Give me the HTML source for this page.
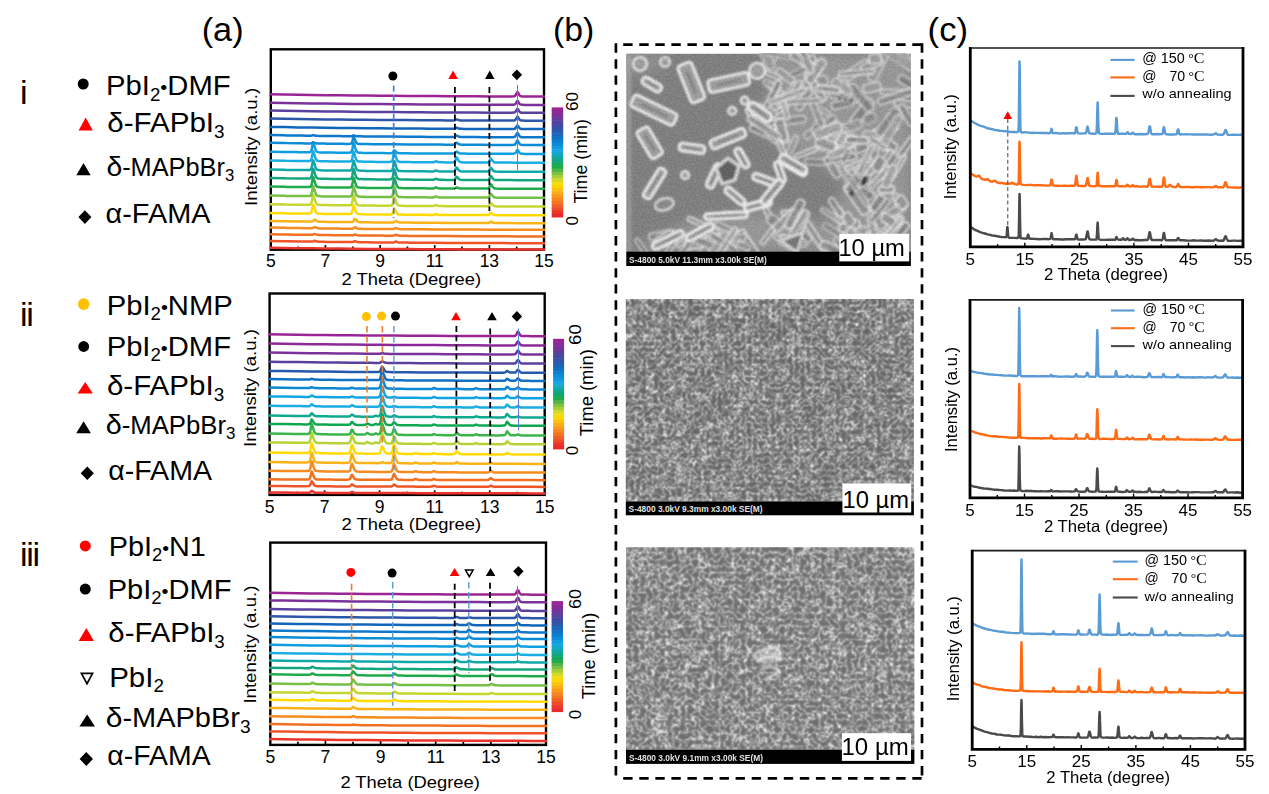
<!DOCTYPE html>
<html lang="en"><head><meta charset="utf-8"><title>XRD and SEM figure</title>
<style>
html,body{margin:0;padding:0;background:#fff;}
body{width:1269px;height:794px;overflow:hidden;font-family:'Liberation Sans', sans-serif;}
svg{display:block;}
svg text{font-family:'Liberation Sans', sans-serif;}
</style></head><body>
<svg width="1269" height="794" viewBox="0 0 1269 794">
<rect width="1269" height="794" fill="#fff"/>
<defs>
<filter id="fGrain" x="0" y="0" width="100%" height="100%" color-interpolation-filters="sRGB">
  <feTurbulence type="fractalNoise" baseFrequency="0.55" numOctaves="2" seed="7"/>
  <feColorMatrix type="matrix" values="2.2 0 0 0 -0.58  2.2 0 0 0 -0.58  2.2 0 0 0 -0.58  0 0 0 0 1"/>
</filter>
<filter id="fSem2" x="0" y="0" width="100%" height="100%" color-interpolation-filters="sRGB">
<feTurbulence type="fractalNoise" baseFrequency="0.17" numOctaves="2" seed="11"/>
<feColorMatrix type="matrix" values="1 0 0 0 0 1 0 0 0 0 1 0 0 0 0 0 0 0 0 1"/>
<feComponentTransfer><feFuncR type="table" tableValues="0.39 0.39 0.39 0.39 0.391 0.392 0.395 0.399 0.405 0.413 0.426 0.442 0.464 0.492 0.527 0.57 1.0 0.57 0.527 0.492 0.464 0.442 0.426 0.413 0.405 0.399 0.395 0.392 0.391 0.39 0.39 0.39 0.39"/><feFuncG type="table" tableValues="0.39 0.39 0.39 0.39 0.391 0.392 0.395 0.399 0.405 0.413 0.426 0.442 0.464 0.492 0.527 0.57 1.0 0.57 0.527 0.492 0.464 0.442 0.426 0.413 0.405 0.399 0.395 0.392 0.391 0.39 0.39 0.39 0.39"/><feFuncB type="table" tableValues="0.39 0.39 0.39 0.39 0.391 0.392 0.395 0.399 0.405 0.413 0.426 0.442 0.464 0.492 0.527 0.57 1.0 0.57 0.527 0.492 0.464 0.442 0.426 0.413 0.405 0.399 0.395 0.392 0.391 0.39 0.39 0.39 0.39"/></feComponentTransfer>
<feConvolveMatrix order="3" kernelMatrix="1 2 1 2 4 2 1 2 1" divisor="16" edgeMode="duplicate" preserveAlpha="true"/>
</filter>
<filter id="fSem3" x="0" y="0" width="100%" height="100%" color-interpolation-filters="sRGB">
<feTurbulence type="fractalNoise" baseFrequency="0.15" numOctaves="2" seed="23"/>
<feColorMatrix type="matrix" values="1 0 0 0 0 1 0 0 0 0 1 0 0 0 0 0 0 0 0 1"/>
<feComponentTransfer><feFuncR type="table" tableValues="0.42 0.42 0.42 0.42 0.421 0.422 0.425 0.429 0.435 0.443 0.456 0.472 0.494 0.522 0.557 0.6 1.0 0.6 0.557 0.522 0.494 0.472 0.456 0.443 0.435 0.429 0.425 0.422 0.421 0.42 0.42 0.42 0.42"/><feFuncG type="table" tableValues="0.42 0.42 0.42 0.42 0.421 0.422 0.425 0.429 0.435 0.443 0.456 0.472 0.494 0.522 0.557 0.6 1.0 0.6 0.557 0.522 0.494 0.472 0.456 0.443 0.435 0.429 0.425 0.422 0.421 0.42 0.42 0.42 0.42"/><feFuncB type="table" tableValues="0.42 0.42 0.42 0.42 0.421 0.422 0.425 0.429 0.435 0.443 0.456 0.472 0.494 0.522 0.557 0.6 1.0 0.6 0.557 0.522 0.494 0.472 0.456 0.443 0.435 0.429 0.425 0.422 0.421 0.42 0.42 0.42 0.42"/></feComponentTransfer>
<feConvolveMatrix order="3" kernelMatrix="1 2 1 2 4 2 1 2 1" divisor="16" edgeMode="duplicate" preserveAlpha="true"/>
</filter>
<filter id="fBlur06" filterUnits="userSpaceOnUse" x="600" y="30" width="340" height="250"><feGaussianBlur stdDeviation="0.9"/></filter>
<filter id="fBlur12" filterUnits="userSpaceOnUse" x="600" y="530" width="340" height="250"><feGaussianBlur stdDeviation="1.1"/></filter>
<filter id="fBlur5" filterUnits="userSpaceOnUse" x="560" y="0" width="420" height="330"><feGaussianBlur stdDeviation="7"/></filter>
<clipPath id="cS1"><rect x="626.4" y="53.8" width="284.4" height="198.2"/></clipPath>
<clipPath id="cS1d1"><path d="M762,53 L911,53 L911,252 L626,252 L640,244 L690,221 L735,213 L790,212 L826,224 L832,214 L846,182 L800,152 L770,140 L747,120 L772,90 Z"/></clipPath>
</defs>
<text x="201.70" y="40.60" font-size="33" textLength="41.90" lengthAdjust="spacingAndGlyphs" >(a)</text>
<text x="553.00" y="40.60" font-size="33" textLength="41.30" lengthAdjust="spacingAndGlyphs" >(b)</text>
<text x="927.60" y="40.60" font-size="33" textLength="40.40" lengthAdjust="spacingAndGlyphs" >(c)</text>
<rect x="270.8" y="49.3" width="273.2" height="200.39999999999998" fill="none" stroke="#000" stroke-width="2.4"/>
<line x1="298.1" y1="249.7" x2="298.1" y2="246.5" stroke="#000" stroke-width="1.7"/>
<line x1="325.4" y1="249.7" x2="325.4" y2="245.1" stroke="#000" stroke-width="1.7"/>
<line x1="352.8" y1="249.7" x2="352.8" y2="246.5" stroke="#000" stroke-width="1.7"/>
<line x1="380.1" y1="249.7" x2="380.1" y2="245.1" stroke="#000" stroke-width="1.7"/>
<line x1="407.4" y1="249.7" x2="407.4" y2="246.5" stroke="#000" stroke-width="1.7"/>
<line x1="434.7" y1="249.7" x2="434.7" y2="245.1" stroke="#000" stroke-width="1.7"/>
<line x1="462.0" y1="249.7" x2="462.0" y2="246.5" stroke="#000" stroke-width="1.7"/>
<line x1="489.4" y1="249.7" x2="489.4" y2="245.1" stroke="#000" stroke-width="1.7"/>
<line x1="516.7" y1="249.7" x2="516.7" y2="246.5" stroke="#000" stroke-width="1.7"/>
<polyline points="269.6,247.8 284.5,248.0 298.1,248.2 311.8,248.3 325.4,248.5 339.1,248.6 352.8,248.7 366.4,248.9 380.1,249.0 393.7,249.0 407.4,249.1 421.1,249.2 434.7,249.3 448.4,249.3 462.0,249.4 475.7,249.4 489.4,249.5 503.0,249.5 516.7,249.6 530.3,249.6 544.9,249.6" fill="none" stroke="#e9342b" stroke-width="2.5" stroke-linejoin="round"/>
<polyline points="269.6,241.0 284.5,241.2 287.2,241.3 298.1,241.5 303.6,241.6 306.9,241.6 309.0,241.6 310.7,241.6 311.8,241.6 312.6,241.6 313.3,241.3 314.0,240.9 314.5,240.7 315.3,240.9 316.2,241.2 317.2,241.6 318.6,241.7 320.0,241.8 322.2,241.8 324.9,241.8 325.4,241.9 327.6,241.9 328.2,241.9 333.6,242.0 338.6,242.0 339.1,242.0 341.8,242.1 344.0,242.1 347.3,242.1 349.5,242.1 351.1,242.1 352.2,242.1 352.8,242.1 353.0,242.0 353.7,241.8 354.4,241.4 354.9,241.2 355.8,241.4 356.6,241.7 357.7,242.0 359.0,242.2 360.4,242.2 362.6,242.3 365.3,242.3 366.4,242.3 368.3,242.3 368.6,242.3 374.1,242.4 379.3,242.4 380.1,242.4 382.3,242.4 384.7,242.5 388.0,242.5 390.2,242.5 391.8,242.5 392.9,242.5 393.2,242.5 393.7,242.4 394.4,242.2 395.1,241.7 395.7,241.6 396.5,241.7 397.3,242.1 398.4,242.4 399.8,242.5 401.1,242.6 403.3,242.6 406.0,242.6 407.4,242.6 409.3,242.7 414.8,242.7 421.1,242.7 423.0,242.7 433.9,242.8 434.7,242.8 448.4,242.9 462.0,243.0 475.7,243.0 489.4,243.1 503.0,243.1 516.7,243.2 530.3,243.2 544.9,243.2" fill="none" stroke="#ee5426" stroke-width="2.5" stroke-linejoin="round"/>
<polyline points="269.6,234.2 284.5,234.4 287.2,234.5 298.1,234.7 303.6,234.8 306.9,234.8 309.0,234.8 310.7,234.8 311.8,234.8 312.6,234.8 313.3,234.5 314.0,234.1 314.5,233.9 315.3,234.1 316.2,234.4 317.2,234.8 318.6,234.9 320.0,235.0 322.2,235.0 324.9,235.0 325.4,235.1 327.6,235.1 328.2,235.1 333.6,235.2 338.6,235.2 339.1,235.2 341.8,235.3 344.0,235.3 347.3,235.3 349.5,235.3 351.1,235.3 352.2,235.3 352.8,235.3 353.0,235.2 353.7,235.0 354.4,234.6 354.9,234.4 355.8,234.6 356.6,234.9 357.7,235.2 359.0,235.4 360.4,235.4 362.6,235.5 365.3,235.5 366.4,235.5 368.3,235.5 368.6,235.5 374.1,235.6 379.3,235.6 380.1,235.6 382.3,235.6 384.7,235.7 388.0,235.7 390.2,235.7 391.8,235.7 392.9,235.7 393.2,235.7 393.7,235.6 394.4,235.4 395.1,234.9 395.7,234.8 396.5,234.9 397.3,235.3 398.4,235.6 399.8,235.7 401.1,235.8 403.3,235.8 406.0,235.8 407.4,235.8 409.3,235.9 414.8,235.9 421.1,235.9 423.0,235.9 433.9,236.0 434.7,236.0 448.4,236.1 462.0,236.2 475.7,236.2 489.4,236.3 503.0,236.3 516.7,236.4 530.3,236.4 544.9,236.4" fill="none" stroke="#f37021" stroke-width="2.5" stroke-linejoin="round"/>
<polyline points="269.6,227.6 284.5,227.8 287.2,227.9 298.1,228.1 303.6,228.2 306.9,228.2 309.0,228.2 310.7,228.2 311.8,228.2 312.6,228.1 313.3,227.8 314.0,227.3 314.5,227.1 315.3,227.3 316.2,227.7 317.2,228.1 318.6,228.3 320.0,228.4 322.2,228.4 324.9,228.4 325.4,228.4 327.6,228.5 328.2,228.5 333.6,228.6 338.6,228.6 339.1,228.6 341.8,228.7 344.0,228.7 347.3,228.7 349.5,228.7 351.1,228.7 352.2,228.7 352.8,228.6 353.0,228.6 353.7,228.2 354.4,227.6 354.9,227.3 355.8,227.6 356.6,228.0 357.7,228.5 359.0,228.8 360.4,228.8 362.6,228.9 365.3,228.9 366.4,228.9 368.3,228.9 368.6,228.9 374.1,229.0 379.3,229.0 380.1,229.0 382.3,229.0 384.7,229.1 388.0,229.1 390.2,229.1 391.8,229.1 392.9,229.1 393.2,229.1 393.7,229.0 394.4,228.7 395.1,228.2 395.7,228.0 396.5,228.2 397.3,228.6 398.4,228.9 399.8,229.1 401.1,229.2 403.3,229.2 406.0,229.2 407.4,229.2 409.3,229.3 414.8,229.3 421.1,229.3 423.0,229.3 433.9,229.4 434.7,229.4 448.4,229.5 462.0,229.6 475.7,229.6 489.4,229.7 503.0,229.7 516.7,229.8 530.3,229.8 544.9,229.8" fill="none" stroke="#f68b1f" stroke-width="2.5" stroke-linejoin="round"/>
<polyline points="269.6,221.0 284.5,221.2 287.2,221.3 298.1,221.5 303.6,221.5 306.9,221.6 309.0,221.6 310.7,221.6 311.8,221.6 312.6,221.4 313.3,220.8 314.0,219.9 314.5,219.5 315.3,219.9 316.2,220.6 317.2,221.3 318.6,221.7 320.0,221.7 322.2,221.8 324.9,221.8 325.4,221.8 327.6,221.9 328.2,221.9 333.6,222.0 338.6,222.0 339.1,222.0 341.8,222.0 344.0,222.1 347.3,222.1 349.5,222.1 351.1,222.1 352.2,222.0 352.8,221.9 353.0,221.7 353.7,220.8 354.4,219.4 354.9,218.7 355.8,219.3 356.6,220.4 357.7,221.5 359.0,222.1 360.4,222.2 362.6,222.2 365.3,222.3 366.4,222.3 368.3,222.3 368.6,222.3 374.1,222.4 379.3,222.4 380.1,222.4 382.3,222.4 384.7,222.5 388.0,222.5 390.2,222.5 391.8,222.5 392.9,222.5 393.2,222.4 393.7,222.3 394.4,221.9 395.1,221.3 395.7,221.0 396.5,221.2 397.3,221.7 398.4,222.3 399.8,222.5 401.1,222.6 403.3,222.6 406.0,222.6 407.4,222.6 409.3,222.6 414.8,222.7 421.1,222.7 423.0,222.7 433.9,222.8 434.7,222.8 448.4,222.9 462.0,223.0 463.4,223.0 474.3,223.0 475.7,223.0 479.8,223.0 483.1,223.0 485.3,223.0 486.9,223.0 488.0,223.0 488.8,222.9 489.4,222.6 489.5,222.5 490.2,221.9 490.7,221.6 491.5,221.8 492.4,222.3 493.5,222.8 494.8,223.0 496.2,223.1 498.4,223.1 501.1,223.1 503.0,223.1 504.4,223.1 509.9,223.1 516.7,223.2 518.0,223.2 529.0,223.2 530.3,223.2 544.9,223.2" fill="none" stroke="#fbb216" stroke-width="2.5" stroke-linejoin="round"/>
<polyline points="269.6,213.1 284.5,213.3 285.8,213.4 296.8,213.5 298.1,213.6 302.2,213.6 305.5,213.6 307.7,213.6 309.3,213.6 310.4,213.4 311.2,212.5 311.8,210.9 311.9,210.3 312.6,206.5 313.1,204.8 314.0,206.3 314.8,209.2 315.9,212.1 317.2,213.4 318.6,213.7 320.8,213.8 323.5,213.9 325.4,213.9 326.3,213.9 326.8,213.9 332.3,214.0 337.2,214.1 339.1,214.1 340.5,214.1 342.7,214.1 345.9,214.1 348.1,214.1 349.8,214.1 350.8,213.9 351.4,213.5 351.7,213.0 352.4,210.7 352.8,208.5 353.0,207.0 353.6,205.3 354.4,206.8 355.2,209.7 356.3,212.6 357.7,213.9 359.0,214.1 361.2,214.2 364.0,214.3 366.4,214.4 367.0,214.4 367.2,214.4 372.7,214.4 377.9,214.5 380.1,214.5 380.9,214.5 383.4,214.5 386.6,214.5 388.8,214.5 390.5,214.5 391.6,214.4 391.8,214.3 392.4,213.8 393.1,212.3 393.7,209.8 394.3,208.6 395.1,209.6 395.9,211.6 397.0,213.5 398.4,214.4 399.8,214.5 401.9,214.6 404.7,214.7 407.4,214.7 407.9,214.7 408.5,214.7 413.4,214.8 419.4,214.8 421.1,214.8 421.6,214.8 424.9,214.8 428.2,214.9 430.3,214.9 432.0,214.9 432.5,214.9 433.1,214.9 433.9,214.8 434.6,214.5 434.7,214.4 435.3,214.1 435.8,213.9 436.6,214.1 437.5,214.4 438.5,214.7 439.9,214.9 441.3,214.9 443.5,214.9 446.2,215.0 448.4,215.0 449.5,215.0 454.9,215.0 462.0,215.1 463.1,215.1 463.4,215.1 474.1,215.1 474.3,215.1 475.7,215.1 479.8,215.1 483.1,215.1 485.3,215.1 486.9,215.1 488.0,215.1 488.8,214.8 489.4,214.4 489.5,214.2 490.2,213.1 490.7,212.7 491.5,213.1 492.4,213.9 493.5,214.7 494.8,215.1 496.2,215.1 498.4,215.2 501.1,215.2 503.0,215.2 504.4,215.2 509.9,215.2 516.7,215.3 518.0,215.3 529.0,215.3 530.3,215.3 544.9,215.3" fill="none" stroke="#ffd900" stroke-width="2.5" stroke-linejoin="round"/>
<polyline points="269.6,204.3 284.5,204.5 285.8,204.6 296.8,204.7 298.1,204.8 302.2,204.8 305.5,204.8 307.7,204.8 309.3,204.8 310.4,204.5 311.2,203.6 311.8,201.7 311.9,201.1 312.6,196.9 313.1,195.0 314.0,196.7 314.8,199.9 315.9,203.1 317.2,204.5 318.6,204.8 320.8,205.0 323.5,205.1 325.4,205.1 326.3,205.1 326.8,205.1 332.3,205.2 337.2,205.3 339.1,205.3 340.5,205.3 342.7,205.3 345.9,205.3 348.1,205.3 349.8,205.2 350.8,205.0 351.4,204.6 351.7,204.1 352.4,201.6 352.8,199.1 353.0,197.4 353.6,195.5 354.4,197.2 355.2,200.4 356.3,203.6 357.7,205.0 359.0,205.3 361.2,205.4 364.0,205.5 366.4,205.6 367.0,205.6 367.2,205.6 372.7,205.6 377.9,205.7 380.1,205.7 380.9,205.7 383.4,205.7 386.6,205.7 388.8,205.7 390.5,205.6 391.6,205.4 391.8,205.3 392.4,204.6 393.1,202.3 393.7,198.5 394.3,196.8 395.1,198.3 395.9,201.2 397.0,204.1 398.4,205.4 399.8,205.7 401.9,205.8 404.7,205.9 407.4,205.9 407.9,205.9 408.5,205.9 413.4,206.0 419.4,206.0 421.1,206.0 421.6,206.0 424.9,206.0 428.2,206.1 430.3,206.1 432.0,206.1 432.5,206.1 433.1,206.1 433.9,206.0 434.6,205.7 434.7,205.6 435.3,205.3 435.8,205.1 436.6,205.3 437.5,205.6 438.5,205.9 439.9,206.1 441.3,206.1 443.5,206.1 446.2,206.2 448.4,206.2 449.5,206.2 454.9,206.2 462.0,206.3 463.1,206.3 463.4,206.3 474.1,206.3 474.3,206.3 475.7,206.3 479.8,206.3 483.1,206.3 485.3,206.3 486.9,206.3 488.0,206.2 488.8,205.9 489.4,205.2 489.5,205.0 490.2,203.5 490.7,202.9 491.5,203.5 492.4,204.6 493.5,205.7 494.8,206.2 496.2,206.3 498.4,206.4 501.1,206.4 503.0,206.4 504.4,206.4 509.9,206.4 516.7,206.5 518.0,206.5 529.0,206.5 530.3,206.5 544.9,206.5" fill="none" stroke="#c5d62f" stroke-width="2.5" stroke-linejoin="round"/>
<polyline points="269.6,195.6 284.5,195.8 285.8,195.9 296.8,196.0 298.1,196.1 302.2,196.1 305.5,196.1 307.7,196.1 309.3,196.1 310.4,195.8 311.2,194.9 311.8,193.0 311.9,192.4 312.6,188.2 313.1,186.3 314.0,188.0 314.8,191.2 315.9,194.4 317.2,195.8 318.6,196.1 320.8,196.3 323.5,196.4 325.4,196.4 326.3,196.4 326.8,196.4 332.3,196.5 337.2,196.6 339.1,196.6 340.5,196.6 342.7,196.6 345.9,196.6 348.1,196.6 349.8,196.5 350.8,196.3 351.4,195.9 351.7,195.4 352.4,192.9 352.8,190.4 353.0,188.7 353.6,186.8 354.4,188.5 355.2,191.7 356.3,194.9 357.7,196.3 359.0,196.6 361.2,196.7 364.0,196.8 366.4,196.9 367.0,196.9 367.2,196.9 372.7,196.9 377.9,197.0 380.1,197.0 380.9,197.0 383.4,197.0 386.6,197.0 388.8,197.0 390.5,196.9 391.6,196.7 391.8,196.5 392.4,195.8 393.1,193.2 393.7,189.0 394.3,187.1 395.1,188.8 395.9,192.0 397.0,195.2 398.4,196.7 399.8,196.9 401.9,197.1 404.7,197.2 407.4,197.2 407.9,197.2 408.5,197.2 413.4,197.3 419.4,197.3 421.1,197.3 421.6,197.3 424.9,197.3 428.2,197.4 430.3,197.4 432.0,197.4 432.5,197.4 433.1,197.4 433.9,197.3 434.6,197.0 434.7,196.9 435.3,196.6 435.8,196.4 436.6,196.6 437.5,196.9 438.5,197.2 439.9,197.4 441.3,197.4 443.5,197.4 446.2,197.5 448.4,197.5 449.5,197.5 454.9,197.5 462.0,197.6 463.1,197.6 463.4,197.6 474.1,197.6 474.3,197.6 475.7,197.6 479.8,197.6 483.1,197.6 485.3,197.6 486.9,197.6 488.0,197.5 488.8,197.1 489.4,196.4 489.5,196.1 490.2,194.4 490.7,193.7 491.5,194.3 492.4,195.6 493.5,196.9 494.8,197.5 496.2,197.6 498.4,197.7 501.1,197.7 503.0,197.7 504.4,197.7 509.9,197.7 516.7,197.8 518.0,197.8 529.0,197.8 530.3,197.8 544.9,197.8" fill="none" stroke="#74bf44" stroke-width="2.5" stroke-linejoin="round"/>
<polyline points="269.6,186.6 284.5,186.8 285.8,186.9 296.8,187.0 298.1,187.1 302.2,187.1 305.5,187.1 307.7,187.1 309.3,187.1 310.4,186.8 311.2,185.9 311.8,184.0 311.9,183.4 312.6,179.2 313.1,177.3 314.0,179.0 314.8,182.2 315.9,185.4 317.2,186.8 318.6,187.1 320.8,187.3 323.5,187.4 325.4,187.4 326.3,187.4 326.8,187.4 332.3,187.5 337.2,187.6 339.1,187.6 340.5,187.6 342.7,187.6 345.9,187.6 348.1,187.6 349.8,187.5 350.8,187.3 351.4,186.9 351.7,186.4 352.4,183.9 352.8,181.4 353.0,179.7 353.6,177.8 354.4,179.5 355.2,182.7 356.3,185.9 357.7,187.3 359.0,187.6 361.2,187.7 364.0,187.8 366.4,187.9 367.0,187.9 367.2,187.9 372.7,187.9 377.9,188.0 380.1,188.0 380.9,188.0 383.4,188.0 386.6,188.0 388.8,188.0 390.5,187.9 391.6,187.7 391.8,187.5 392.4,186.8 393.1,184.2 393.7,180.0 394.3,178.1 395.1,179.8 395.9,183.0 397.0,186.2 398.4,187.7 399.8,187.9 401.9,188.1 404.7,188.2 407.4,188.2 407.9,188.2 408.5,188.2 413.4,188.3 419.4,188.3 421.1,188.3 421.6,188.3 424.9,188.3 428.2,188.4 429.3,188.4 430.3,188.4 432.0,188.4 432.5,188.4 433.1,188.4 433.9,188.3 434.6,188.0 434.7,187.9 435.3,187.6 435.8,187.4 436.6,187.6 437.5,187.9 438.5,188.2 439.9,188.4 440.2,188.4 441.3,188.4 443.5,188.4 445.6,188.5 446.2,188.5 448.4,188.5 448.9,188.5 449.5,188.5 451.1,188.5 452.8,188.5 453.8,188.5 454.7,188.4 454.9,188.3 455.3,188.1 456.0,187.7 456.6,187.5 457.4,187.7 458.2,188.0 459.3,188.3 460.7,188.5 462.0,188.5 463.1,188.5 463.4,188.5 464.2,188.6 467.0,188.6 470.2,188.6 474.1,188.6 474.3,188.6 475.7,188.6 479.8,188.6 483.1,188.6 483.9,188.6 485.3,188.6 486.9,188.6 488.0,188.5 488.8,188.1 489.4,187.2 489.5,186.9 490.2,185.0 490.7,184.2 491.5,184.9 492.4,186.4 493.5,187.8 494.8,188.5 496.2,188.6 498.4,188.7 501.1,188.7 503.0,188.7 504.4,188.7 509.9,188.7 516.7,188.8 518.0,188.8 529.0,188.8 530.3,188.8 544.9,188.8" fill="none" stroke="#1faa4b" stroke-width="2.5" stroke-linejoin="round"/>
<polyline points="269.6,178.0 284.5,178.2 285.8,178.3 296.8,178.4 298.1,178.5 302.2,178.5 305.5,178.5 307.7,178.5 309.3,178.5 310.4,178.2 311.2,177.3 311.8,175.4 311.9,174.8 312.6,170.6 313.1,168.7 314.0,170.4 314.8,173.6 315.9,176.8 317.2,178.2 318.6,178.5 320.8,178.7 323.5,178.8 325.4,178.8 326.3,178.8 326.8,178.8 332.3,178.9 337.2,179.0 339.1,179.0 340.5,179.0 342.7,179.0 345.9,179.0 348.1,179.0 349.8,178.9 350.8,178.7 351.4,178.3 351.7,177.8 352.4,175.3 352.8,172.8 353.0,171.1 353.6,169.2 354.4,170.9 355.2,174.1 356.3,177.3 357.7,178.7 359.0,179.0 361.2,179.1 364.0,179.2 366.4,179.3 367.0,179.3 367.2,179.3 372.7,179.3 377.9,179.4 380.1,179.4 380.9,179.4 383.4,179.4 386.6,179.4 388.8,179.4 390.5,179.3 391.6,179.1 391.8,178.9 392.4,178.2 393.1,175.6 393.7,171.4 394.3,169.5 395.1,171.2 395.9,174.4 397.0,177.6 398.4,179.1 399.8,179.3 401.9,179.5 404.7,179.6 407.4,179.6 407.9,179.6 408.5,179.6 413.4,179.7 419.4,179.7 421.1,179.7 421.6,179.7 424.9,179.7 428.2,179.8 429.3,179.8 430.3,179.8 432.0,179.8 432.5,179.8 433.1,179.8 433.9,179.7 434.6,179.4 434.7,179.3 435.3,179.0 435.8,178.8 436.6,179.0 437.5,179.3 438.5,179.6 439.9,179.8 440.2,179.8 441.3,179.8 443.5,179.8 445.6,179.9 446.2,179.9 448.4,179.9 448.9,179.9 449.5,179.9 451.1,179.9 452.8,179.9 453.8,179.8 454.7,179.5 454.9,179.3 455.3,178.7 456.0,177.5 456.6,176.9 457.4,177.4 458.2,178.4 459.3,179.4 460.7,179.8 462.0,179.9 463.1,179.9 463.4,179.9 464.2,179.9 467.0,180.0 470.2,180.0 474.1,180.0 474.3,180.0 475.7,180.0 479.8,180.0 483.1,180.0 483.9,180.0 485.3,180.0 486.9,180.0 488.0,179.9 488.8,179.5 489.4,178.8 489.5,178.5 490.2,176.8 490.7,176.1 491.5,176.7 492.4,178.0 493.5,179.3 494.8,179.9 496.2,180.0 498.4,180.1 501.1,180.1 503.0,180.1 504.4,180.1 509.9,180.1 516.7,180.2 518.0,180.2 529.0,180.2 530.3,180.2 544.9,180.2" fill="none" stroke="#12a67c" stroke-width="2.5" stroke-linejoin="round"/>
<polyline points="269.6,169.6 284.5,169.8 285.8,169.9 296.8,170.0 298.1,170.1 302.2,170.1 305.5,170.1 307.7,170.1 309.3,170.1 310.4,169.8 311.2,168.9 311.8,167.0 311.9,166.4 312.6,162.2 313.1,160.3 314.0,162.0 314.8,165.2 315.9,168.4 317.2,169.8 318.6,170.1 320.8,170.3 323.5,170.4 325.4,170.4 326.3,170.4 326.8,170.4 332.3,170.5 337.2,170.6 339.1,170.6 340.5,170.6 342.7,170.6 345.9,170.6 348.1,170.6 349.8,170.5 350.8,170.3 351.4,169.9 351.7,169.4 352.4,166.9 352.8,164.4 353.0,162.7 353.6,160.8 354.4,162.5 355.2,165.7 356.3,168.9 357.7,170.3 359.0,170.6 361.2,170.7 364.0,170.8 366.4,170.9 367.0,170.9 367.2,170.9 372.7,170.9 377.9,171.0 380.1,171.0 380.9,171.0 383.4,171.0 386.6,171.0 388.8,171.0 390.5,170.9 391.6,170.7 391.8,170.5 392.4,169.8 393.1,167.2 393.7,163.0 394.3,161.1 395.1,162.8 395.9,166.0 397.0,169.2 398.4,170.7 399.8,170.9 401.9,171.1 404.7,171.2 407.4,171.2 407.9,171.2 408.5,171.2 413.4,171.3 419.4,171.3 421.1,171.3 421.6,171.3 424.9,171.3 428.2,171.4 429.3,171.4 430.3,171.4 432.0,171.4 432.5,171.4 433.1,171.4 433.9,171.3 434.6,171.0 434.7,170.9 435.3,170.6 435.8,170.4 436.6,170.6 437.5,170.9 438.5,171.2 439.9,171.4 440.2,171.4 441.3,171.4 443.5,171.4 445.6,171.5 446.2,171.5 448.4,171.5 448.9,171.5 449.5,171.5 451.1,171.5 452.8,171.4 453.8,171.3 454.7,171.0 454.9,170.7 455.3,170.0 456.0,168.3 456.6,167.5 457.4,168.2 458.2,169.5 459.3,170.8 460.7,171.3 462.0,171.5 463.1,171.5 463.4,171.5 464.2,171.5 467.0,171.5 470.2,171.6 474.1,171.6 474.3,171.6 475.7,171.6 479.8,171.6 483.1,171.6 483.9,171.6 485.3,171.6 486.9,171.6 488.0,171.5 488.8,171.1 489.4,170.4 489.5,170.1 490.2,168.4 490.7,167.7 491.5,168.3 492.4,169.6 493.5,170.9 494.8,171.5 496.2,171.6 498.4,171.7 501.1,171.7 503.0,171.7 504.4,171.7 509.9,171.7 516.7,171.8 518.0,171.8 529.0,171.8 530.3,171.8 544.9,171.8" fill="none" stroke="#10a9a8" stroke-width="2.5" stroke-linejoin="round"/>
<polyline points="269.6,160.5 284.5,160.7 285.8,160.8 296.8,160.9 298.1,161.0 302.2,161.0 305.5,161.0 307.7,161.0 309.3,161.0 310.4,160.7 311.2,159.8 311.8,157.9 311.9,157.3 312.6,153.1 313.1,151.2 314.0,152.9 314.8,156.1 315.9,159.3 317.2,160.7 318.6,161.0 320.8,161.2 323.5,161.3 325.4,161.3 326.3,161.3 326.8,161.3 332.3,161.4 337.2,161.5 339.1,161.5 340.5,161.5 342.7,161.5 345.9,161.5 348.1,161.5 349.8,161.4 350.8,161.2 351.4,160.8 351.7,160.3 352.4,157.8 352.8,155.3 353.0,153.6 353.6,151.7 354.4,153.4 355.2,156.6 356.3,159.8 357.7,161.2 359.0,161.5 361.2,161.6 364.0,161.7 366.4,161.8 367.0,161.8 367.2,161.8 372.7,161.8 377.9,161.9 380.1,161.9 380.9,161.9 383.4,161.9 386.6,161.9 388.8,161.9 390.5,161.8 391.6,161.6 391.8,161.4 392.4,160.7 393.1,158.1 393.7,153.9 394.3,152.0 395.1,153.7 395.9,156.9 397.0,160.1 398.4,161.6 399.8,161.8 401.9,162.0 404.7,162.1 407.4,162.1 407.9,162.1 408.5,162.1 413.4,162.2 419.4,162.2 421.1,162.2 421.6,162.2 424.9,162.2 428.2,162.3 429.3,162.3 430.3,162.3 432.0,162.3 432.5,162.3 433.1,162.3 433.9,162.2 434.6,161.9 434.7,161.8 435.3,161.5 435.8,161.3 436.6,161.5 437.5,161.8 438.5,162.1 439.9,162.3 440.2,162.3 441.3,162.3 443.5,162.3 445.6,162.4 446.2,162.4 448.4,162.4 448.9,162.4 449.5,162.4 451.1,162.4 452.8,162.3 453.8,162.2 454.7,161.7 454.9,161.4 455.3,160.5 456.0,158.4 456.6,157.4 457.4,158.3 458.2,159.9 459.3,161.5 460.7,162.2 462.0,162.3 463.1,162.4 463.4,162.4 464.2,162.4 467.0,162.4 470.2,162.5 474.1,162.5 474.3,162.5 475.7,162.5 479.8,162.5 483.1,162.5 483.9,162.5 485.3,162.5 486.9,162.5 488.0,162.4 488.8,162.0 489.4,161.3 489.5,161.0 490.2,159.3 490.7,158.6 491.5,159.2 492.4,160.5 493.5,161.8 494.8,162.4 496.2,162.5 498.4,162.6 501.1,162.6 503.0,162.6 504.4,162.6 509.9,162.6 516.7,162.7 518.0,162.7 529.0,162.7 530.3,162.7 544.9,162.7" fill="none" stroke="#19ade4" stroke-width="2.5" stroke-linejoin="round"/>
<polyline points="269.6,151.7 284.5,151.9 285.8,152.0 296.8,152.1 298.1,152.2 302.2,152.2 305.5,152.2 307.7,152.2 309.3,152.2 310.4,151.9 311.2,151.0 311.8,149.1 311.9,148.5 312.6,144.3 313.1,142.4 314.0,144.1 314.8,147.3 315.9,150.5 317.2,151.9 318.6,152.2 320.8,152.4 323.5,152.5 325.4,152.5 326.3,152.5 326.8,152.5 332.3,152.6 337.2,152.7 339.1,152.7 340.5,152.7 342.7,152.7 345.9,152.7 348.1,152.7 349.8,152.6 350.8,152.4 351.4,152.0 351.7,151.5 352.4,149.0 352.8,146.5 353.0,144.8 353.6,142.9 354.4,144.6 355.2,147.8 356.3,151.0 357.7,152.4 359.0,152.7 361.2,152.8 364.0,152.9 366.4,153.0 367.0,153.0 367.2,153.0 372.7,153.0 377.9,153.1 380.1,153.1 380.9,153.1 383.4,153.1 386.6,153.2 388.8,153.2 390.5,153.2 391.6,153.1 391.8,153.0 392.4,152.8 393.1,152.1 393.7,150.8 394.3,150.2 395.1,150.7 395.9,151.7 397.0,152.7 398.4,153.1 399.8,153.2 401.9,153.3 404.7,153.3 407.4,153.3 407.9,153.3 413.4,153.4 421.1,153.4 421.6,153.4 429.3,153.5 432.5,153.5 434.7,153.5 440.2,153.5 445.6,153.6 448.4,153.6 448.9,153.6 451.1,153.6 452.8,153.6 453.8,153.5 454.7,153.4 455.3,152.8 456.0,152.0 456.6,151.6 457.4,152.0 458.2,152.6 459.3,153.3 460.7,153.5 462.0,153.6 464.2,153.6 467.0,153.7 470.2,153.7 475.7,153.7 483.9,153.7 489.4,153.8 490.2,153.8 494.8,153.8 501.1,153.8 503.0,153.8 506.6,153.8 509.9,153.8 512.0,153.8 513.7,153.7 514.8,153.4 515.6,152.7 516.3,151.6 516.7,150.8 517.0,150.3 517.5,149.9 518.3,150.8 519.1,152.3 520.2,153.4 521.6,153.8 523.0,153.8 525.1,153.9 527.9,153.9 530.3,153.9 531.2,153.9 536.6,153.9 544.9,153.9" fill="none" stroke="#0e9ee0" stroke-width="2.5" stroke-linejoin="round"/>
<polyline points="269.6,142.8 284.5,143.0 285.8,143.1 296.8,143.2 298.1,143.3 302.2,143.3 305.5,143.4 307.7,143.4 309.3,143.4 310.4,143.4 311.2,143.3 311.8,143.1 311.9,143.0 312.6,142.5 313.1,142.3 314.0,142.5 314.8,142.9 315.9,143.3 317.2,143.5 318.6,143.5 320.8,143.6 323.5,143.6 325.4,143.6 326.3,143.7 326.8,143.7 332.3,143.7 337.2,143.8 339.1,143.8 340.5,143.8 342.7,143.8 345.9,143.9 348.1,143.9 349.8,143.8 350.8,143.7 351.4,143.4 351.7,143.0 352.4,141.2 352.8,139.5 353.0,138.3 353.6,137.0 354.4,138.2 355.2,140.4 356.3,142.7 357.7,143.7 359.0,143.9 361.2,144.0 364.0,144.0 366.4,144.1 367.2,144.1 372.7,144.2 380.1,144.2 380.9,144.2 391.8,144.3 393.7,144.3 407.4,144.4 421.1,144.5 429.3,144.6 434.7,144.6 440.2,144.6 445.6,144.7 448.4,144.7 448.9,144.7 451.1,144.7 452.8,144.7 453.8,144.6 454.7,144.5 455.3,143.9 456.0,143.1 456.6,142.7 457.4,143.1 458.2,143.7 459.3,144.4 460.7,144.6 462.0,144.7 464.2,144.7 467.0,144.8 470.2,144.8 475.7,144.8 483.9,144.8 489.4,144.9 490.2,144.9 494.8,144.9 501.1,144.9 503.0,144.9 506.6,144.9 509.9,144.9 512.0,144.9 513.7,144.8 514.8,144.5 515.6,143.7 516.3,142.4 516.7,141.5 517.0,141.0 517.5,140.5 518.3,141.5 519.1,143.2 520.2,144.5 521.6,144.9 523.0,144.9 525.1,145.0 527.9,145.0 530.3,145.0 531.2,145.0 536.6,145.0 544.9,145.0" fill="none" stroke="#0c8bd6" stroke-width="2.5" stroke-linejoin="round"/>
<polyline points="269.6,135.1 284.5,135.3 285.8,135.4 296.8,135.5 298.1,135.6 302.2,135.6 305.5,135.7 307.7,135.7 309.3,135.7 310.4,135.7 311.2,135.7 311.8,135.6 311.9,135.5 312.6,135.3 313.1,135.2 314.0,135.3 314.8,135.5 315.9,135.7 317.2,135.8 318.6,135.9 320.8,135.9 323.5,135.9 325.4,136.0 326.3,136.0 326.8,136.0 332.3,136.0 337.2,136.1 339.1,136.1 340.5,136.1 342.7,136.2 345.9,136.2 348.1,136.2 349.8,136.2 350.8,136.2 351.4,136.2 351.7,136.2 352.4,136.0 352.8,135.8 353.0,135.6 353.6,135.5 354.4,135.6 355.2,135.9 356.3,136.2 357.7,136.3 359.0,136.3 361.2,136.3 364.0,136.4 366.4,136.4 367.2,136.4 372.7,136.5 380.1,136.5 380.9,136.5 391.8,136.6 393.7,136.6 407.4,136.7 421.1,136.8 429.3,136.9 434.7,136.9 440.2,136.9 445.6,137.0 448.4,137.0 448.9,137.0 451.1,137.0 452.8,137.0 453.8,137.0 454.7,136.8 455.3,136.4 456.0,135.8 456.6,135.5 457.4,135.8 458.2,136.3 459.3,136.8 460.7,137.0 462.0,137.0 464.2,137.0 467.0,137.1 470.2,137.1 475.7,137.1 483.9,137.2 489.4,137.2 490.2,137.2 494.8,137.2 501.1,137.2 503.0,137.2 506.6,137.2 509.9,137.2 512.0,137.2 513.7,137.1 514.8,136.8 515.6,136.0 516.3,134.7 516.7,133.8 517.0,133.3 517.5,132.8 518.3,133.8 519.1,135.5 520.2,136.8 521.6,137.2 523.0,137.2 525.1,137.3 527.9,137.3 530.3,137.3 531.2,137.3 536.6,137.3 544.9,137.3" fill="none" stroke="#0f78ca" stroke-width="2.5" stroke-linejoin="round"/>
<polyline points="269.6,126.9 284.5,127.1 298.1,127.4 311.8,127.6 325.4,127.8 339.1,127.9 352.8,128.1 366.4,128.2 380.1,128.3 393.7,128.4 407.4,128.5 421.1,128.6 429.3,128.7 434.7,128.7 440.2,128.7 445.6,128.8 448.4,128.8 448.9,128.8 451.1,128.8 452.8,128.8 453.8,128.8 454.7,128.7 455.3,128.4 456.0,128.0 456.6,127.8 457.4,128.0 458.2,128.3 459.3,128.7 460.7,128.8 462.0,128.8 464.2,128.9 467.0,128.9 470.2,128.9 475.7,128.9 483.9,129.0 489.4,129.0 490.2,129.0 494.8,129.0 501.1,129.0 503.0,129.0 506.6,129.0 509.9,129.0 512.0,129.0 513.7,128.9 514.8,128.7 515.6,128.0 516.3,127.1 516.7,126.4 517.0,126.0 517.5,125.6 518.3,126.4 519.1,127.7 520.2,128.7 521.6,129.0 523.0,129.0 525.1,129.1 527.9,129.1 530.3,129.1 531.2,129.1 536.6,129.1 544.9,129.1" fill="none" stroke="#1166b9" stroke-width="2.5" stroke-linejoin="round"/>
<polyline points="269.6,118.5 284.5,118.7 298.1,119.0 311.8,119.2 325.4,119.4 339.1,119.5 352.8,119.7 366.4,119.8 380.1,119.9 393.7,120.0 407.4,120.1 421.1,120.2 429.3,120.3 434.7,120.3 440.2,120.3 445.6,120.4 448.4,120.4 448.9,120.4 451.1,120.4 452.8,120.4 453.8,120.4 454.7,120.3 455.3,120.0 456.0,119.6 456.6,119.4 457.4,119.6 458.2,119.9 459.3,120.3 460.7,120.4 462.0,120.4 464.2,120.5 467.0,120.5 470.2,120.5 475.7,120.5 483.9,120.6 489.4,120.6 490.2,120.6 494.8,120.6 501.1,120.6 503.0,120.6 506.6,120.6 509.9,120.6 512.0,120.6 513.7,120.5 514.8,120.2 515.6,119.5 516.3,118.4 516.7,117.6 517.0,117.1 517.5,116.7 518.3,117.6 519.1,119.1 520.2,120.2 521.6,120.6 523.0,120.6 525.1,120.7 527.9,120.7 530.3,120.7 531.2,120.7 536.6,120.7 544.9,120.7" fill="none" stroke="#2c56a8" stroke-width="2.5" stroke-linejoin="round"/>
<polyline points="269.6,110.6 284.5,110.8 298.1,111.1 311.8,111.3 325.4,111.5 339.1,111.6 352.8,111.8 366.4,111.9 380.1,112.0 393.7,112.1 407.4,112.2 421.1,112.3 434.7,112.4 448.4,112.5 462.0,112.6 475.7,112.6 489.4,112.7 490.2,112.7 501.1,112.7 503.0,112.7 506.6,112.7 509.9,112.7 512.0,112.7 513.7,112.6 514.8,112.3 515.6,111.6 516.3,110.5 516.7,109.7 517.0,109.2 517.5,108.8 518.3,109.7 519.1,111.2 520.2,112.3 521.6,112.7 523.0,112.7 525.1,112.8 527.9,112.8 530.3,112.8 531.2,112.8 536.6,112.8 544.9,112.8" fill="none" stroke="#5a409e" stroke-width="2.5" stroke-linejoin="round"/>
<polyline points="269.6,102.7 284.5,102.9 298.1,103.2 311.8,103.4 325.4,103.6 339.1,103.7 352.8,103.9 366.4,104.0 380.1,104.1 393.7,104.2 407.4,104.3 421.1,104.4 434.7,104.5 448.4,104.6 462.0,104.7 475.7,104.7 489.4,104.8 490.2,104.8 501.1,104.8 503.0,104.8 506.6,104.8 509.9,104.8 512.0,104.8 513.7,104.7 514.8,104.4 515.6,103.7 516.3,102.6 516.7,101.8 517.0,101.3 517.5,100.9 518.3,101.8 519.1,103.3 520.2,104.4 521.6,104.8 523.0,104.8 525.1,104.9 527.9,104.9 530.3,104.9 531.2,104.9 536.6,104.9 544.9,104.9" fill="none" stroke="#7a329a" stroke-width="2.5" stroke-linejoin="round"/>
<polyline points="269.6,94.3 284.5,94.5 298.1,94.8 311.8,95.0 325.4,95.2 339.1,95.3 352.8,95.5 366.4,95.6 380.1,95.7 393.7,95.8 407.4,95.9 421.1,96.0 434.7,96.1 448.4,96.2 462.0,96.3 475.7,96.3 489.4,96.4 490.2,96.4 501.1,96.4 503.0,96.4 506.6,96.4 509.9,96.4 512.0,96.4 513.7,96.3 514.8,96.0 515.6,95.2 516.3,93.9 516.7,93.0 517.0,92.5 517.5,92.0 518.3,93.0 519.1,94.7 520.2,96.0 521.6,96.4 523.0,96.4 525.1,96.5 527.9,96.5 530.3,96.5 531.2,96.5 536.6,96.5 544.9,96.5" fill="none" stroke="#9a2494" stroke-width="2.5" stroke-linejoin="round"/>
<text x="270.80" y="267.30" font-size="17.5" text-anchor="middle" >5</text>
<text x="325.44" y="267.30" font-size="17.5" text-anchor="middle" >7</text>
<text x="380.08" y="267.30" font-size="17.5" text-anchor="middle" >9</text>
<text x="434.72" y="267.30" font-size="17.5" text-anchor="middle" >11</text>
<text x="489.36" y="267.30" font-size="17.5" text-anchor="middle" >13</text>
<text x="544.00" y="267.30" font-size="17.5" text-anchor="middle" >15</text>
<line x1="393.7" y1="85.5" x2="393.7" y2="218" stroke="#4a7bd0" stroke-width="1.7" stroke-dasharray="6 3.4"/>
<line x1="454.9" y1="87" x2="454.9" y2="189" stroke="#000" stroke-width="1.8" stroke-dasharray="6 3.2"/>
<line x1="489.4" y1="87" x2="489.4" y2="211" stroke="#000" stroke-width="1.8" stroke-dasharray="6 3.2"/>
<line x1="517.5" y1="85" x2="517.5" y2="170" stroke="#5b82d2" stroke-width="1.0"/>
<circle cx="392.9" cy="76.0" r="4.5" fill="#000"/>
<polygon points="448.3,79.0 457.9,79.0 453.1,70.6" fill="#ff0000"/>
<polygon points="485.0,79.0 494.6,79.0 489.8,70.6" fill="#000"/>
<polygon points="511.7,74.8 516.9,69.4 522.1,74.8 516.9,80.2" fill="#000"/>
<rect x="551.7" y="107.40" width="11.5" height="3.72" fill="#9c2393"/>
<rect x="551.7" y="110.62" width="11.5" height="3.72" fill="#8b2a97"/>
<rect x="551.7" y="113.85" width="11.5" height="3.72" fill="#7a329a"/>
<rect x="551.7" y="117.07" width="11.5" height="3.72" fill="#69399c"/>
<rect x="551.7" y="120.29" width="11.5" height="3.72" fill="#57419f"/>
<rect x="551.7" y="123.52" width="11.5" height="3.72" fill="#4549a2"/>
<rect x="551.7" y="126.74" width="11.5" height="3.72" fill="#3652a6"/>
<rect x="551.7" y="129.96" width="11.5" height="3.72" fill="#2a5cad"/>
<rect x="551.7" y="133.19" width="11.5" height="3.72" fill="#1766b9"/>
<rect x="551.7" y="136.41" width="11.5" height="3.72" fill="#0f72c5"/>
<rect x="551.7" y="139.64" width="11.5" height="3.72" fill="#0d7fd0"/>
<rect x="551.7" y="142.86" width="11.5" height="3.72" fill="#0c8cd8"/>
<rect x="551.7" y="146.08" width="11.5" height="3.72" fill="#0f99de"/>
<rect x="551.7" y="149.31" width="11.5" height="3.72" fill="#17a6e3"/>
<rect x="551.7" y="152.53" width="11.5" height="3.72" fill="#14a9c6"/>
<rect x="551.7" y="155.75" width="11.5" height="3.72" fill="#10a8a2"/>
<rect x="551.7" y="158.98" width="11.5" height="3.72" fill="#11a67f"/>
<rect x="551.7" y="162.20" width="11.5" height="3.72" fill="#15a65f"/>
<rect x="551.7" y="165.42" width="11.5" height="3.72" fill="#1faa4b"/>
<rect x="551.7" y="168.65" width="11.5" height="3.72" fill="#4fb546"/>
<rect x="551.7" y="171.87" width="11.5" height="3.72" fill="#7cc142"/>
<rect x="551.7" y="175.09" width="11.5" height="3.72" fill="#a8cd38"/>
<rect x="551.7" y="178.32" width="11.5" height="3.72" fill="#cfd92c"/>
<rect x="551.7" y="181.54" width="11.5" height="3.72" fill="#f3dc13"/>
<rect x="551.7" y="184.76" width="11.5" height="3.72" fill="#ffd400"/>
<rect x="551.7" y="187.99" width="11.5" height="3.72" fill="#fdc10f"/>
<rect x="551.7" y="191.21" width="11.5" height="3.72" fill="#fbad18"/>
<rect x="551.7" y="194.44" width="11.5" height="3.72" fill="#f8991d"/>
<rect x="551.7" y="197.66" width="11.5" height="3.72" fill="#f58620"/>
<rect x="551.7" y="200.88" width="11.5" height="3.72" fill="#f37321"/>
<rect x="551.7" y="204.11" width="11.5" height="3.72" fill="#f05f24"/>
<rect x="551.7" y="207.33" width="11.5" height="3.72" fill="#ee4b27"/>
<rect x="551.7" y="210.55" width="11.5" height="3.72" fill="#eb3729"/>
<rect x="551.7" y="213.78" width="11.5" height="3.72" fill="#e9292a"/>
<text x="577.60" y="110.90" font-size="17" transform="rotate(-90 577.60 110.90)" textLength="19.00" lengthAdjust="spacingAndGlyphs" >60</text>
<text x="586.70" y="203.60" font-size="17.5" transform="rotate(-90 586.70 203.60)" textLength="84.50" lengthAdjust="spacingAndGlyphs" >Time (min)</text>
<text x="577.60" y="225.60" font-size="17" transform="rotate(-90 577.60 225.60)" >0</text>
<text x="257.10" y="205.90" font-size="17" transform="rotate(-90 257.10 205.90)" textLength="118.00" lengthAdjust="spacingAndGlyphs" >Intensity (a.u.)</text>
<text x="341.60" y="285.00" font-size="17" textLength="139.50" lengthAdjust="spacingAndGlyphs" >2 Theta (Degree)</text>
<rect x="269.6" y="293.5" width="275.1" height="201.39999999999998" fill="none" stroke="#000" stroke-width="2.4"/>
<line x1="297.1" y1="494.9" x2="297.1" y2="491.7" stroke="#000" stroke-width="1.7"/>
<line x1="324.6" y1="494.9" x2="324.6" y2="490.29999999999995" stroke="#000" stroke-width="1.7"/>
<line x1="352.1" y1="494.9" x2="352.1" y2="491.7" stroke="#000" stroke-width="1.7"/>
<line x1="379.6" y1="494.9" x2="379.6" y2="490.29999999999995" stroke="#000" stroke-width="1.7"/>
<line x1="407.2" y1="494.9" x2="407.2" y2="491.7" stroke="#000" stroke-width="1.7"/>
<line x1="434.7" y1="494.9" x2="434.7" y2="490.29999999999995" stroke="#000" stroke-width="1.7"/>
<line x1="462.2" y1="494.9" x2="462.2" y2="491.7" stroke="#000" stroke-width="1.7"/>
<line x1="489.7" y1="494.9" x2="489.7" y2="490.29999999999995" stroke="#000" stroke-width="1.7"/>
<line x1="517.2" y1="494.9" x2="517.2" y2="491.7" stroke="#000" stroke-width="1.7"/>
<polyline points="268.4,492.5 283.4,492.6 284.2,492.6 295.2,492.7 297.1,492.7 300.7,492.7 304.0,492.7 306.2,492.7 307.8,492.7 308.9,492.7 309.8,492.5 310.5,492.0 310.9,491.5 311.1,491.1 311.7,490.8 312.5,491.1 313.3,491.7 314.4,492.4 315.8,492.7 317.2,492.7 319.4,492.8 322.1,492.8 324.3,492.8 324.6,492.8 325.4,492.8 330.9,492.9 335.3,492.9 338.4,492.9 339.2,492.9 340.9,492.9 344.2,492.9 346.4,492.9 348.0,492.9 349.1,492.9 349.9,492.8 350.2,492.7 350.6,492.5 351.3,492.1 351.9,491.9 352.1,492.0 352.7,492.1 353.5,492.4 354.6,492.8 356.0,492.9 357.4,492.9 359.6,493.0 362.3,493.0 365.6,493.0 365.9,493.0 371.1,493.0 379.4,493.0 379.6,493.0 390.4,493.1 393.4,493.1 407.2,493.1 420.9,493.2 434.7,493.2 448.4,493.2 462.2,493.3 475.9,493.3 489.7,493.3 503.4,493.3 517.2,493.3 530.9,493.4 545.6,493.4" fill="none" stroke="#e9342b" stroke-width="2.5" stroke-linejoin="round"/>
<polyline points="268.4,486.0 283.4,486.1 284.2,486.1 295.2,486.2 297.1,486.2 300.7,486.2 304.0,486.2 306.2,486.2 307.8,486.1 308.9,486.0 309.8,485.6 310.5,484.3 310.9,483.1 311.1,482.2 311.7,481.3 312.5,482.1 313.3,483.7 314.4,485.3 315.8,486.0 317.2,486.2 319.4,486.2 322.1,486.3 324.3,486.3 324.6,486.3 325.4,486.3 330.9,486.3 335.3,486.4 338.4,486.4 339.2,486.4 340.9,486.4 344.2,486.4 346.4,486.4 348.0,486.4 349.1,486.4 349.9,486.2 350.2,486.0 350.6,485.7 351.3,484.8 351.9,484.4 352.1,484.5 352.7,484.8 353.5,485.4 354.6,486.1 356.0,486.4 357.4,486.4 359.6,486.5 362.3,486.5 365.6,486.5 365.9,486.5 366.4,486.5 371.1,486.5 377.4,486.5 379.4,486.5 379.6,486.5 382.9,486.6 386.2,486.6 388.4,486.6 390.1,486.5 390.4,486.5 391.2,486.5 392.0,486.3 392.7,485.8 393.4,485.0 393.9,484.6 394.8,484.9 395.6,485.6 396.7,486.2 398.1,486.5 399.4,486.6 401.6,486.6 404.4,486.6 406.3,486.6 407.2,486.6 407.7,486.6 413.2,486.6 417.3,486.7 420.9,486.7 421.5,486.7 422.8,486.7 426.1,486.7 428.3,486.7 430.0,486.7 431.1,486.6 431.9,486.6 432.5,486.4 432.6,486.3 433.3,485.9 433.8,485.7 434.7,485.9 435.5,486.2 436.6,486.5 438.0,486.7 439.3,486.7 441.5,486.7 444.3,486.7 447.6,486.7 448.4,486.7 453.1,486.7 461.3,486.7 462.2,486.8 463.0,486.8 472.3,486.8 474.0,486.8 475.9,486.8 479.5,486.8 482.8,486.8 485.0,486.8 486.7,486.8 487.8,486.8 488.6,486.7 489.3,486.4 489.7,486.2 490.0,486.0 490.5,485.8 491.3,486.0 492.2,486.3 493.3,486.6 494.6,486.8 496.0,486.8 498.2,486.8 501.0,486.8 503.4,486.8 504.3,486.8 509.8,486.8 517.2,486.8 518.0,486.8 529.0,486.8 530.9,486.8 545.6,486.9" fill="none" stroke="#ee5426" stroke-width="2.5" stroke-linejoin="round"/>
<polyline points="268.4,479.3 283.4,479.4 284.2,479.4 295.2,479.5 297.1,479.5 300.7,479.5 304.0,479.5 306.2,479.5 307.8,479.4 308.9,479.2 309.8,478.5 310.5,476.4 310.9,474.4 311.1,473.1 311.7,471.6 312.5,472.9 313.3,475.4 314.4,478.0 315.8,479.2 317.2,479.4 319.4,479.5 322.1,479.6 324.3,479.6 324.6,479.6 325.4,479.6 330.9,479.6 335.3,479.7 338.4,479.7 339.2,479.7 340.9,479.7 344.2,479.7 346.4,479.7 348.0,479.6 349.1,479.5 349.9,479.0 350.2,478.7 350.6,477.8 351.3,475.7 351.9,474.7 352.1,474.9 352.7,475.6 353.5,477.2 354.6,478.8 356.0,479.5 357.4,479.6 359.6,479.7 362.3,479.8 365.6,479.8 365.9,479.8 366.4,479.8 371.1,479.8 377.4,479.8 379.4,479.8 379.6,479.8 382.9,479.8 386.2,479.8 387.9,479.8 388.4,479.8 390.1,479.8 390.4,479.7 391.2,479.6 392.0,479.1 392.7,477.5 393.4,475.0 393.9,473.9 394.8,474.9 395.6,476.8 396.7,478.7 398.1,479.6 398.9,479.7 399.4,479.8 401.6,479.8 404.4,479.9 406.3,479.9 407.2,479.9 407.7,479.9 409.9,479.9 411.6,479.9 412.7,479.9 413.2,479.8 413.5,479.8 414.2,479.5 414.9,479.1 415.4,478.9 416.2,479.1 417.1,479.4 417.3,479.5 418.2,479.8 419.5,479.9 420.9,479.9 421.5,479.9 422.8,479.9 423.1,480.0 425.9,480.0 426.1,480.0 428.3,480.0 429.2,480.0 430.0,480.0 431.1,479.9 431.9,479.9 432.5,479.7 432.6,479.6 433.3,479.2 433.8,479.0 434.7,479.2 435.5,479.5 436.6,479.8 438.0,479.9 439.3,480.0 441.5,480.0 442.9,480.0 444.3,480.0 447.6,480.0 448.4,480.0 453.1,480.0 453.9,480.0 461.3,480.0 462.2,480.0 463.0,480.1 472.3,480.1 474.0,480.1 475.9,480.1 479.5,480.1 482.8,480.1 485.0,480.1 486.7,480.1 487.8,480.0 488.6,479.8 489.3,479.3 489.7,478.8 490.0,478.5 490.5,478.1 491.3,478.4 492.2,479.1 493.3,479.7 494.6,480.0 496.0,480.1 498.2,480.1 501.0,480.1 503.4,480.1 504.3,480.1 509.8,480.1 517.2,480.1 518.0,480.1 529.0,480.1 530.9,480.1 545.6,480.2" fill="none" stroke="#f37021" stroke-width="2.5" stroke-linejoin="round"/>
<polyline points="268.4,470.7 283.4,470.9 284.2,470.9 295.2,471.1 297.1,471.1 300.7,471.1 304.0,471.1 306.2,471.1 307.8,471.0 308.9,470.8 309.8,469.9 310.5,467.3 310.9,464.9 311.1,463.1 311.7,461.3 312.5,462.9 313.3,466.1 314.4,469.3 315.8,470.8 317.2,471.1 319.4,471.2 322.1,471.3 324.3,471.4 324.6,471.4 325.4,471.4 330.9,471.5 335.3,471.5 338.4,471.5 339.2,471.5 340.9,471.6 344.2,471.6 346.4,471.6 348.0,471.5 349.1,471.3 349.9,470.6 350.2,470.0 350.6,468.5 351.3,465.2 351.9,463.7 352.1,463.9 352.7,465.0 353.5,467.6 354.6,470.1 356.0,471.3 357.4,471.5 359.6,471.7 362.3,471.7 365.6,471.8 365.9,471.8 366.4,471.8 371.1,471.8 377.4,471.9 379.4,471.9 379.6,471.9 382.9,471.9 386.2,471.9 387.9,471.9 388.4,471.9 390.1,471.8 390.4,471.8 391.2,471.6 392.0,470.9 392.7,468.8 393.4,465.5 393.9,464.0 394.8,465.3 395.6,467.9 396.7,470.4 398.1,471.6 398.9,471.8 399.4,471.8 401.6,472.0 404.4,472.0 406.3,472.0 407.2,472.0 407.7,472.1 409.9,472.1 411.6,472.1 412.7,472.1 413.2,472.0 413.5,472.0 414.2,471.7 414.9,471.3 415.4,471.1 416.2,471.3 417.1,471.6 417.3,471.7 418.2,471.9 419.5,472.1 420.9,472.1 421.5,472.1 422.8,472.2 423.1,472.2 425.9,472.2 426.1,472.2 428.3,472.2 429.2,472.2 430.0,472.2 431.1,472.2 431.9,472.1 432.5,471.9 432.6,471.8 433.3,471.4 433.8,471.2 434.7,471.4 435.5,471.7 436.6,472.0 438.0,472.2 439.3,472.2 441.5,472.3 442.9,472.3 444.3,472.3 447.6,472.3 448.4,472.3 453.1,472.3 453.9,472.3 461.3,472.4 462.2,472.4 463.0,472.4 472.3,472.4 474.0,472.4 475.9,472.4 479.5,472.4 482.8,472.4 485.0,472.4 486.7,472.4 487.8,472.4 488.6,472.2 489.3,471.9 489.7,471.5 490.0,471.2 490.5,471.0 491.3,471.2 492.2,471.7 493.3,472.2 494.6,472.4 496.0,472.4 498.2,472.5 501.0,472.5 503.4,472.5 504.3,472.5 509.8,472.5 517.2,472.5 518.0,472.5 529.0,472.6 530.9,472.6 545.6,472.6" fill="none" stroke="#f68b1f" stroke-width="2.5" stroke-linejoin="round"/>
<polyline points="268.4,462.0 283.4,462.2 284.2,462.2 295.2,462.4 297.1,462.4 300.7,462.4 304.0,462.4 306.2,462.4 307.8,462.3 308.9,462.1 309.8,461.2 310.5,458.6 310.9,456.2 311.1,454.4 311.7,452.6 312.5,454.2 313.3,457.4 314.4,460.6 315.8,462.1 317.2,462.4 319.4,462.5 322.1,462.6 324.3,462.7 324.6,462.7 325.4,462.7 330.9,462.8 335.3,462.8 338.4,462.8 339.2,462.8 340.9,462.9 344.2,462.9 346.4,462.8 348.0,462.8 349.1,462.6 349.9,461.7 350.2,461.0 350.6,459.4 351.3,455.7 351.9,454.0 352.1,454.2 352.7,455.5 353.5,458.3 354.6,461.2 356.0,462.5 357.4,462.8 359.6,462.9 362.3,463.0 365.6,463.1 365.9,463.1 366.4,463.1 371.1,463.1 374.4,463.1 376.6,463.2 377.4,463.2 378.3,463.2 379.4,463.1 379.6,463.1 380.2,463.0 380.9,462.7 381.6,462.4 382.1,462.2 382.9,462.3 383.8,462.6 384.9,463.0 386.2,463.1 387.6,463.2 387.9,463.2 388.4,463.1 389.8,463.1 390.1,463.1 390.4,463.0 391.2,462.9 392.0,461.9 392.6,460.0 392.7,459.3 393.4,455.2 393.9,453.3 394.8,455.0 395.6,458.1 395.9,459.1 396.7,461.3 398.1,462.8 398.9,463.0 399.4,463.1 401.4,463.2 401.6,463.2 404.4,463.3 406.3,463.3 407.2,463.3 407.7,463.3 409.6,463.4 409.9,463.4 411.6,463.4 412.7,463.4 413.2,463.3 413.5,463.3 414.2,463.0 414.9,462.6 415.4,462.4 416.2,462.6 417.1,462.9 417.3,463.0 418.2,463.2 419.5,463.4 420.6,463.4 420.9,463.4 421.5,463.4 422.8,463.4 423.1,463.5 425.9,463.5 426.1,463.5 428.3,463.5 429.2,463.5 430.0,463.5 431.1,463.5 431.9,463.4 432.5,463.2 432.6,463.1 433.3,462.7 433.8,462.5 434.7,462.7 435.5,463.0 436.6,463.3 438.0,463.5 439.3,463.5 440.2,463.5 441.5,463.5 442.9,463.6 444.3,463.6 445.7,463.6 447.6,463.6 448.4,463.6 449.0,463.6 451.2,463.6 452.8,463.6 453.1,463.6 453.9,463.6 454.7,463.4 455.4,463.0 456.1,462.4 456.7,462.1 457.5,462.4 458.3,462.9 459.4,463.4 460.8,463.6 461.3,463.6 462.2,463.6 463.0,463.6 464.4,463.6 467.1,463.7 470.4,463.7 472.3,463.7 474.0,463.7 475.9,463.7 479.5,463.7 482.8,463.7 484.2,463.7 485.0,463.7 486.7,463.7 487.8,463.7 488.6,463.6 489.3,463.4 489.7,463.1 490.0,462.9 490.5,462.8 491.3,462.9 492.2,463.2 493.3,463.6 494.6,463.7 495.2,463.7 496.0,463.7 498.2,463.8 501.0,463.8 503.4,463.8 504.3,463.8 509.8,463.8 517.2,463.8 518.0,463.8 529.0,463.9 530.9,463.9 545.6,463.9" fill="none" stroke="#fbb216" stroke-width="2.5" stroke-linejoin="round"/>
<polyline points="268.4,452.6 283.4,452.8 284.2,452.8 295.2,453.0 297.1,453.0 300.7,453.0 304.0,453.0 306.2,453.0 307.8,452.9 308.9,452.7 309.8,451.8 310.5,449.2 310.9,446.8 311.1,445.0 311.7,443.2 312.5,444.8 313.3,448.0 314.4,451.2 315.8,452.7 317.2,453.0 319.4,453.1 322.1,453.2 324.3,453.3 324.6,453.3 325.4,453.3 330.9,453.4 335.3,453.4 338.4,453.4 339.2,453.4 340.9,453.5 344.2,453.5 346.4,453.4 348.0,453.4 349.1,453.2 349.9,452.3 350.2,451.6 350.6,450.0 351.3,446.3 351.9,444.6 352.1,444.8 352.7,446.1 353.5,448.9 354.6,451.8 356.0,453.1 357.4,453.4 359.6,453.5 362.3,453.6 365.6,453.7 365.9,453.7 366.4,453.7 371.1,453.7 374.4,453.7 376.6,453.7 377.4,453.7 378.3,453.6 379.4,453.4 379.6,453.2 380.2,452.4 380.9,450.3 381.6,447.5 382.1,446.3 382.9,447.3 383.8,449.5 384.9,451.9 386.2,453.2 387.6,453.6 387.9,453.6 388.4,453.6 389.8,453.6 390.1,453.6 390.4,453.6 391.2,453.4 392.0,452.4 392.6,450.6 392.7,449.9 393.4,445.7 393.9,443.9 394.8,445.5 395.6,448.7 395.9,449.7 396.7,451.9 398.1,453.4 398.9,453.6 399.4,453.7 401.4,453.8 401.6,453.8 404.4,453.9 406.3,453.9 407.2,453.9 407.7,453.9 409.6,454.0 409.9,454.0 411.6,454.0 412.7,453.9 413.2,453.9 413.5,453.9 414.2,453.6 414.9,453.2 415.4,453.0 416.2,453.2 417.1,453.5 417.3,453.6 418.2,453.8 419.5,454.0 420.6,454.0 420.9,454.0 421.5,454.0 422.8,454.0 423.1,454.0 425.9,454.1 426.1,454.1 428.3,454.1 429.2,454.1 430.0,454.1 431.1,454.1 431.9,454.0 432.5,453.8 432.6,453.7 433.3,453.3 433.8,453.1 434.7,453.3 435.5,453.6 436.6,453.9 438.0,454.1 439.3,454.1 440.2,454.1 441.5,454.1 442.9,454.2 444.3,454.2 445.7,454.2 447.6,454.2 448.4,454.2 449.0,454.2 451.2,454.2 452.8,454.2 453.1,454.1 453.9,454.1 454.7,453.8 455.4,453.0 456.1,451.8 456.7,451.2 457.5,451.7 458.3,452.7 459.4,453.7 460.8,454.1 461.3,454.1 462.2,454.2 464.4,454.2 467.1,454.3 470.4,454.3 472.3,454.3 475.9,454.3 479.5,454.3 484.2,454.3 489.7,454.3 490.5,454.4 495.2,454.4 496.0,454.4 499.3,454.4 501.5,454.4 503.2,454.4 503.4,454.4 504.3,454.3 505.1,454.2 505.8,453.8 506.5,453.2 507.0,452.9 507.8,453.2 508.7,453.6 509.8,454.1 511.1,454.3 512.5,454.4 514.7,454.4 517.2,454.4 517.5,454.4 520.8,454.4 526.3,454.5 530.9,454.5 534.5,454.5 545.6,454.5" fill="none" stroke="#ffd900" stroke-width="2.5" stroke-linejoin="round"/>
<polyline points="268.4,442.4 283.4,442.6 284.2,442.6 295.2,442.8 297.1,442.8 300.7,442.8 304.0,442.8 306.2,442.8 307.8,442.7 308.9,442.5 309.8,441.6 310.5,439.0 310.9,436.6 311.1,434.8 311.7,433.0 312.5,434.6 313.3,437.8 314.4,441.0 315.8,442.5 317.2,442.8 319.4,442.9 322.1,443.0 324.3,443.1 324.6,443.1 325.4,443.1 330.9,443.2 335.3,443.2 338.4,443.2 339.2,443.2 339.8,443.2 340.9,443.3 344.2,443.3 346.4,443.3 348.0,443.2 349.1,443.0 349.9,442.3 350.2,441.6 350.6,440.2 350.8,439.6 351.3,436.9 351.9,435.4 352.1,435.5 352.7,436.7 353.5,439.3 354.6,441.8 356.0,443.0 356.3,443.1 357.4,443.2 359.0,443.3 359.6,443.3 361.8,443.4 362.3,443.4 363.4,443.4 364.5,443.4 365.3,443.2 365.6,443.1 365.9,443.0 366.0,442.9 366.4,442.5 366.7,442.2 367.3,442.0 367.8,442.1 368.1,442.2 368.9,442.7 370.0,443.2 371.1,443.4 371.4,443.4 371.7,443.4 372.8,443.4 373.6,443.3 374.3,443.1 374.4,443.0 375.0,442.7 375.5,442.5 376.3,442.6 376.6,442.7 377.2,442.9 377.4,443.0 377.7,443.1 378.3,443.1 379.4,442.9 379.6,442.7 380.2,441.7 380.9,439.0 381.0,438.2 381.6,435.2 382.1,433.6 382.9,435.0 383.2,435.9 383.8,437.8 384.9,441.1 386.0,442.7 386.2,442.9 386.5,443.0 387.6,443.3 388.4,443.4 389.3,443.4 389.8,443.4 390.1,443.4 390.4,443.4 391.2,443.2 392.0,442.5 392.6,441.0 392.7,440.5 393.4,437.1 393.9,435.6 394.8,437.0 395.6,439.5 395.9,440.3 396.7,442.1 398.1,443.3 399.4,443.5 401.4,443.6 401.6,443.6 403.0,443.7 404.4,443.7 405.8,443.7 406.3,443.7 407.2,443.7 407.7,443.7 409.6,443.8 413.2,443.8 414.0,443.8 417.3,443.8 420.6,443.8 420.9,443.8 421.5,443.9 422.8,443.9 426.1,443.9 428.3,443.9 429.2,443.9 430.0,443.9 431.1,443.9 431.9,443.8 432.5,443.6 432.6,443.5 433.3,443.1 433.8,442.9 434.7,443.1 435.5,443.4 436.6,443.7 438.0,443.9 439.3,443.9 440.2,443.9 441.5,443.9 444.3,444.0 445.7,444.0 447.6,444.0 448.4,444.0 449.0,444.0 451.2,444.0 452.8,444.0 453.1,443.9 453.9,443.9 454.7,443.6 455.4,442.8 456.1,441.6 456.7,441.0 457.5,441.5 458.3,442.5 459.4,443.5 460.8,443.9 461.3,443.9 462.2,444.0 464.4,444.0 464.9,444.0 467.1,444.0 468.2,444.1 470.4,444.1 472.1,444.1 472.3,444.1 473.2,444.0 474.0,444.0 474.7,443.7 475.4,443.3 475.9,443.1 476.8,443.3 477.6,443.6 478.7,443.9 479.5,444.0 480.1,444.1 481.4,444.1 483.6,444.1 484.2,444.1 486.4,444.1 489.7,444.1 490.5,444.1 495.2,444.2 496.0,444.2 499.3,444.2 501.5,444.2 503.2,444.1 503.4,444.1 504.3,444.1 505.1,443.8 505.8,443.0 506.5,441.8 507.0,441.2 507.8,441.7 508.7,442.7 509.8,443.6 511.1,444.1 512.5,444.1 514.4,444.2 514.7,444.2 517.2,444.2 517.5,444.2 520.8,444.2 526.3,444.3 530.9,444.3 534.5,444.3 545.6,444.3" fill="none" stroke="#b5d334" stroke-width="2.5" stroke-linejoin="round"/>
<polyline points="268.4,433.6 283.4,433.8 284.2,433.8 295.2,434.0 297.1,434.0 300.7,434.0 304.0,434.0 306.2,434.0 307.8,433.9 308.9,433.7 309.8,432.8 310.5,430.2 310.9,427.8 311.1,426.0 311.7,424.2 312.5,425.8 313.3,429.0 314.4,432.2 315.8,433.7 317.2,434.0 319.4,434.1 322.1,434.2 324.3,434.3 324.6,434.3 325.4,434.3 330.9,434.4 335.3,434.4 338.4,434.4 339.2,434.5 339.8,434.5 340.9,434.5 344.2,434.5 346.4,434.5 348.0,434.4 349.1,434.3 349.9,433.9 350.2,433.5 350.6,432.6 350.8,432.2 351.3,430.5 351.9,429.6 352.1,429.7 352.7,430.4 353.5,432.0 354.6,433.6 356.0,434.3 356.3,434.4 357.4,434.5 359.0,434.6 359.6,434.6 361.8,434.6 362.3,434.6 363.4,434.6 364.5,434.6 365.3,434.4 365.6,434.3 365.9,434.1 366.0,434.0 366.4,433.5 366.7,433.2 367.3,432.9 367.8,433.0 368.1,433.2 368.9,433.8 370.0,434.3 371.1,434.6 371.4,434.6 371.7,434.6 372.8,434.6 373.6,434.5 374.3,434.2 374.4,434.1 375.0,433.7 375.5,433.5 376.3,433.6 376.6,433.8 377.2,434.0 377.4,434.1 377.7,434.2 378.3,434.3 379.4,434.1 379.6,433.8 380.2,432.7 380.9,429.7 381.0,428.9 381.6,425.5 382.1,423.8 382.9,425.3 383.2,426.3 383.8,428.4 384.9,432.0 386.0,433.8 386.2,434.0 386.5,434.2 387.6,434.5 388.4,434.6 389.3,434.6 389.8,434.6 390.1,434.6 390.4,434.6 391.2,434.5 392.0,434.0 392.6,432.8 392.7,432.4 393.4,429.9 393.9,428.8 394.8,429.8 395.6,431.8 395.9,432.3 396.7,433.7 398.1,434.6 399.4,434.8 401.4,434.8 401.6,434.8 403.0,434.9 404.4,434.9 405.8,434.9 406.3,434.9 407.2,434.9 407.7,434.9 409.6,435.0 413.2,435.0 414.0,435.0 417.3,435.0 420.6,435.0 420.9,435.0 421.5,435.1 422.8,435.1 426.1,435.1 428.3,435.1 429.2,435.1 430.0,435.1 431.1,435.1 431.9,435.0 432.5,434.8 432.6,434.7 433.3,434.3 433.8,434.1 434.7,434.3 435.5,434.6 436.6,434.9 438.0,435.1 439.3,435.1 440.2,435.1 441.5,435.1 444.3,435.2 445.7,435.2 447.6,435.2 448.4,435.2 449.0,435.2 451.2,435.2 452.8,435.2 453.1,435.2 453.9,435.1 454.7,434.9 455.4,434.2 456.1,433.2 456.7,432.7 457.5,433.1 458.3,434.0 459.4,434.8 460.8,435.1 461.3,435.2 462.2,435.2 464.4,435.2 464.9,435.2 467.1,435.3 468.2,435.3 470.4,435.3 472.1,435.3 472.3,435.3 473.2,435.2 474.0,435.2 474.7,434.9 475.4,434.5 475.9,434.3 476.8,434.5 477.6,434.8 478.7,435.1 479.5,435.2 480.1,435.3 481.4,435.3 483.6,435.3 484.2,435.3 486.4,435.3 489.7,435.3 490.5,435.3 495.2,435.4 496.0,435.4 499.3,435.4 501.5,435.3 503.2,435.3 503.4,435.3 504.3,435.2 505.1,434.9 505.8,433.8 506.5,432.2 507.0,431.4 507.8,432.1 508.7,433.3 509.8,434.6 510.3,435.0 511.1,435.2 512.5,435.3 514.2,435.3 514.4,435.3 514.7,435.3 515.3,435.3 516.1,435.1 516.8,434.8 517.2,434.6 517.5,434.5 518.0,434.4 518.8,434.6 519.7,435.0 520.8,435.3 522.1,435.4 523.5,435.4 525.7,435.4 526.3,435.4 528.5,435.5 530.9,435.5 531.8,435.5 534.5,435.5 537.3,435.5 545.6,435.5" fill="none" stroke="#3ab54a" stroke-width="2.5" stroke-linejoin="round"/>
<polyline points="268.4,423.9 283.4,424.1 284.2,424.1 295.2,424.3 297.1,424.3 300.7,424.3 304.0,424.4 306.2,424.4 307.8,424.3 308.9,424.2 309.8,423.8 310.5,422.5 310.9,421.3 311.1,420.4 311.7,419.5 312.5,420.3 313.3,421.9 314.4,423.5 315.8,424.3 317.2,424.4 319.4,424.5 322.1,424.6 324.3,424.6 324.6,424.6 325.4,424.6 330.9,424.7 335.3,424.7 338.4,424.8 339.2,424.8 339.8,424.8 340.9,424.8 344.2,424.8 346.4,424.8 348.0,424.8 349.1,424.7 349.9,424.5 350.2,424.2 350.6,423.7 350.8,423.5 351.3,422.4 351.9,421.9 352.1,421.9 352.7,422.4 353.5,423.3 354.6,424.3 356.0,424.8 356.3,424.8 357.4,424.9 359.0,424.9 359.6,424.9 361.8,424.9 362.3,424.9 363.4,424.9 364.5,424.9 365.3,424.8 365.6,424.7 365.9,424.5 366.0,424.4 366.4,424.0 366.7,423.8 367.3,423.5 367.8,423.6 368.1,423.7 368.9,424.2 370.0,424.7 371.1,424.9 371.4,424.9 371.7,424.9 372.8,424.9 373.6,424.8 374.3,424.6 374.4,424.5 375.0,424.2 375.5,424.0 376.3,424.1 376.6,424.2 377.2,424.4 377.4,424.5 377.7,424.6 378.3,424.6 379.4,424.4 379.6,424.1 380.2,423.0 380.9,420.0 381.0,419.2 381.6,415.8 382.1,414.1 382.9,415.6 383.2,416.6 383.8,418.8 384.9,422.3 386.0,424.1 386.2,424.3 386.5,424.5 387.6,424.8 388.4,424.9 389.3,424.9 389.8,425.0 390.1,425.0 390.4,425.0 391.2,424.9 392.0,424.7 392.6,424.1 392.7,423.9 393.4,422.7 393.9,422.1 394.8,422.6 395.6,423.6 395.9,423.9 396.7,424.6 398.1,425.0 399.4,425.1 401.4,425.2 401.6,425.2 403.0,425.2 404.4,425.2 405.8,425.2 406.3,425.2 407.2,425.3 407.7,425.3 409.6,425.3 413.2,425.3 414.0,425.3 417.3,425.3 420.6,425.4 420.9,425.4 421.5,425.4 422.8,425.4 426.1,425.4 428.3,425.4 430.0,425.4 431.1,425.4 431.9,425.3 432.5,425.1 432.6,425.0 433.3,424.6 433.8,424.4 434.7,424.6 435.5,424.9 436.6,425.2 438.0,425.4 439.3,425.4 441.5,425.5 444.3,425.5 447.6,425.5 448.4,425.5 453.1,425.5 459.4,425.5 461.3,425.5 462.2,425.6 464.9,425.6 468.2,425.6 470.4,425.6 472.1,425.6 472.3,425.6 473.2,425.6 474.0,425.5 474.7,425.2 475.4,424.8 475.9,424.6 476.8,424.8 477.6,425.1 478.7,425.4 479.5,425.5 480.1,425.6 481.4,425.6 483.6,425.6 486.4,425.6 489.7,425.6 490.5,425.6 495.2,425.7 496.0,425.7 499.3,425.7 501.5,425.7 503.2,425.6 503.4,425.6 504.3,425.5 505.1,425.2 505.8,424.1 506.5,422.5 507.0,421.7 507.8,422.4 508.7,423.7 509.8,424.9 511.1,425.5 512.5,425.6 514.4,425.7 514.7,425.7 517.2,425.7 517.5,425.7 520.8,425.7 526.3,425.8 530.9,425.8 534.5,425.8 545.6,425.8" fill="none" stroke="#0fa650" stroke-width="2.5" stroke-linejoin="round"/>
<polyline points="268.4,415.6 283.4,415.8 284.2,415.8 295.2,416.0 297.1,416.0 300.7,416.0 304.0,416.1 306.2,416.1 307.8,416.1 308.9,416.0 309.8,415.7 310.5,415.0 310.9,414.2 311.1,413.7 311.7,413.2 312.5,413.7 313.3,414.6 314.4,415.6 315.8,416.1 317.2,416.2 319.4,416.2 322.1,416.3 324.3,416.3 324.6,416.3 325.4,416.3 330.9,416.4 335.3,416.4 338.4,416.5 339.2,416.5 340.9,416.5 344.2,416.5 346.4,416.5 348.0,416.5 349.1,416.5 349.9,416.3 350.2,416.1 350.6,415.8 351.3,415.0 351.9,414.6 352.1,414.6 352.7,414.9 353.5,415.6 354.6,416.2 356.0,416.5 357.4,416.6 359.0,416.6 359.6,416.6 362.3,416.7 364.5,416.7 365.6,416.7 365.9,416.7 366.4,416.7 367.8,416.7 370.0,416.7 371.1,416.7 371.7,416.7 372.8,416.7 373.6,416.6 374.3,416.3 374.4,416.2 375.0,415.9 375.5,415.7 376.3,415.8 376.6,415.9 377.2,416.1 377.4,416.2 378.3,416.3 379.4,416.1 379.6,415.8 380.2,414.7 380.9,411.7 381.0,410.9 381.6,407.5 382.1,405.8 382.9,407.3 383.2,408.3 383.8,410.5 384.9,414.0 386.0,415.8 386.2,416.0 387.6,416.5 388.4,416.6 389.3,416.7 389.8,416.7 390.1,416.7 390.4,416.7 391.2,416.7 392.0,416.6 392.6,416.3 392.7,416.2 393.4,415.6 393.9,415.3 394.8,415.6 395.6,416.1 395.9,416.2 396.7,416.6 398.1,416.8 399.4,416.9 401.4,416.9 401.6,416.9 403.0,416.9 404.4,416.9 406.3,417.0 407.2,417.0 407.7,417.0 409.6,417.0 413.2,417.0 414.0,417.0 417.3,417.0 420.6,417.1 420.9,417.1 421.5,417.1 422.8,417.1 426.1,417.1 428.3,417.1 430.0,417.1 431.1,417.1 431.9,417.0 432.5,416.8 432.6,416.7 433.3,416.3 433.8,416.1 434.7,416.3 435.5,416.6 436.6,416.9 438.0,417.1 439.3,417.1 441.5,417.2 444.3,417.2 447.6,417.2 448.4,417.2 453.1,417.2 459.4,417.2 461.3,417.2 462.2,417.3 464.9,417.3 468.2,417.3 470.4,417.3 472.1,417.3 472.3,417.3 473.2,417.3 474.0,417.2 474.7,416.9 475.4,416.5 475.9,416.3 476.8,416.5 477.6,416.8 478.7,417.1 479.5,417.2 480.1,417.3 481.4,417.3 483.6,417.3 486.4,417.3 489.7,417.3 490.5,417.3 495.2,417.4 496.0,417.4 499.3,417.4 501.5,417.4 503.2,417.3 503.4,417.3 504.3,417.3 505.1,416.9 505.8,416.0 506.5,414.6 507.0,413.9 507.8,414.5 508.7,415.6 509.8,416.7 510.3,417.0 511.1,417.2 512.5,417.3 514.2,417.3 514.4,417.3 514.7,417.3 515.3,417.3 516.1,417.1 516.8,416.8 517.2,416.6 517.5,416.5 518.0,416.4 518.8,416.7 519.7,417.0 520.8,417.3 522.1,417.4 523.5,417.4 525.7,417.4 526.3,417.4 528.5,417.5 530.9,417.5 531.8,417.5 534.5,417.5 537.3,417.5 545.6,417.5" fill="none" stroke="#0fa98f" stroke-width="2.5" stroke-linejoin="round"/>
<polyline points="268.4,405.7 283.4,405.9 284.2,405.9 295.2,406.1 297.1,406.1 300.7,406.1 304.0,406.2 306.2,406.2 307.8,406.2 308.9,406.2 309.8,406.0 310.5,405.5 310.9,405.0 311.1,404.6 311.7,404.3 312.5,404.6 313.3,405.3 314.4,405.9 315.8,406.2 317.2,406.3 319.4,406.3 322.1,406.4 324.3,406.4 324.6,406.4 325.4,406.4 330.9,406.5 335.3,406.5 338.4,406.6 339.2,406.6 340.9,406.6 344.2,406.6 346.4,406.6 348.0,406.6 349.1,406.6 349.9,406.5 350.2,406.3 350.6,406.1 351.3,405.5 351.9,405.2 352.1,405.2 352.7,405.4 353.5,405.9 354.6,406.4 356.0,406.6 357.4,406.7 359.6,406.7 362.3,406.8 365.6,406.8 365.9,406.8 366.4,406.8 371.1,406.8 374.4,406.8 376.6,406.8 377.4,406.7 378.3,406.6 379.4,406.3 379.6,406.0 380.2,404.9 380.9,401.9 381.6,397.7 382.1,395.9 382.9,397.5 383.8,400.6 384.9,404.2 386.2,406.1 387.6,406.6 388.4,406.7 389.8,406.8 390.1,406.8 390.4,406.8 391.2,406.8 392.0,406.8 392.6,406.6 392.7,406.5 393.4,406.1 393.9,405.9 394.8,406.1 395.6,406.4 395.9,406.5 396.7,406.8 398.1,406.9 399.4,407.0 401.4,407.0 401.6,407.0 404.4,407.0 406.3,407.1 407.2,407.1 407.7,407.1 409.6,407.1 413.2,407.1 417.3,407.1 420.6,407.2 420.9,407.2 421.5,407.2 422.8,407.2 426.1,407.2 428.3,407.2 430.0,407.2 431.1,407.2 431.9,407.1 432.5,406.9 432.6,406.8 433.3,406.4 433.8,406.2 434.7,406.4 435.5,406.7 436.6,407.0 438.0,407.2 439.3,407.2 441.5,407.3 444.3,407.3 447.6,407.3 448.4,407.3 453.1,407.3 459.4,407.3 461.3,407.3 462.2,407.4 464.9,407.4 468.2,407.4 470.4,407.4 472.1,407.4 472.3,407.4 473.2,407.4 474.0,407.3 474.7,407.0 475.4,406.6 475.9,406.4 476.8,406.6 477.6,406.9 478.7,407.2 479.5,407.3 480.1,407.4 481.4,407.4 483.6,407.4 486.4,407.4 489.7,407.4 490.5,407.4 495.2,407.5 496.0,407.5 499.3,407.5 501.5,407.5 503.2,407.4 503.4,407.4 504.3,407.4 505.1,407.1 505.8,406.3 506.5,405.1 507.0,404.5 507.8,405.0 508.7,406.0 509.8,406.9 510.3,407.2 511.1,407.3 512.5,407.4 514.2,407.4 514.4,407.4 514.7,407.4 515.3,407.3 516.1,407.1 516.8,406.7 517.2,406.4 517.5,406.2 518.0,406.0 518.8,406.4 519.7,406.9 520.8,407.4 522.1,407.5 523.5,407.5 525.7,407.5 526.3,407.5 528.5,407.6 530.9,407.6 531.8,407.6 534.5,407.6 537.3,407.6 545.6,407.6" fill="none" stroke="#1aace3" stroke-width="2.5" stroke-linejoin="round"/>
<polyline points="268.4,396.4 283.4,396.6 284.2,396.6 295.2,396.8 297.1,396.8 300.7,396.8 304.0,396.9 306.2,396.9 307.8,396.9 308.9,396.9 309.8,396.7 310.5,396.4 310.9,396.0 311.1,395.8 311.7,395.5 312.5,395.7 313.3,396.2 314.4,396.7 315.8,396.9 317.2,397.0 319.4,397.0 322.1,397.1 324.3,397.1 324.6,397.1 325.4,397.1 330.9,397.2 335.3,397.2 338.4,397.3 339.2,397.3 340.9,397.3 344.2,397.3 346.4,397.3 348.0,397.3 349.1,397.3 349.9,397.2 350.2,397.2 350.6,397.0 351.3,396.6 351.9,396.4 352.1,396.4 352.7,396.6 353.5,396.9 354.6,397.2 356.0,397.4 357.4,397.4 359.6,397.4 362.3,397.5 365.6,397.5 365.9,397.5 366.4,397.5 371.1,397.5 374.4,397.5 376.6,397.5 377.4,397.4 378.3,397.3 379.4,397.0 379.6,396.7 380.2,395.6 380.9,392.6 381.6,388.4 382.1,386.6 382.9,388.2 383.8,391.3 384.9,394.9 386.2,396.8 387.6,397.3 388.4,397.4 389.8,397.5 390.1,397.5 390.4,397.5 391.2,397.5 392.0,397.5 392.6,397.3 392.7,397.3 393.4,397.0 393.9,396.8 394.8,397.0 395.6,397.2 395.9,397.3 396.7,397.5 398.1,397.7 399.4,397.7 401.4,397.7 401.6,397.7 404.4,397.7 406.3,397.8 407.2,397.8 407.7,397.8 409.6,397.8 413.2,397.8 417.3,397.8 420.6,397.9 420.9,397.9 421.5,397.9 422.8,397.9 426.1,397.9 428.3,397.9 430.0,397.9 431.1,397.9 431.9,397.8 432.5,397.6 432.6,397.5 433.3,397.1 433.8,396.9 434.7,397.1 435.5,397.4 436.6,397.7 438.0,397.9 439.3,397.9 441.5,398.0 444.3,398.0 447.6,398.0 448.4,398.0 453.1,398.0 459.4,398.0 461.3,398.0 462.2,398.1 464.9,398.1 468.2,398.1 470.4,398.1 472.1,398.1 472.3,398.1 473.2,398.1 474.0,398.0 474.7,397.7 475.4,397.3 475.9,397.1 476.8,397.3 477.6,397.6 478.7,397.9 479.5,398.0 480.1,398.1 481.4,398.1 483.6,398.1 486.4,398.1 489.7,398.1 490.5,398.1 495.2,398.2 496.0,398.2 499.3,398.2 501.5,398.2 503.2,398.1 503.4,398.1 504.3,398.1 505.1,397.9 505.8,397.2 506.5,396.2 507.0,395.7 507.8,396.1 508.7,396.9 509.8,397.7 510.3,397.9 511.1,398.1 512.5,398.1 514.2,398.1 514.4,398.1 514.7,398.1 515.3,398.0 516.1,397.6 516.8,397.1 517.2,396.7 517.5,396.4 518.0,396.2 518.8,396.7 519.7,397.4 520.8,398.0 522.1,398.2 523.5,398.2 525.7,398.2 526.3,398.2 528.5,398.3 530.9,398.3 531.8,398.3 534.5,398.3 537.3,398.3 545.6,398.3" fill="none" stroke="#12a3e2" stroke-width="2.5" stroke-linejoin="round"/>
<polyline points="268.4,387.5 283.4,387.7 284.2,387.7 295.2,387.9 297.1,387.9 300.7,387.9 304.0,388.0 306.2,388.0 307.8,388.0 308.9,388.0 309.8,387.9 310.5,387.7 310.9,387.4 311.1,387.3 311.7,387.1 312.5,387.3 313.3,387.6 314.4,387.9 315.8,388.1 317.2,388.1 319.4,388.2 322.1,388.2 324.3,388.2 324.6,388.2 325.4,388.2 330.9,388.3 335.3,388.3 338.4,388.4 339.2,388.4 340.9,388.4 344.2,388.4 346.4,388.4 348.0,388.4 349.1,388.4 349.9,388.4 350.2,388.3 350.6,388.2 351.3,387.8 351.9,387.7 352.1,387.7 352.7,387.8 353.5,388.1 354.6,388.4 356.0,388.5 357.4,388.5 359.6,388.5 362.3,388.6 365.6,388.6 365.9,388.6 371.1,388.6 374.4,388.6 376.6,388.6 378.3,388.4 379.4,388.1 379.6,387.8 380.2,386.7 380.9,383.7 381.6,379.5 382.1,377.7 382.9,379.3 383.8,382.4 384.9,386.0 386.2,387.9 387.6,388.4 389.8,388.6 390.4,388.6 392.6,388.7 393.4,388.7 395.9,388.8 401.4,388.8 406.3,388.9 407.2,388.9 409.6,388.9 417.3,388.9 420.6,389.0 420.9,389.0 422.8,389.0 426.1,389.0 428.3,389.0 429.2,389.0 430.0,389.0 431.1,389.0 431.9,388.9 432.6,388.6 433.3,388.2 433.8,388.0 434.7,388.2 435.5,388.5 436.6,388.8 438.0,389.0 439.3,389.0 440.2,389.0 441.5,389.1 444.3,389.1 445.7,389.1 447.6,389.1 448.4,389.1 449.0,389.1 451.2,389.1 452.8,389.1 453.1,389.1 453.9,389.1 454.7,389.0 455.4,388.8 456.1,388.5 456.7,388.3 457.5,388.5 458.3,388.7 459.4,389.0 460.8,389.1 461.3,389.1 462.2,389.1 464.4,389.2 464.9,389.2 467.1,389.2 468.2,389.2 470.4,389.2 472.1,389.2 472.3,389.2 473.2,389.2 474.0,389.1 474.7,388.8 475.4,388.4 475.9,388.2 476.8,388.4 477.6,388.7 478.7,389.0 479.5,389.1 480.1,389.2 481.4,389.2 483.6,389.2 484.2,389.2 486.4,389.2 489.7,389.2 490.5,389.2 495.2,389.3 496.0,389.3 499.3,389.3 501.5,389.3 503.2,389.2 503.4,389.2 504.3,389.2 505.1,389.0 505.8,388.3 506.5,387.3 507.0,386.8 507.8,387.2 508.7,388.0 509.8,388.8 510.3,389.0 511.1,389.2 512.5,389.2 514.2,389.2 514.4,389.2 514.7,389.2 515.3,389.1 516.1,388.7 516.8,388.2 517.2,387.8 517.5,387.5 518.0,387.3 518.8,387.8 519.7,388.5 520.8,389.1 522.1,389.3 523.5,389.3 525.7,389.3 526.3,389.3 528.5,389.4 530.9,389.4 531.8,389.4 534.5,389.4 537.3,389.4 545.6,389.4" fill="none" stroke="#0d86d3" stroke-width="2.5" stroke-linejoin="round"/>
<polyline points="268.4,379.0 283.4,379.2 284.2,379.2 295.2,379.4 297.1,379.4 300.7,379.4 304.0,379.5 306.2,379.5 307.8,379.5 308.9,379.5 309.8,379.4 310.5,379.2 310.9,379.1 311.1,378.9 311.7,378.8 312.5,378.9 313.3,379.2 314.4,379.5 315.8,379.6 317.2,379.6 319.4,379.7 322.1,379.7 324.6,379.7 325.4,379.7 330.9,379.8 338.4,379.9 339.2,379.9 350.2,380.0 352.1,380.0 354.6,380.0 365.6,380.1 365.9,380.1 371.1,380.1 374.4,380.1 376.6,380.1 378.3,380.0 379.4,379.6 379.6,379.4 380.2,378.4 380.9,375.6 381.6,371.8 382.1,370.2 382.9,371.6 383.8,374.5 384.9,377.7 386.2,379.5 387.6,380.0 389.8,380.1 392.6,380.2 393.4,380.2 395.9,380.3 401.4,380.3 407.2,380.4 409.6,380.4 420.6,380.5 420.9,380.5 434.7,380.5 448.4,380.6 462.2,380.7 475.9,380.7 479.5,380.7 489.7,380.8 490.5,380.8 496.0,380.8 499.3,380.8 501.5,380.8 503.2,380.8 503.4,380.7 504.3,380.7 505.1,380.5 505.8,380.0 506.5,379.2 507.0,378.8 507.8,379.1 508.7,379.8 509.8,380.4 510.3,380.6 511.1,380.7 512.5,380.7 514.2,380.7 514.7,380.7 515.3,380.5 516.1,380.1 516.8,379.4 517.2,378.9 517.5,378.6 518.0,378.3 518.8,378.9 519.7,379.9 520.8,380.6 522.1,380.8 523.5,380.8 525.7,380.8 526.3,380.8 528.5,380.8 530.9,380.9 531.8,380.9 534.5,380.9 537.3,380.9 545.6,380.9" fill="none" stroke="#1070c4" stroke-width="2.5" stroke-linejoin="round"/>
<polyline points="268.4,370.9 283.4,371.1 297.1,371.3 310.9,371.5 324.6,371.6 338.4,371.8 352.1,371.9 354.6,371.9 365.6,372.0 365.9,372.0 371.1,372.0 374.4,372.0 376.6,372.0 378.3,372.0 379.4,371.8 379.6,371.7 380.2,371.1 380.9,369.6 381.6,367.5 382.1,366.6 382.9,367.4 383.8,369.0 384.9,370.8 386.2,371.7 387.6,372.0 389.8,372.1 392.6,372.2 393.4,372.2 395.9,372.2 401.4,372.2 407.2,372.3 409.6,372.3 420.6,372.4 420.9,372.4 434.7,372.4 448.4,372.5 462.2,372.6 475.9,372.6 479.5,372.6 489.7,372.7 490.5,372.7 496.0,372.7 499.3,372.7 501.5,372.7 503.2,372.7 503.4,372.7 504.3,372.6 505.1,372.4 505.8,372.0 506.5,371.2 507.0,370.9 507.8,371.2 508.7,371.8 509.8,372.3 510.3,372.5 511.1,372.6 512.5,372.6 514.2,372.6 514.7,372.5 515.3,372.4 516.1,371.8 516.8,371.0 517.2,370.4 517.5,370.1 518.0,369.7 518.8,370.4 519.7,371.6 520.8,372.4 522.1,372.7 523.5,372.7 525.7,372.7 526.3,372.7 528.5,372.7 530.9,372.8 531.8,372.8 534.5,372.8 537.3,372.8 545.6,372.8" fill="none" stroke="#2458ab" stroke-width="2.5" stroke-linejoin="round"/>
<polyline points="268.4,361.7 283.4,361.9 297.1,362.1 310.9,362.3 324.6,362.4 338.4,362.6 352.1,362.7 354.6,362.7 365.6,362.8 365.9,362.8 371.1,362.8 374.4,362.9 376.6,362.9 378.3,362.9 379.4,362.8 379.6,362.8 380.2,362.6 380.9,362.2 381.6,361.7 382.1,361.4 382.9,361.6 383.8,362.1 384.9,362.6 386.2,362.8 387.6,362.9 389.8,363.0 392.6,363.0 393.4,363.0 395.9,363.0 401.4,363.1 407.2,363.1 409.6,363.1 420.6,363.2 420.9,363.2 434.7,363.2 448.4,363.3 462.2,363.4 475.9,363.4 489.7,363.5 490.5,363.5 501.5,363.5 503.4,363.5 507.0,363.5 510.3,363.5 512.5,363.5 514.2,363.4 515.3,363.2 516.1,362.5 516.8,361.5 517.2,360.8 517.5,360.4 518.0,360.0 518.8,360.8 519.7,362.2 520.8,363.2 522.1,363.4 523.5,363.5 525.7,363.5 528.5,363.5 530.9,363.6 531.8,363.6 537.3,363.6 545.6,363.6" fill="none" stroke="#5a409e" stroke-width="2.5" stroke-linejoin="round"/>
<polyline points="268.4,352.6 283.4,352.8 297.1,353.0 310.9,353.2 324.6,353.3 338.4,353.5 352.1,353.6 354.6,353.6 365.6,353.7 365.9,353.7 371.1,353.7 374.4,353.8 376.6,353.8 378.3,353.8 379.4,353.8 379.6,353.8 380.2,353.7 380.9,353.5 381.6,353.3 382.1,353.2 382.9,353.3 383.8,353.5 384.9,353.7 386.2,353.8 387.6,353.8 389.8,353.9 392.6,353.9 393.4,353.9 395.9,353.9 401.4,354.0 407.2,354.0 409.6,354.0 420.6,354.1 420.9,354.1 434.7,354.1 448.4,354.2 462.2,354.3 475.9,354.3 489.7,354.4 490.5,354.4 501.5,354.4 503.4,354.4 507.0,354.4 510.3,354.4 512.5,354.4 514.2,354.3 515.3,354.0 516.1,353.3 516.8,352.1 517.2,351.4 517.5,350.9 518.0,350.4 518.8,351.4 519.7,352.9 520.8,354.0 522.1,354.3 523.5,354.4 525.7,354.4 528.5,354.4 530.9,354.5 531.8,354.5 537.3,354.5 545.6,354.5" fill="none" stroke="#7a329a" stroke-width="2.5" stroke-linejoin="round"/>
<polyline points="268.4,343.6 283.4,343.8 297.1,344.0 310.9,344.2 324.6,344.3 338.4,344.5 352.1,344.6 365.9,344.7 379.6,344.8 393.4,344.9 407.2,345.0 420.9,345.1 434.7,345.1 448.4,345.2 462.2,345.3 475.9,345.3 489.7,345.4 490.5,345.4 501.5,345.4 503.4,345.4 507.0,345.4 510.3,345.4 512.5,345.4 514.2,345.3 515.3,345.0 516.1,344.3 516.8,343.1 517.2,342.4 517.5,341.9 518.0,341.4 518.8,342.4 519.7,343.9 520.8,345.0 522.1,345.3 523.5,345.4 525.7,345.4 528.5,345.4 530.9,345.5 531.8,345.5 537.3,345.5 545.6,345.5" fill="none" stroke="#8b2a97" stroke-width="2.5" stroke-linejoin="round"/>
<polyline points="268.4,334.3 283.4,334.5 297.1,334.7 310.9,334.9 324.6,335.0 338.4,335.2 352.1,335.3 365.9,335.4 379.6,335.5 393.4,335.6 407.2,335.7 420.9,335.8 434.7,335.8 448.4,335.9 462.2,336.0 475.9,336.0 489.7,336.1 490.5,336.1 501.5,336.1 503.4,336.1 507.0,336.1 510.3,336.1 512.5,336.1 514.2,336.0 515.3,335.6 516.1,334.8 516.8,333.6 517.2,332.7 517.5,332.1 518.0,331.6 518.8,332.7 519.7,334.4 520.8,335.7 522.1,336.0 523.5,336.1 525.7,336.1 528.5,336.1 530.9,336.2 531.8,336.2 537.3,336.2 545.6,336.2" fill="none" stroke="#9a2494" stroke-width="2.5" stroke-linejoin="round"/>
<text x="269.60" y="512.50" font-size="17.5" text-anchor="middle" >5</text>
<text x="324.62" y="512.50" font-size="17.5" text-anchor="middle" >7</text>
<text x="379.64" y="512.50" font-size="17.5" text-anchor="middle" >9</text>
<text x="434.66" y="512.50" font-size="17.5" text-anchor="middle" >11</text>
<text x="489.68" y="512.50" font-size="17.5" text-anchor="middle" >13</text>
<text x="544.70" y="512.50" font-size="17.5" text-anchor="middle" >15</text>
<line x1="367.0" y1="326" x2="367.0" y2="428" stroke="#ed7d31" stroke-width="1.6" stroke-dasharray="6.5 3.5"/>
<line x1="382.4" y1="326" x2="382.4" y2="444" stroke="#ed7d31" stroke-width="1.6" stroke-dasharray="6.5 3.5"/>
<line x1="393.9" y1="326" x2="393.9" y2="470" stroke="#5b9bd5" stroke-width="1.4" stroke-dasharray="6.5 3.5"/>
<line x1="456.4" y1="326" x2="456.4" y2="449.6" stroke="#000" stroke-width="1.8" stroke-dasharray="6 3.2"/>
<line x1="490.2" y1="328.4" x2="490.2" y2="471" stroke="#000" stroke-width="1.8" stroke-dasharray="6 3.2"/>
<line x1="518.5" y1="328.4" x2="518.5" y2="430" stroke="#5b82d2" stroke-width="1.0"/>
<circle cx="366.3" cy="316.6" r="4.5" fill="#ffc000"/>
<circle cx="381.6" cy="316.1" r="4.5" fill="#ffc000"/>
<circle cx="395.5" cy="316.1" r="4.5" fill="#000"/>
<polygon points="451.2,320.3 460.8,320.3 456.0,312.1" fill="#ff0000"/>
<polygon points="487.2,320.3 496.8,320.3 492.0,312.1" fill="#000"/>
<polygon points="511.7,316.4 516.9,311.0 522.1,316.4 516.9,321.8" fill="#000"/>
<rect x="553.1" y="338.80" width="11.0" height="3.74" fill="#9c2393"/>
<rect x="553.1" y="342.04" width="11.0" height="3.74" fill="#8b2a97"/>
<rect x="553.1" y="345.28" width="11.0" height="3.74" fill="#7a329a"/>
<rect x="553.1" y="348.51" width="11.0" height="3.74" fill="#69399c"/>
<rect x="553.1" y="351.75" width="11.0" height="3.74" fill="#57419f"/>
<rect x="553.1" y="354.99" width="11.0" height="3.74" fill="#4549a2"/>
<rect x="553.1" y="358.23" width="11.0" height="3.74" fill="#3652a6"/>
<rect x="553.1" y="361.47" width="11.0" height="3.74" fill="#2a5cad"/>
<rect x="553.1" y="364.71" width="11.0" height="3.74" fill="#1766b9"/>
<rect x="553.1" y="367.94" width="11.0" height="3.74" fill="#0f72c5"/>
<rect x="553.1" y="371.18" width="11.0" height="3.74" fill="#0d7fd0"/>
<rect x="553.1" y="374.42" width="11.0" height="3.74" fill="#0c8cd8"/>
<rect x="553.1" y="377.66" width="11.0" height="3.74" fill="#0f99de"/>
<rect x="553.1" y="380.90" width="11.0" height="3.74" fill="#17a6e3"/>
<rect x="553.1" y="384.14" width="11.0" height="3.74" fill="#14a9c6"/>
<rect x="553.1" y="387.37" width="11.0" height="3.74" fill="#10a8a2"/>
<rect x="553.1" y="390.61" width="11.0" height="3.74" fill="#11a67f"/>
<rect x="553.1" y="393.85" width="11.0" height="3.74" fill="#15a65f"/>
<rect x="553.1" y="397.09" width="11.0" height="3.74" fill="#1faa4b"/>
<rect x="553.1" y="400.33" width="11.0" height="3.74" fill="#4fb546"/>
<rect x="553.1" y="403.56" width="11.0" height="3.74" fill="#7cc142"/>
<rect x="553.1" y="406.80" width="11.0" height="3.74" fill="#a8cd38"/>
<rect x="553.1" y="410.04" width="11.0" height="3.74" fill="#cfd92c"/>
<rect x="553.1" y="413.28" width="11.0" height="3.74" fill="#f3dc13"/>
<rect x="553.1" y="416.52" width="11.0" height="3.74" fill="#ffd400"/>
<rect x="553.1" y="419.76" width="11.0" height="3.74" fill="#fdc10f"/>
<rect x="553.1" y="422.99" width="11.0" height="3.74" fill="#fbad18"/>
<rect x="553.1" y="426.23" width="11.0" height="3.74" fill="#f8991d"/>
<rect x="553.1" y="429.47" width="11.0" height="3.74" fill="#f58620"/>
<rect x="553.1" y="432.71" width="11.0" height="3.74" fill="#f37321"/>
<rect x="553.1" y="435.95" width="11.0" height="3.74" fill="#f05f24"/>
<rect x="553.1" y="439.19" width="11.0" height="3.74" fill="#ee4b27"/>
<rect x="553.1" y="442.42" width="11.0" height="3.74" fill="#eb3729"/>
<rect x="553.1" y="445.66" width="11.0" height="3.74" fill="#e9292a"/>
<text x="581.00" y="344.90" font-size="17" transform="rotate(-90 581.00 344.90)" textLength="20.60" lengthAdjust="spacingAndGlyphs" >60</text>
<text x="593.40" y="436.20" font-size="17.5" transform="rotate(-90 593.40 436.20)" textLength="87.00" lengthAdjust="spacingAndGlyphs" >Time (min)</text>
<text x="578.30" y="455.20" font-size="17" transform="rotate(-90 578.30 455.20)" >0</text>
<text x="256.00" y="447.00" font-size="17" transform="rotate(-90 256.00 447.00)" textLength="118.00" lengthAdjust="spacingAndGlyphs" >Intensity (a.u.)</text>
<text x="341.60" y="530.30" font-size="17" textLength="139.50" lengthAdjust="spacingAndGlyphs" >2 Theta (Degree)</text>
<rect x="270.3" y="542.6" width="275.7" height="202.29999999999995" fill="none" stroke="#000" stroke-width="2.4"/>
<line x1="297.9" y1="744.9" x2="297.9" y2="741.6999999999999" stroke="#000" stroke-width="1.7"/>
<line x1="325.4" y1="744.9" x2="325.4" y2="740.3" stroke="#000" stroke-width="1.7"/>
<line x1="353.0" y1="744.9" x2="353.0" y2="741.6999999999999" stroke="#000" stroke-width="1.7"/>
<line x1="380.6" y1="744.9" x2="380.6" y2="740.3" stroke="#000" stroke-width="1.7"/>
<line x1="408.1" y1="744.9" x2="408.1" y2="741.6999999999999" stroke="#000" stroke-width="1.7"/>
<line x1="435.7" y1="744.9" x2="435.7" y2="740.3" stroke="#000" stroke-width="1.7"/>
<line x1="463.3" y1="744.9" x2="463.3" y2="741.6999999999999" stroke="#000" stroke-width="1.7"/>
<line x1="490.9" y1="744.9" x2="490.9" y2="740.3" stroke="#000" stroke-width="1.7"/>
<line x1="518.4" y1="744.9" x2="518.4" y2="741.6999999999999" stroke="#000" stroke-width="1.7"/>
<polyline points="269.1,739.0 284.1,739.2 297.9,739.4 311.7,739.6 325.4,739.7 339.2,739.9 353.0,740.0 366.8,740.1 380.6,740.2 394.4,740.3 408.1,740.4 421.9,740.5 435.7,740.5 449.5,740.6 463.3,740.7 477.1,740.7 490.9,740.8 504.6,740.8 518.4,740.8 532.2,740.9 546.9,740.9" fill="none" stroke="#e9342b" stroke-width="2.5" stroke-linejoin="round"/>
<polyline points="269.1,731.4 284.1,731.6 297.9,731.8 311.7,732.0 325.4,732.1 339.2,732.3 353.0,732.4 366.8,732.5 380.6,732.6 394.4,732.7 408.1,732.8 421.9,732.9 435.7,732.9 449.5,733.0 463.3,733.1 477.1,733.1 490.9,733.2 504.6,733.2 518.4,733.2 532.2,733.3 546.9,733.3" fill="none" stroke="#ee5426" stroke-width="2.5" stroke-linejoin="round"/>
<polyline points="269.1,724.1 284.1,724.3 297.9,724.5 311.7,724.7 325.4,724.8 336.5,724.9 339.2,725.0 342.0,725.0 345.3,725.0 347.5,725.0 349.2,725.0 350.3,725.0 351.1,725.0 351.8,724.9 352.5,724.7 353.0,724.6 353.8,724.7 354.7,724.8 355.8,725.0 357.1,725.1 358.5,725.1 360.7,725.2 363.5,725.2 366.8,725.2 372.3,725.2 380.6,725.3 391.6,725.4 394.4,725.4 408.1,725.5 421.9,725.6 435.7,725.6 449.5,725.7 463.3,725.8 477.1,725.8 490.9,725.9 504.6,725.9 518.4,725.9 532.2,726.0 546.9,726.0" fill="none" stroke="#f37021" stroke-width="2.5" stroke-linejoin="round"/>
<polyline points="269.1,716.2 284.1,716.4 297.9,716.6 311.7,716.8 325.4,716.9 336.5,717.0 339.2,717.1 342.0,717.1 345.3,717.1 347.5,717.1 349.2,717.1 350.3,717.1 351.1,717.0 351.8,716.7 352.5,716.3 353.0,716.2 353.8,716.3 354.7,716.6 355.8,717.0 357.1,717.2 358.5,717.2 360.7,717.2 363.5,717.3 366.8,717.3 372.3,717.3 380.6,717.4 391.6,717.5 394.4,717.5 408.1,717.6 421.9,717.7 435.7,717.7 449.5,717.8 463.3,717.9 477.1,717.9 490.9,718.0 504.6,718.0 518.4,718.0 532.2,718.1 546.9,718.1" fill="none" stroke="#f68b1f" stroke-width="2.5" stroke-linejoin="round"/>
<polyline points="269.1,707.9 284.1,708.1 297.9,708.3 311.7,708.5 325.4,708.6 336.5,708.7 339.2,708.8 342.0,708.8 345.3,708.8 347.5,708.8 349.2,708.8 350.3,708.8 351.1,708.5 351.8,708.0 352.5,707.2 353.0,706.9 353.8,707.2 354.7,707.8 355.8,708.4 357.1,708.8 358.5,708.9 360.7,708.9 363.5,709.0 366.8,709.0 372.3,709.0 380.6,709.1 391.6,709.2 394.4,709.2 408.1,709.3 421.9,709.4 435.7,709.4 449.5,709.5 463.3,709.6 477.1,709.6 490.9,709.7 504.6,709.7 518.4,709.7 532.2,709.8 546.9,709.8" fill="none" stroke="#fbb216" stroke-width="2.5" stroke-linejoin="round"/>
<polyline points="269.1,699.8 284.1,700.0 284.6,700.0 295.7,700.2 297.9,700.2 301.2,700.2 304.5,700.3 306.7,700.3 308.3,700.3 309.4,700.3 310.3,700.1 311.0,699.7 311.7,699.1 312.2,698.9 313.0,699.1 313.9,699.5 315.0,700.0 316.3,700.3 317.7,700.4 319.9,700.4 322.7,700.5 325.4,700.5 326.0,700.5 331.5,700.6 336.5,700.6 339.2,700.7 339.8,700.7 342.0,700.7 345.3,700.7 347.5,700.7 349.2,700.7 350.3,700.6 350.8,700.4 351.1,700.2 351.8,699.4 352.5,698.3 353.0,697.8 353.8,698.2 354.7,699.1 355.8,700.1 357.1,700.6 358.5,700.7 360.7,700.8 363.5,700.9 366.8,700.9 372.3,700.9 377.8,701.0 380.6,701.0 383.3,701.0 386.6,701.0 388.9,701.0 390.5,701.0 391.6,701.0 392.4,700.8 393.1,700.4 393.8,699.8 394.4,699.6 395.2,699.8 396.0,700.2 397.1,700.7 398.5,701.0 399.9,701.1 402.1,701.1 404.8,701.2 408.1,701.2 413.7,701.2 421.9,701.3 433.0,701.3 435.7,701.3 449.5,701.4 463.3,701.5 477.1,701.5 490.9,701.6 504.6,701.6 518.4,701.6 532.2,701.7 546.9,701.7" fill="none" stroke="#ffd900" stroke-width="2.5" stroke-linejoin="round"/>
<polyline points="269.1,692.2 284.1,692.4 284.6,692.4 295.7,692.6 297.9,692.6 301.2,692.6 304.5,692.7 306.7,692.7 308.3,692.7 309.4,692.7 310.3,692.5 311.0,692.1 311.7,691.5 312.2,691.3 313.0,691.5 313.9,691.9 315.0,692.4 316.3,692.7 317.7,692.8 319.9,692.8 322.7,692.9 325.4,692.9 326.0,692.9 331.5,693.0 336.5,693.0 339.2,693.1 339.8,693.1 342.0,693.1 345.3,693.1 347.5,693.1 349.2,693.1 350.3,692.9 350.8,692.6 351.1,692.3 351.8,691.1 352.5,689.4 353.0,688.7 353.8,689.3 354.7,690.6 355.8,692.1 357.1,692.9 358.5,693.1 360.7,693.2 363.5,693.2 366.8,693.3 372.3,693.3 377.8,693.4 380.6,693.4 383.3,693.4 386.6,693.4 388.9,693.4 390.5,693.4 391.6,693.4 392.4,693.1 393.1,692.6 393.8,691.8 394.4,691.5 395.2,691.8 396.0,692.4 397.1,693.0 398.5,693.4 399.9,693.5 402.1,693.5 404.8,693.6 408.1,693.6 413.7,693.6 421.9,693.7 433.0,693.7 435.7,693.7 449.5,693.8 463.3,693.9 463.8,693.9 474.9,693.9 477.1,693.9 480.4,693.9 483.7,693.9 485.9,693.9 487.6,693.9 488.7,693.9 489.5,693.8 490.2,693.5 490.9,693.1 491.4,693.0 492.2,693.1 493.1,693.4 494.2,693.7 495.5,693.9 496.9,693.9 499.1,694.0 501.9,694.0 504.6,694.0 505.2,694.0 510.7,694.0 518.4,694.0 519.0,694.0 530.0,694.1 532.2,694.1 546.9,694.1" fill="none" stroke="#c5d62f" stroke-width="2.5" stroke-linejoin="round"/>
<polyline points="269.1,683.6 284.1,683.8 284.6,683.8 295.7,684.0 297.9,684.0 301.2,684.0 304.5,684.1 306.7,684.1 308.3,684.1 309.4,684.1 310.3,683.9 311.0,683.5 311.7,682.9 312.2,682.7 313.0,682.9 313.9,683.3 315.0,683.8 316.3,684.1 317.7,684.2 319.9,684.2 322.7,684.3 325.4,684.3 326.0,684.3 331.5,684.4 336.5,684.4 339.2,684.5 339.8,684.5 342.0,684.5 345.3,684.5 347.5,684.5 349.2,684.4 350.3,684.3 350.8,684.0 351.1,683.6 351.8,682.3 352.5,680.4 353.0,679.6 353.8,680.3 354.7,681.7 355.8,683.3 357.1,684.3 358.5,684.5 360.7,684.6 363.5,684.6 366.8,684.7 372.3,684.7 377.8,684.8 380.6,684.8 383.3,684.8 386.6,684.8 388.9,684.8 390.5,684.8 391.6,684.8 392.4,684.5 393.1,684.0 393.8,683.2 394.4,682.9 395.2,683.2 396.0,683.8 397.1,684.4 398.5,684.8 399.9,684.9 402.1,684.9 404.8,685.0 408.1,685.0 413.7,685.0 421.9,685.1 433.0,685.1 435.7,685.1 449.5,685.2 463.3,685.3 463.8,685.3 474.9,685.3 477.1,685.3 480.4,685.3 483.7,685.3 485.9,685.3 487.6,685.3 488.7,685.3 489.5,685.1 490.2,684.7 490.9,684.1 491.4,683.9 492.2,684.1 493.1,684.5 494.2,685.0 495.5,685.3 496.9,685.3 499.1,685.4 501.9,685.4 504.6,685.4 505.2,685.4 510.7,685.4 518.4,685.4 519.0,685.4 530.0,685.5 532.2,685.5 546.9,685.5" fill="none" stroke="#74bf44" stroke-width="2.5" stroke-linejoin="round"/>
<polyline points="269.1,674.3 284.1,674.5 284.6,674.5 295.7,674.7 297.9,674.7 301.2,674.7 304.5,674.8 306.7,674.8 308.3,674.8 309.4,674.8 310.3,674.6 311.0,674.2 311.7,673.6 312.2,673.4 313.0,673.6 313.9,674.0 315.0,674.5 316.3,674.8 317.7,674.9 319.9,674.9 322.7,675.0 325.4,675.0 326.0,675.0 331.5,675.1 336.5,675.1 339.2,675.2 339.8,675.2 342.0,675.2 345.3,675.2 347.5,675.2 349.2,675.2 350.3,675.0 350.8,674.8 351.1,674.5 351.8,673.4 352.5,671.9 353.0,671.3 353.8,671.9 354.7,673.0 355.8,674.3 357.1,675.0 358.5,675.2 360.7,675.3 363.5,675.3 366.8,675.4 372.3,675.4 377.8,675.5 380.6,675.5 383.3,675.5 386.6,675.5 388.9,675.5 390.5,675.5 391.6,675.5 392.4,675.2 393.1,674.7 393.8,673.9 394.4,673.6 395.2,673.9 396.0,674.5 397.1,675.1 398.5,675.5 399.9,675.6 402.1,675.6 404.8,675.7 408.1,675.7 413.7,675.7 421.9,675.8 428.8,675.8 433.0,675.8 435.7,675.8 439.9,675.9 445.4,675.9 448.7,675.9 449.5,675.9 450.9,675.9 452.5,675.9 453.6,675.8 454.5,675.6 455.2,675.2 455.8,674.7 456.4,674.4 457.2,674.6 458.1,675.1 459.2,675.6 460.5,675.8 461.9,675.9 463.3,675.9 463.8,675.9 464.1,675.9 466.9,676.0 470.2,676.0 474.9,676.0 475.7,676.0 477.1,676.0 480.4,676.0 483.7,676.0 484.0,676.0 485.9,676.0 487.6,676.0 488.7,675.9 489.5,675.7 490.2,675.1 490.9,674.4 491.4,674.1 492.2,674.3 493.1,674.9 494.2,675.6 495.0,675.8 495.5,675.9 496.9,676.0 499.1,676.1 501.9,676.1 504.6,676.1 505.2,676.1 510.7,676.1 518.4,676.1 519.0,676.1 530.0,676.2 532.2,676.2 546.9,676.2" fill="none" stroke="#1faa4b" stroke-width="2.5" stroke-linejoin="round"/>
<polyline points="269.1,667.7 284.1,667.9 284.6,667.9 295.7,668.1 297.9,668.1 301.2,668.1 304.5,668.2 306.7,668.2 308.3,668.2 309.4,668.2 310.3,668.0 311.0,667.6 311.7,667.0 312.2,666.8 313.0,667.0 313.9,667.4 315.0,667.9 316.3,668.2 317.7,668.3 319.9,668.3 322.7,668.4 325.4,668.4 326.0,668.4 331.5,668.5 336.5,668.5 339.2,668.6 339.8,668.6 342.0,668.6 345.3,668.6 347.5,668.6 349.2,668.6 350.3,668.5 350.8,668.3 351.1,668.1 351.8,667.3 352.5,666.2 353.0,665.7 353.8,666.1 354.7,667.0 355.8,668.0 357.1,668.5 358.5,668.6 360.7,668.7 363.5,668.8 366.8,668.8 372.3,668.8 377.8,668.9 380.6,668.9 383.3,668.9 386.6,668.9 388.9,668.9 390.5,668.9 391.6,668.9 392.4,668.7 393.1,668.3 393.8,667.7 394.4,667.5 395.2,667.7 396.0,668.1 397.1,668.6 398.5,668.9 399.9,669.0 402.1,669.0 404.8,669.1 408.1,669.1 413.7,669.1 421.9,669.2 428.8,669.2 433.0,669.2 435.7,669.2 439.9,669.3 445.4,669.3 448.7,669.3 449.5,669.3 450.9,669.3 452.5,669.3 453.6,669.2 454.5,668.9 455.2,668.4 455.8,667.6 456.4,667.3 457.2,667.6 458.1,668.2 459.2,668.8 460.5,669.2 461.9,669.3 463.3,669.3 463.8,669.3 464.1,669.3 466.9,669.4 470.2,669.4 474.9,669.4 475.7,669.4 477.1,669.4 480.4,669.4 483.7,669.4 484.0,669.4 485.9,669.4 487.6,669.4 488.7,669.4 489.5,669.2 490.2,668.8 490.9,668.2 491.4,668.0 492.2,668.2 493.1,668.6 494.2,669.1 495.0,669.3 495.5,669.4 496.9,669.4 499.1,669.5 501.9,669.5 504.6,669.5 505.2,669.5 510.7,669.5 518.4,669.5 519.0,669.5 530.0,669.6 532.2,669.6 546.9,669.6" fill="none" stroke="#12a67c" stroke-width="2.5" stroke-linejoin="round"/>
<polyline points="269.1,660.5 284.1,660.7 297.9,660.9 311.7,661.1 325.4,661.2 336.5,661.3 339.2,661.4 342.0,661.4 345.3,661.4 347.5,661.4 349.2,661.4 350.3,661.4 351.1,661.3 351.8,661.0 352.5,660.6 353.0,660.5 353.8,660.6 354.7,660.9 355.8,661.3 357.1,661.5 358.5,661.5 360.7,661.5 363.5,661.6 366.8,661.6 372.3,661.6 380.6,661.7 391.6,661.8 394.4,661.8 408.1,661.9 421.9,662.0 428.8,662.0 435.7,662.0 439.9,662.1 441.2,662.1 445.4,662.1 448.7,662.1 449.5,662.1 450.9,662.1 452.3,662.1 452.5,662.1 453.6,662.0 454.5,661.7 455.2,661.2 455.8,660.4 456.4,660.1 457.2,660.4 457.8,660.8 458.1,661.0 459.2,661.6 460.5,662.0 461.1,662.0 461.9,662.1 463.3,662.1 464.1,662.1 464.9,662.1 466.0,662.1 466.9,661.9 467.6,661.5 468.3,660.9 468.8,660.7 469.6,660.9 470.2,661.2 470.5,661.3 471.6,661.8 472.9,662.1 474.3,662.1 475.7,662.2 476.5,662.2 477.1,662.2 479.3,662.2 482.6,662.2 484.0,662.2 488.1,662.2 490.3,662.2 490.9,662.3 495.0,662.3 496.4,662.3 501.3,662.3 504.6,662.3 506.9,662.3 507.4,662.3 510.2,662.3 512.4,662.3 514.0,662.3 515.1,662.2 515.9,662.0 516.6,661.8 517.3,661.4 517.9,661.3 518.4,661.4 518.7,661.6 519.5,661.9 520.6,662.2 522.0,662.3 523.4,662.3 525.6,662.3 528.4,662.4 531.7,662.4 532.2,662.4 537.2,662.4 545.4,662.4 546.9,662.4" fill="none" stroke="#10a9a8" stroke-width="2.5" stroke-linejoin="round"/>
<polyline points="269.1,653.0 284.1,653.2 297.9,653.4 311.7,653.6 325.4,653.7 339.2,653.9 353.0,654.0 366.8,654.1 380.6,654.2 394.4,654.3 408.1,654.4 421.9,654.5 428.8,654.5 435.7,654.5 439.9,654.6 441.2,654.6 445.4,654.6 448.7,654.6 449.5,654.6 450.9,654.6 452.3,654.6 452.5,654.6 453.6,654.5 454.5,654.3 455.2,653.8 455.8,653.1 456.4,652.8 457.2,653.1 457.8,653.4 458.1,653.6 459.2,654.2 460.5,654.5 461.1,654.5 461.9,654.6 463.3,654.6 464.1,654.6 464.9,654.6 466.0,654.5 466.9,654.3 467.6,653.7 468.3,653.0 468.8,652.7 469.6,652.9 470.2,653.3 470.5,653.5 471.6,654.2 472.9,654.5 474.3,654.6 475.7,654.7 476.5,654.7 477.1,654.7 479.3,654.7 482.6,654.7 484.0,654.7 488.1,654.7 490.3,654.7 490.9,654.7 495.0,654.8 496.4,654.8 501.3,654.8 504.6,654.8 506.9,654.8 507.4,654.8 510.2,654.8 512.4,654.8 514.0,654.8 515.1,654.7 515.9,654.4 516.6,654.0 517.3,653.5 517.9,653.3 518.4,653.5 518.7,653.7 519.5,654.3 520.6,654.7 522.0,654.8 523.4,654.8 525.6,654.8 528.4,654.9 531.7,654.9 532.2,654.9 537.2,654.9 545.4,654.9 546.9,654.9" fill="none" stroke="#19ade4" stroke-width="2.5" stroke-linejoin="round"/>
<polyline points="269.1,644.8 284.1,645.0 297.9,645.2 311.7,645.4 325.4,645.5 339.2,645.7 353.0,645.8 366.8,645.9 380.6,646.0 394.4,646.1 408.1,646.2 421.9,646.3 428.8,646.3 435.7,646.3 439.9,646.4 441.2,646.4 445.4,646.4 448.7,646.4 449.5,646.4 450.9,646.4 452.3,646.4 452.5,646.4 453.6,646.3 454.5,646.1 455.2,645.7 455.8,645.2 456.4,644.9 457.2,645.1 457.8,645.4 458.1,645.6 459.2,646.1 460.5,646.3 461.1,646.4 461.9,646.4 463.3,646.4 464.1,646.4 464.9,646.4 466.0,646.3 466.9,646.0 467.6,645.3 468.3,644.4 468.8,644.0 469.6,644.3 470.2,644.8 470.5,645.0 471.6,645.8 472.9,646.3 474.3,646.4 475.7,646.5 476.5,646.5 477.1,646.5 479.3,646.5 482.6,646.5 484.0,646.5 488.1,646.5 490.3,646.5 490.9,646.5 495.0,646.6 496.4,646.6 501.3,646.6 504.6,646.6 506.9,646.6 507.4,646.6 510.2,646.6 512.4,646.6 514.0,646.6 515.1,646.4 515.9,646.0 516.6,645.5 517.3,644.9 517.9,644.6 518.4,644.9 518.7,645.1 519.5,645.9 520.6,646.4 522.0,646.6 523.4,646.6 525.6,646.6 528.4,646.7 531.7,646.7 532.2,646.7 537.2,646.7 545.4,646.7 546.9,646.7" fill="none" stroke="#0e9ee0" stroke-width="2.5" stroke-linejoin="round"/>
<polyline points="269.1,637.1 284.1,637.3 297.9,637.5 311.7,637.7 325.4,637.8 339.2,638.0 353.0,638.1 366.8,638.2 380.6,638.3 394.4,638.4 408.1,638.5 421.9,638.6 428.8,638.6 435.7,638.6 439.9,638.7 441.2,638.7 445.4,638.7 448.7,638.7 449.5,638.7 450.9,638.7 452.3,638.7 452.5,638.7 453.6,638.7 454.5,638.5 455.2,638.3 455.8,637.9 456.4,637.7 457.2,637.9 457.8,638.1 458.1,638.2 459.2,638.5 460.5,638.7 461.1,638.7 461.9,638.7 463.3,638.7 464.1,638.7 464.9,638.7 466.0,638.6 466.9,638.3 467.6,637.6 468.3,636.7 468.8,636.3 469.6,636.6 470.2,637.1 470.5,637.3 471.6,638.2 472.9,638.6 474.3,638.7 475.7,638.8 476.5,638.8 477.1,638.8 479.3,638.8 482.6,638.8 484.0,638.8 488.1,638.8 490.3,638.8 490.9,638.8 495.0,638.9 496.4,638.9 501.3,638.9 504.6,638.9 506.9,638.9 507.4,638.9 510.2,638.9 512.4,638.9 514.0,638.9 515.1,638.7 515.9,638.3 516.6,637.8 517.3,637.2 517.9,636.9 518.4,637.2 518.7,637.4 519.5,638.2 520.6,638.7 522.0,638.9 523.4,638.9 525.6,638.9 528.4,639.0 531.7,639.0 532.2,639.0 537.2,639.0 545.4,639.0 546.9,639.0" fill="none" stroke="#0c8bd6" stroke-width="2.5" stroke-linejoin="round"/>
<polyline points="269.1,630.5 284.1,630.7 297.9,630.9 311.7,631.1 325.4,631.2 339.2,631.4 353.0,631.5 366.8,631.6 380.6,631.7 394.4,631.8 408.1,631.9 421.9,632.0 428.8,632.0 435.7,632.0 439.9,632.1 441.2,632.1 445.4,632.1 448.7,632.1 449.5,632.1 450.9,632.1 452.3,632.1 452.5,632.1 453.6,632.1 454.5,631.9 455.2,631.7 455.8,631.3 456.4,631.1 457.2,631.3 457.8,631.5 458.1,631.6 459.2,631.9 460.5,632.1 461.1,632.1 461.9,632.1 463.3,632.1 464.1,632.1 464.9,632.1 466.0,632.0 466.9,631.7 467.6,631.0 468.3,630.1 468.8,629.7 469.6,630.0 470.2,630.5 470.5,630.7 471.6,631.6 472.9,632.0 474.3,632.1 475.7,632.2 476.5,632.2 477.1,632.2 479.3,632.2 482.6,632.2 484.0,632.2 488.1,632.2 490.3,632.2 490.9,632.2 495.0,632.3 496.4,632.3 501.3,632.3 504.6,632.3 506.9,632.3 507.4,632.3 510.2,632.3 512.4,632.3 514.0,632.3 515.1,632.1 515.9,631.7 516.6,631.2 517.3,630.6 517.9,630.3 518.4,630.6 518.7,630.8 519.5,631.6 520.6,632.1 522.0,632.3 523.4,632.3 525.6,632.3 528.4,632.4 531.7,632.4 532.2,632.4 537.2,632.4 545.4,632.4 546.9,632.4" fill="none" stroke="#0f78ca" stroke-width="2.5" stroke-linejoin="round"/>
<polyline points="269.1,623.5 284.1,623.7 297.9,623.9 311.7,624.1 325.4,624.2 339.2,624.4 353.0,624.5 366.8,624.6 380.6,624.7 394.4,624.8 408.1,624.9 421.9,625.0 428.8,625.0 435.7,625.0 439.9,625.1 441.2,625.1 445.4,625.1 448.7,625.1 449.5,625.1 450.9,625.1 452.3,625.1 452.5,625.1 453.6,625.1 454.5,624.9 455.2,624.7 455.8,624.3 456.4,624.1 457.2,624.3 457.8,624.5 458.1,624.6 459.2,624.9 460.5,625.1 461.1,625.1 461.9,625.1 463.3,625.1 464.1,625.1 464.9,625.1 466.0,625.0 466.9,624.8 467.6,624.2 468.3,623.5 468.8,623.2 469.6,623.5 470.2,623.8 470.5,624.0 471.6,624.7 472.9,625.0 474.3,625.1 475.7,625.2 476.5,625.2 477.1,625.2 479.3,625.2 482.6,625.2 484.0,625.2 488.1,625.2 490.3,625.2 490.9,625.2 495.0,625.3 496.4,625.3 501.3,625.3 504.6,625.3 506.9,625.3 507.4,625.3 510.2,625.3 512.4,625.3 514.0,625.2 515.1,625.1 515.9,624.6 516.6,623.9 517.3,623.1 517.9,622.8 518.4,623.1 518.7,623.4 519.5,624.4 520.6,625.1 522.0,625.3 523.4,625.3 525.6,625.3 528.4,625.3 531.7,625.4 532.2,625.4 537.2,625.4 545.4,625.4 546.9,625.4" fill="none" stroke="#1166b9" stroke-width="2.5" stroke-linejoin="round"/>
<polyline points="269.1,616.3 284.1,616.5 297.9,616.7 311.7,616.9 325.4,617.0 339.2,617.2 353.0,617.3 366.8,617.4 380.6,617.5 394.4,617.6 408.1,617.7 421.9,617.8 428.8,617.8 435.7,617.8 439.9,617.9 441.2,617.9 445.4,617.9 448.7,617.9 449.5,617.9 450.9,617.9 452.3,617.9 452.5,617.9 453.6,617.9 454.5,617.7 455.2,617.5 455.8,617.1 456.4,616.9 457.2,617.1 457.8,617.3 458.1,617.4 459.2,617.7 460.5,617.9 461.1,617.9 461.9,617.9 463.3,617.9 464.1,617.9 464.9,617.9 466.0,617.9 466.9,617.9 467.6,617.7 468.3,617.5 468.8,617.4 469.6,617.5 470.2,617.6 470.5,617.6 471.6,617.8 472.9,617.9 474.3,618.0 475.7,618.0 476.5,618.0 477.1,618.0 479.3,618.0 482.6,618.0 484.0,618.0 488.1,618.0 490.3,618.0 490.9,618.1 495.0,618.1 496.4,618.1 501.3,618.1 504.6,618.1 506.9,618.1 507.4,618.1 510.2,618.1 512.4,618.1 514.0,618.0 515.1,617.7 515.9,617.0 516.6,615.8 517.3,614.6 517.9,614.1 518.4,614.6 518.7,615.1 519.5,616.6 520.6,617.7 522.0,618.0 523.4,618.1 525.6,618.1 528.4,618.1 531.7,618.2 532.2,618.2 537.2,618.2 545.4,618.2 546.9,618.2" fill="none" stroke="#2c56a8" stroke-width="2.5" stroke-linejoin="round"/>
<polyline points="269.1,609.0 284.1,609.2 297.9,609.4 311.7,609.6 325.4,609.7 339.2,609.9 353.0,610.0 366.8,610.1 380.6,610.2 394.4,610.3 408.1,610.4 421.9,610.5 435.7,610.5 449.5,610.6 463.3,610.7 477.1,610.7 490.3,610.8 490.9,610.8 501.3,610.8 504.6,610.8 506.9,610.8 510.2,610.8 512.4,610.7 514.0,610.7 515.1,610.3 515.9,609.5 516.6,608.3 517.3,606.8 517.9,606.3 518.4,606.8 518.7,607.4 519.5,609.1 520.6,610.4 522.0,610.7 523.4,610.8 525.6,610.8 528.4,610.8 531.7,610.9 532.2,610.9 537.2,610.9 545.4,610.9 546.9,610.9" fill="none" stroke="#5a409e" stroke-width="2.5" stroke-linejoin="round"/>
<polyline points="269.1,600.4 284.1,600.6 297.9,600.8 311.7,601.0 325.4,601.1 339.2,601.3 353.0,601.4 366.8,601.5 380.6,601.6 394.4,601.7 408.1,601.8 421.9,601.9 435.7,601.9 449.5,602.0 463.3,602.1 477.1,602.1 490.3,602.2 490.9,602.2 501.3,602.2 504.6,602.2 506.9,602.2 510.2,602.2 512.4,602.1 514.0,602.1 515.1,601.7 515.9,600.9 516.6,599.7 517.3,598.2 517.9,597.7 518.4,598.2 518.7,598.8 519.5,600.5 520.6,601.8 522.0,602.1 523.4,602.2 525.6,602.2 528.4,602.2 531.7,602.3 532.2,602.3 537.2,602.3 545.4,602.3 546.9,602.3" fill="none" stroke="#7a329a" stroke-width="2.5" stroke-linejoin="round"/>
<polyline points="269.1,592.8 284.1,593.0 297.9,593.2 311.7,593.4 325.4,593.5 339.2,593.7 353.0,593.8 366.8,593.9 380.6,594.0 394.4,594.1 408.1,594.2 421.9,594.3 435.7,594.3 449.5,594.4 463.3,594.5 477.1,594.5 490.3,594.6 490.9,594.6 501.3,594.6 504.6,594.6 506.9,594.6 510.2,594.6 512.4,594.5 514.0,594.5 515.1,594.1 515.9,593.3 516.6,592.1 517.3,590.6 517.9,590.1 518.4,590.6 518.7,591.2 519.5,592.9 520.6,594.2 522.0,594.5 523.4,594.6 525.6,594.6 528.4,594.6 531.7,594.7 532.2,594.7 537.2,594.7 545.4,594.7 546.9,594.7" fill="none" stroke="#9a2494" stroke-width="2.5" stroke-linejoin="round"/>
<text x="270.30" y="763.00" font-size="17.5" text-anchor="middle" >5</text>
<text x="325.44" y="763.00" font-size="17.5" text-anchor="middle" >7</text>
<text x="380.58" y="763.00" font-size="17.5" text-anchor="middle" >9</text>
<text x="435.72" y="763.00" font-size="17.5" text-anchor="middle" >11</text>
<text x="490.86" y="763.00" font-size="17.5" text-anchor="middle" >13</text>
<text x="546.00" y="763.00" font-size="17.5" text-anchor="middle" >15</text>
<line x1="351.6" y1="583.8" x2="351.6" y2="703.7" stroke="#ed7d31" stroke-width="1.6" stroke-dasharray="6.5 3.5"/>
<line x1="392.7" y1="582.1" x2="392.7" y2="705.8" stroke="#5b9bd5" stroke-width="1.4" stroke-dasharray="6.5 3.5"/>
<line x1="454.7" y1="583.8" x2="454.7" y2="694" stroke="#000" stroke-width="1.8" stroke-dasharray="6 3.2"/>
<line x1="468.8" y1="582.1" x2="468.8" y2="673" stroke="#5b9bd5" stroke-width="1.4" stroke-dasharray="6.5 3.5"/>
<line x1="490.0" y1="582.7" x2="490.0" y2="681.5" stroke="#000" stroke-width="1.8" stroke-dasharray="6 3.2"/>
<line x1="517.5" y1="585.9" x2="517.5" y2="660.8" stroke="#5b82d2" stroke-width="1.0"/>
<circle cx="350.9" cy="572.4" r="4.5" fill="#ff0000"/>
<circle cx="392.1" cy="573.1" r="4.5" fill="#000"/>
<polygon points="449.8,576.1 459.4,576.1 454.6,567.9" fill="#ff0000"/>
<polygon points="465.5,570.1 473.1,570.1 469.3,576.7" fill="#fff" stroke="#000" stroke-width="1.5" stroke-linejoin="miter"/>
<polygon points="485.8,576.1 495.4,576.1 490.6,567.9" fill="#000"/>
<polygon points="513.2,571.3 518.4,565.9 523.6,571.3 518.4,576.7" fill="#000"/>
<rect x="551.6" y="601.10" width="11.399999999999977" height="3.75" fill="#9c2393"/>
<rect x="551.6" y="604.35" width="11.399999999999977" height="3.75" fill="#8b2a97"/>
<rect x="551.6" y="607.60" width="11.399999999999977" height="3.75" fill="#7a329a"/>
<rect x="551.6" y="610.85" width="11.399999999999977" height="3.75" fill="#69399c"/>
<rect x="551.6" y="614.10" width="11.399999999999977" height="3.75" fill="#57419f"/>
<rect x="551.6" y="617.35" width="11.399999999999977" height="3.75" fill="#4549a2"/>
<rect x="551.6" y="620.60" width="11.399999999999977" height="3.75" fill="#3652a6"/>
<rect x="551.6" y="623.85" width="11.399999999999977" height="3.75" fill="#2a5cad"/>
<rect x="551.6" y="627.10" width="11.399999999999977" height="3.75" fill="#1766b9"/>
<rect x="551.6" y="630.35" width="11.399999999999977" height="3.75" fill="#0f72c5"/>
<rect x="551.6" y="633.60" width="11.399999999999977" height="3.75" fill="#0d7fd0"/>
<rect x="551.6" y="636.85" width="11.399999999999977" height="3.75" fill="#0c8cd8"/>
<rect x="551.6" y="640.10" width="11.399999999999977" height="3.75" fill="#0f99de"/>
<rect x="551.6" y="643.35" width="11.399999999999977" height="3.75" fill="#17a6e3"/>
<rect x="551.6" y="646.60" width="11.399999999999977" height="3.75" fill="#14a9c6"/>
<rect x="551.6" y="649.85" width="11.399999999999977" height="3.75" fill="#10a8a2"/>
<rect x="551.6" y="653.10" width="11.399999999999977" height="3.75" fill="#11a67f"/>
<rect x="551.6" y="656.35" width="11.399999999999977" height="3.75" fill="#15a65f"/>
<rect x="551.6" y="659.60" width="11.399999999999977" height="3.75" fill="#1faa4b"/>
<rect x="551.6" y="662.85" width="11.399999999999977" height="3.75" fill="#4fb546"/>
<rect x="551.6" y="666.10" width="11.399999999999977" height="3.75" fill="#7cc142"/>
<rect x="551.6" y="669.35" width="11.399999999999977" height="3.75" fill="#a8cd38"/>
<rect x="551.6" y="672.60" width="11.399999999999977" height="3.75" fill="#cfd92c"/>
<rect x="551.6" y="675.85" width="11.399999999999977" height="3.75" fill="#f3dc13"/>
<rect x="551.6" y="679.10" width="11.399999999999977" height="3.75" fill="#ffd400"/>
<rect x="551.6" y="682.35" width="11.399999999999977" height="3.75" fill="#fdc10f"/>
<rect x="551.6" y="685.60" width="11.399999999999977" height="3.75" fill="#fbad18"/>
<rect x="551.6" y="688.85" width="11.399999999999977" height="3.75" fill="#f8991d"/>
<rect x="551.6" y="692.10" width="11.399999999999977" height="3.75" fill="#f58620"/>
<rect x="551.6" y="695.35" width="11.399999999999977" height="3.75" fill="#f37321"/>
<rect x="551.6" y="698.60" width="11.399999999999977" height="3.75" fill="#f05f24"/>
<rect x="551.6" y="701.85" width="11.399999999999977" height="3.75" fill="#ee4b27"/>
<rect x="551.6" y="705.10" width="11.399999999999977" height="3.75" fill="#eb3729"/>
<rect x="551.6" y="708.35" width="11.399999999999977" height="3.75" fill="#e9292a"/>
<text x="580.90" y="609.00" font-size="17" transform="rotate(-90 580.90 609.00)" textLength="20.10" lengthAdjust="spacingAndGlyphs" >60</text>
<text x="594.80" y="699.30" font-size="17.5" transform="rotate(-90 594.80 699.30)" textLength="86.70" lengthAdjust="spacingAndGlyphs" >Time (min)</text>
<text x="580.90" y="719.20" font-size="17" transform="rotate(-90 580.90 719.20)" >0</text>
<text x="255.70" y="703.60" font-size="17" transform="rotate(-90 255.70 703.60)" textLength="118.00" lengthAdjust="spacingAndGlyphs" >Intensity (a.u.)</text>
<text x="340.40" y="787.80" font-size="17" textLength="139.50" lengthAdjust="spacingAndGlyphs" >2 Theta (Degree)</text>
<text x="19.9" y="104.2" font-size="34">i</text>
<text x="106.10" y="94.90" font-size="28" textLength="124.50" lengthAdjust="spacingAndGlyphs" >PbI<tspan font-size="17.9" dy="5.6">2</tspan><tspan font-size="19" dy="-6.5">•</tspan><tspan dy="0.9">DMF</tspan></text>
<text x="107.20" y="131.90" font-size="28" textLength="117.40" lengthAdjust="spacingAndGlyphs" >δ-FAPbI<tspan font-size="17.9" dy="5.6">3</tspan></text>
<text x="106.40" y="175.50" font-size="28" textLength="127.80" lengthAdjust="spacingAndGlyphs" >δ<tspan font-size="25">-MAPbBr</tspan><tspan font-size="16.5" dy="5.0">3</tspan></text>
<text x="105.60" y="223.40" font-size="27.5" textLength="104.80" lengthAdjust="spacingAndGlyphs" >α-FAMA</text>
<circle cx="83.2" cy="84.0" r="5.5" fill="#000"/>
<polygon points="78.6,130.5 92.8,130.5 85.7,117.5" fill="#ff0000"/>
<polygon points="76.3,175.3 90.7,175.3 83.5,162.9" fill="#000"/>
<polygon points="78.4,217.1 84.9,210.3 91.4,217.1 84.9,223.9" fill="#000"/>
<text x="19.9 26.2" y="325.6" font-size="34">ii</text>
<text x="106.70" y="314.60" font-size="28" textLength="126.10" lengthAdjust="spacingAndGlyphs" >PbI<tspan font-size="17.9" dy="5.6">2</tspan><tspan font-size="19" dy="-6.5">•</tspan><tspan dy="0.9">NMP</tspan></text>
<text x="106.70" y="355.70" font-size="28" textLength="124.30" lengthAdjust="spacingAndGlyphs" >PbI<tspan font-size="17.9" dy="5.6">2</tspan><tspan font-size="19" dy="-6.5">•</tspan><tspan dy="0.9">DMF</tspan></text>
<text x="106.90" y="395.00" font-size="28" textLength="117.30" lengthAdjust="spacingAndGlyphs" >δ-FAPbI<tspan font-size="17.9" dy="5.6">3</tspan></text>
<text x="105.70" y="434.40" font-size="28" textLength="129.70" lengthAdjust="spacingAndGlyphs" >δ<tspan font-size="25">-MAPbBr</tspan><tspan font-size="16.5" dy="5.0">3</tspan></text>
<text x="108.20" y="479.60" font-size="27.5" textLength="103.80" lengthAdjust="spacingAndGlyphs" >α-FAMA</text>
<circle cx="83.7" cy="304.1" r="5.8" fill="#ffc000"/>
<circle cx="83.7" cy="346.5" r="5.4" fill="#000"/>
<polygon points="77.6,393.6 92.8,393.6 85.2,382.0" fill="#ff0000"/>
<polygon points="76.2,433.3 90.9,433.3 83.6,421.3" fill="#000"/>
<polygon points="80.7,473.2 87.3,466.4 93.9,473.2 87.3,480.0" fill="#000"/>
<text x="19.9 26.2 32.6" y="566.4" font-size="34">iii</text>
<text x="108.70" y="555.60" font-size="28" textLength="97.10" lengthAdjust="spacingAndGlyphs" >PbI<tspan font-size="17.9" dy="5.6">2</tspan><tspan font-size="19" dy="-6.5">•</tspan><tspan dy="0.9">N1</tspan></text>
<text x="107.70" y="598.70" font-size="28" textLength="123.70" lengthAdjust="spacingAndGlyphs" >PbI<tspan font-size="17.9" dy="5.6">2</tspan><tspan font-size="19" dy="-6.5">•</tspan><tspan dy="0.9">DMF</tspan></text>
<text x="108.30" y="641.90" font-size="28" textLength="116.50" lengthAdjust="spacingAndGlyphs" >δ-FAPbI<tspan font-size="17.9" dy="5.6">3</tspan></text>
<text x="109.20" y="686.80" font-size="28" textLength="54.80" lengthAdjust="spacingAndGlyphs" >PbI<tspan font-size="17.9" dy="5.6">2</tspan></text>
<text x="105.70" y="727.20" font-size="28" textLength="144.90" lengthAdjust="spacingAndGlyphs" >δ<tspan font-size="27">-MAPbBr</tspan><tspan font-size="17.8" dy="5.4">3</tspan></text>
<text x="107.30" y="765.20" font-size="27.5" textLength="103.30" lengthAdjust="spacingAndGlyphs" >α-FAMA</text>
<circle cx="85.3" cy="545.9" r="5.5" fill="#ff0000"/>
<circle cx="85.3" cy="589.1" r="5.5" fill="#000"/>
<polygon points="78.7,640.9 93.9,640.9 86.3,628.1" fill="#ff0000"/>
<polygon points="81.4,673.3 92.6,673.3 87.0,683.7" fill="#fff" stroke="#000" stroke-width="1.7" stroke-linejoin="miter"/>
<polygon points="79.4,726.4 95.0,726.4 87.2,714.4" fill="#000"/>
<polygon points="79.6,759.0 86.3,752.1 93.0,759.0 86.3,765.9" fill="#000"/>
<path d="M615.9,43.3 V779.7" stroke="#000" stroke-width="2.7" stroke-dasharray="9.4 6.66" fill="none"/>
<path d="M922.0,43.3 V779.7" stroke="#000" stroke-width="2.7" stroke-dasharray="9.4 6.66" fill="none"/>
<path d="M623.2,44.7 H923.3" stroke="#000" stroke-width="2.7" stroke-dasharray="9.4 6.66" fill="none"/>
<path d="M623.2,778.4 H923.3" stroke="#000" stroke-width="2.7" stroke-dasharray="9.4 6.66" fill="none"/>
<rect x="626.4" y="53.8" width="284.4" height="212.2" fill="#7f7f7f"/>
<g clip-path="url(#cS1)">
<g filter="url(#fBlur5)" clip-path="url(#cS1)">
<path d="M762,53 L911,53 L911,252 L626,252 L640,244 L690,221 L735,213 L790,212 L826,224 L832,214 L846,182 L800,152 L770,140 L747,120 L772,90 Z" fill="#989898"/>
<ellipse cx="640" cy="62" rx="26" ry="12" fill="#909090"/>
</g>
<g filter="url(#fBlur06)">
<rect x="800.9" y="52.5" width="19.7" height="5.3" rx="2.7" transform="rotate(65 810.8 55.2)" fill="rgb(154,154,154)" stroke="rgb(220,220,220)" stroke-width="1.7904925124490396" opacity="0.72"/>
<rect x="816.4" y="133.6" width="24.6" height="5.7" rx="2.8" transform="rotate(-59 828.7 136.4)" fill="rgb(130,130,130)" stroke="rgb(242,242,242)" stroke-width="1.5402505165179918" opacity="0.72"/>
<rect x="660.2" y="244.9" width="21.4" height="4.6" rx="2.3" transform="rotate(-60 670.9 247.2)" fill="rgb(142,142,142)" stroke="rgb(253,253,253)" stroke-width="1.4645208672220131" opacity="0.72"/>
<rect x="655.0" y="237.1" width="14.2" height="5.8" rx="2.9" transform="rotate(63 662.1 240.0)" fill="rgb(143,143,143)" stroke="rgb(251,251,251)" stroke-width="1.39228859025666" opacity="0.72"/>
<rect x="861.9" y="225.1" width="22.6" height="6.7" rx="3.2" transform="rotate(-12 873.2 228.5)" fill="rgb(142,142,142)" stroke="rgb(228,228,228)" stroke-width="1.8701751743776933" opacity="0.72"/>
<rect x="767.9" y="97.6" width="24.9" height="5.6" rx="2.8" transform="rotate(64 780.4 100.4)" fill="rgb(134,134,134)" stroke="rgb(235,235,235)" stroke-width="2.04285192018981" opacity="0.72"/>
<rect x="843.8" y="94.2" width="12.9" height="5.9" rx="2.9" transform="rotate(-27 850.3 97.2)" fill="rgb(156,156,156)" stroke="rgb(235,235,235)" stroke-width="1.4126265440541406" opacity="0.72"/>
<rect x="755.3" y="229.8" width="30.0" height="4.9" rx="2.4" transform="rotate(-53 770.3 232.2)" fill="rgb(155,155,155)" stroke="rgb(249,249,249)" stroke-width="1.4627416085229352" opacity="0.72"/>
<rect x="783.4" y="232.3" width="23.2" height="5.3" rx="2.7" transform="rotate(-50 794.9 235.0)" fill="rgb(125,125,125)" stroke="rgb(218,218,218)" stroke-width="2.061102909666666" opacity="0.72"/>
<rect x="770.4" y="241.8" width="31.0" height="4.7" rx="2.3" transform="rotate(38 785.9 244.1)" fill="rgb(161,161,161)" stroke="rgb(236,236,236)" stroke-width="1.3115521735958764" opacity="0.72"/>
<rect x="892.0" y="226.9" width="19.4" height="7.0" rx="3.2" transform="rotate(-50 901.7 230.4)" fill="rgb(126,126,126)" stroke="rgb(255,255,255)" stroke-width="1.498444791448633" opacity="0.72"/>
<rect x="876.9" y="228.1" width="35.3" height="5.8" rx="2.9" transform="rotate(-65 894.5 231.0)" fill="rgb(156,156,156)" stroke="rgb(220,220,220)" stroke-width="1.2856534520678788" opacity="0.72"/>
<rect x="749.8" y="60.0" width="33.3" height="8.6" rx="3.2" transform="rotate(-48 766.5 64.3)" fill="rgb(155,155,155)" stroke="rgb(225,225,225)" stroke-width="1.465056628940059" opacity="0.72"/>
<rect x="869.2" y="133.5" width="17.9" height="7.2" rx="3.2" transform="rotate(72 878.1 137.2)" fill="rgb(165,165,165)" stroke="rgb(234,234,234)" stroke-width="1.598992299997429" opacity="0.72"/>
<rect x="801.5" y="123.6" width="37.2" height="6.7" rx="3.2" transform="rotate(-33 820.1 126.9)" fill="rgb(141,141,141)" stroke="rgb(216,216,216)" stroke-width="1.7883087184572335" opacity="0.72"/>
<rect x="674.1" y="234.3" width="36.1" height="4.4" rx="2.2" transform="rotate(-33 692.2 236.5)" fill="rgb(151,151,151)" stroke="rgb(228,228,228)" stroke-width="1.7392339313947547" opacity="0.72"/>
<rect x="821.0" y="229.0" width="28.1" height="5.5" rx="2.7" transform="rotate(32 835.0 231.8)" fill="rgb(132,132,132)" stroke="rgb(221,221,221)" stroke-width="1.2969308142288234" opacity="0.72"/>
<rect x="714.6" y="224.9" width="19.0" height="5.1" rx="2.6" transform="rotate(24 724.1 227.5)" fill="rgb(131,131,131)" stroke="rgb(232,232,232)" stroke-width="1.6626280684009673" opacity="0.72"/>
<rect x="861.4" y="61.0" width="34.6" height="9.1" rx="3.2" transform="rotate(-63 878.7 65.5)" fill="rgb(154,154,154)" stroke="rgb(215,215,215)" stroke-width="2.1689962572847516" opacity="0.72"/>
<rect x="885.4" y="221.4" width="16.7" height="6.9" rx="3.2" transform="rotate(-26 893.7 224.8)" fill="rgb(123,123,123)" stroke="rgb(225,225,225)" stroke-width="1.5789731189769163" opacity="0.72"/>
<rect x="893.8" y="101.3" width="34.0" height="6.7" rx="3.2" transform="rotate(7 910.8 104.6)" fill="rgb(155,155,155)" stroke="rgb(246,246,246)" stroke-width="1.354796825274064" opacity="0.72"/>
<rect x="697.6" y="245.9" width="28.2" height="7.3" rx="3.2" transform="rotate(68 711.7 249.6)" fill="rgb(123,123,123)" stroke="rgb(252,252,252)" stroke-width="1.676788517108935" opacity="0.72"/>
<rect x="884.9" y="155.9" width="13.6" height="7.0" rx="3.2" transform="rotate(-55 891.7 159.4)" fill="rgb(124,124,124)" stroke="rgb(230,230,230)" stroke-width="1.6037755513182774" opacity="0.72"/>
<rect x="884.0" y="165.2" width="28.2" height="4.2" rx="2.1" transform="rotate(-59 898.1 167.4)" fill="rgb(157,157,157)" stroke="rgb(251,251,251)" stroke-width="1.722782715531959" opacity="0.72"/>
<rect x="880.1" y="89.4" width="32.1" height="5.4" rx="2.7" transform="rotate(1 896.1 92.1)" fill="rgb(161,161,161)" stroke="rgb(234,234,234)" stroke-width="1.6572245725704522" opacity="0.72"/>
<rect x="888.4" y="238.9" width="12.3" height="7.7" rx="3.2" transform="rotate(61 894.5 242.8)" fill="rgb(124,124,124)" stroke="rgb(249,249,249)" stroke-width="1.4131543122670405" opacity="0.72"/>
<rect x="684.3" y="237.6" width="36.7" height="9.3" rx="3.2" transform="rotate(-11 702.6 242.3)" fill="rgb(148,148,148)" stroke="rgb(249,249,249)" stroke-width="1.903539925087371" opacity="0.72"/>
<rect x="846.9" y="106.9" width="30.6" height="9.6" rx="3.2" transform="rotate(-53 862.1 111.7)" fill="rgb(126,126,126)" stroke="rgb(250,250,250)" stroke-width="1.3554479097749905" opacity="0.72"/>
<rect x="863.0" y="149.4" width="19.0" height="9.4" rx="3.2" transform="rotate(-67 872.5 154.1)" fill="rgb(147,147,147)" stroke="rgb(232,232,232)" stroke-width="1.24408676179905" opacity="0.72"/>
<rect x="897.0" y="79.2" width="24.4" height="8.2" rx="3.2" transform="rotate(29 909.2 83.3)" fill="rgb(124,124,124)" stroke="rgb(224,224,224)" stroke-width="1.7455902892055224" opacity="0.72"/>
<rect x="859.1" y="167.6" width="16.1" height="4.8" rx="2.4" transform="rotate(-24 867.2 170.0)" fill="rgb(122,122,122)" stroke="rgb(237,237,237)" stroke-width="1.410076538339754" opacity="0.72"/>
<rect x="839.8" y="228.3" width="23.4" height="7.7" rx="3.2" transform="rotate(-45 851.5 232.1)" fill="rgb(135,135,135)" stroke="rgb(225,225,225)" stroke-width="2.176206032930963" opacity="0.72"/>
<rect x="854.0" y="227.4" width="12.7" height="8.4" rx="3.2" transform="rotate(-5 860.3 231.6)" fill="rgb(146,146,146)" stroke="rgb(230,230,230)" stroke-width="1.466805709594472" opacity="0.72"/>
<rect x="835.3" y="67.7" width="36.4" height="9.2" rx="3.2" transform="rotate(-34 853.6 72.3)" fill="rgb(149,149,149)" stroke="rgb(237,237,237)" stroke-width="1.5051908673386005" opacity="0.72"/>
<rect x="849.5" y="94.3" width="12.7" height="5.2" rx="2.6" transform="rotate(-11 855.9 96.9)" fill="rgb(124,124,124)" stroke="rgb(232,232,232)" stroke-width="1.5511461290827522" opacity="0.72"/>
<rect x="863.4" y="113.6" width="12.8" height="9.3" rx="3.2" transform="rotate(-26 869.8 118.2)" fill="rgb(136,136,136)" stroke="rgb(217,217,217)" stroke-width="1.3084025472147112" opacity="0.72"/>
<rect x="759.7" y="126.6" width="28.1" height="5.5" rx="2.8" transform="rotate(69 773.8 129.4)" fill="rgb(153,153,153)" stroke="rgb(249,249,249)" stroke-width="1.8868571469145268" opacity="0.72"/>
<rect x="889.0" y="198.5" width="17.5" height="6.6" rx="3.2" transform="rotate(67 897.7 201.8)" fill="rgb(159,159,159)" stroke="rgb(235,235,235)" stroke-width="1.8633874762655442" opacity="0.72"/>
<rect x="648.9" y="231.4" width="26.2" height="8.0" rx="3.2" transform="rotate(-9 662.0 235.4)" fill="rgb(138,138,138)" stroke="rgb(250,250,250)" stroke-width="1.3272877990591532" opacity="0.72"/>
<rect x="732.0" y="239.0" width="31.0" height="9.4" rx="3.2" transform="rotate(56 747.5 243.7)" fill="rgb(145,145,145)" stroke="rgb(250,250,250)" stroke-width="2.0337251693040574" opacity="0.72"/>
<rect x="842.6" y="171.6" width="21.0" height="6.7" rx="3.2" transform="rotate(59 853.1 175.0)" fill="rgb(150,150,150)" stroke="rgb(225,225,225)" stroke-width="1.858850744998422" opacity="0.72"/>
<rect x="785.6" y="66.5" width="38.7" height="5.4" rx="2.7" transform="rotate(-25 805.0 69.2)" fill="rgb(132,132,132)" stroke="rgb(224,224,224)" stroke-width="1.2244253877268263" opacity="0.72"/>
<rect x="859.8" y="61.1" width="23.6" height="7.8" rx="3.2" transform="rotate(-27 871.6 65.0)" fill="rgb(144,144,144)" stroke="rgb(246,246,246)" stroke-width="1.5996528628765376" opacity="0.72"/>
<rect x="865.6" y="222.9" width="36.8" height="8.7" rx="3.2" transform="rotate(-34 884.0 227.3)" fill="rgb(164,164,164)" stroke="rgb(248,248,248)" stroke-width="1.6645498845742521" opacity="0.72"/>
<rect x="779.4" y="236.6" width="15.4" height="4.8" rx="2.4" transform="rotate(30 787.1 239.0)" fill="rgb(155,155,155)" stroke="rgb(253,253,253)" stroke-width="1.5172979574653476" opacity="0.72"/>
<rect x="826.9" y="136.5" width="34.8" height="9.4" rx="3.2" transform="rotate(9 844.3 141.2)" fill="rgb(155,155,155)" stroke="rgb(243,243,243)" stroke-width="2.097208103233262" opacity="0.72"/>
<rect x="831.3" y="145.0" width="19.3" height="5.5" rx="2.7" transform="rotate(59 840.9 147.8)" fill="rgb(153,153,153)" stroke="rgb(246,246,246)" stroke-width="1.8267484369817812" opacity="0.72"/>
<rect x="773.9" y="132.4" width="17.8" height="6.5" rx="3.2" transform="rotate(60 782.8 135.6)" fill="rgb(121,121,121)" stroke="rgb(251,251,251)" stroke-width="1.5803810289277118" opacity="0.72"/>
<rect x="824.4" y="222.6" width="38.7" height="6.5" rx="3.2" transform="rotate(73 843.8 225.8)" fill="rgb(158,158,158)" stroke="rgb(229,229,229)" stroke-width="1.6882294775502507" opacity="0.72"/>
<rect x="838.9" y="194.4" width="35.5" height="9.5" rx="3.2" transform="rotate(55 856.7 199.2)" fill="rgb(145,145,145)" stroke="rgb(252,252,252)" stroke-width="1.7643919830247743" opacity="0.72"/>
<rect x="829.5" y="123.6" width="33.1" height="9.0" rx="3.2" transform="rotate(-18 846.0 128.1)" fill="rgb(150,150,150)" stroke="rgb(216,216,216)" stroke-width="1.9490242610828508" opacity="0.72"/>
<rect x="631.9" y="243.9" width="18.3" height="4.4" rx="2.2" transform="rotate(56 641.1 246.1)" fill="rgb(121,121,121)" stroke="rgb(230,230,230)" stroke-width="1.3993606823625329" opacity="0.72"/>
<rect x="773.2" y="90.6" width="31.6" height="8.6" rx="3.2" transform="rotate(-49 789.0 94.9)" fill="rgb(165,165,165)" stroke="rgb(222,222,222)" stroke-width="1.977791886175433" opacity="0.72"/>
<rect x="779.2" y="236.6" width="28.1" height="9.4" rx="3.2" transform="rotate(4 793.2 241.4)" fill="rgb(165,165,165)" stroke="rgb(227,227,227)" stroke-width="1.27599647784306" opacity="0.72"/>
<rect x="864.0" y="168.7" width="15.4" height="9.9" rx="3.2" transform="rotate(-64 871.7 173.7)" fill="rgb(147,147,147)" stroke="rgb(238,238,238)" stroke-width="1.2689567365196406" opacity="0.72"/>
<rect x="875.5" y="142.2" width="16.3" height="5.1" rx="2.5" transform="rotate(41 883.7 144.7)" fill="rgb(137,137,137)" stroke="rgb(254,254,254)" stroke-width="2.008199218806756" opacity="0.72"/>
<rect x="685.9" y="223.2" width="35.3" height="4.5" rx="2.3" transform="rotate(25 703.6 225.5)" fill="rgb(149,149,149)" stroke="rgb(251,251,251)" stroke-width="1.8103317042305207" opacity="0.72"/>
<rect x="863.0" y="83.1" width="17.9" height="8.8" rx="3.2" transform="rotate(-11 871.9 87.5)" fill="rgb(158,158,158)" stroke="rgb(232,232,232)" stroke-width="1.7557910279195839" opacity="0.72"/>
<rect x="765.9" y="86.1" width="18.8" height="6.4" rx="3.2" transform="rotate(38 775.3 89.4)" fill="rgb(164,164,164)" stroke="rgb(245,245,245)" stroke-width="1.8459028997409523" opacity="0.72"/>
<rect x="760.5" y="210.7" width="14.6" height="5.3" rx="2.7" transform="rotate(67 767.8 213.3)" fill="rgb(162,162,162)" stroke="rgb(252,252,252)" stroke-width="1.569020450661037" opacity="0.72"/>
<rect x="766.0" y="117.2" width="39.9" height="7.3" rx="3.2" transform="rotate(-6 786.0 120.8)" fill="rgb(137,137,137)" stroke="rgb(234,234,234)" stroke-width="1.4514036762009415" opacity="0.72"/>
<rect x="837.2" y="84.7" width="18.1" height="6.9" rx="3.2" transform="rotate(71 846.3 88.1)" fill="rgb(153,153,153)" stroke="rgb(253,253,253)" stroke-width="1.482998703274955" opacity="0.72"/>
<rect x="691.5" y="246.6" width="27.5" height="8.2" rx="3.2" transform="rotate(-48 705.3 250.7)" fill="rgb(151,151,151)" stroke="rgb(221,221,221)" stroke-width="2.0727197349985347" opacity="0.72"/>
<rect x="779.7" y="144.1" width="24.3" height="5.1" rx="2.6" transform="rotate(-65 791.9 146.7)" fill="rgb(150,150,150)" stroke="rgb(222,222,222)" stroke-width="2.0221156452994307" opacity="0.72"/>
<rect x="799.8" y="57.4" width="16.2" height="7.4" rx="3.2" transform="rotate(-27 807.9 61.0)" fill="rgb(135,135,135)" stroke="rgb(222,222,222)" stroke-width="1.7580730346176285" opacity="0.72"/>
<rect x="725.8" y="233.4" width="20.3" height="7.5" rx="3.2" transform="rotate(3 735.9 237.2)" fill="rgb(159,159,159)" stroke="rgb(218,218,218)" stroke-width="1.8096309122451304" opacity="0.72"/>
<rect x="831.0" y="242.6" width="17.8" height="5.3" rx="2.6" transform="rotate(57 839.9 245.2)" fill="rgb(135,135,135)" stroke="rgb(226,226,226)" stroke-width="1.751992245577759" opacity="0.72"/>
<rect x="818.8" y="143.9" width="12.9" height="5.7" rx="2.9" transform="rotate(-20 825.2 146.8)" fill="rgb(149,149,149)" stroke="rgb(219,219,219)" stroke-width="1.8873849200712427" opacity="0.72"/>
<rect x="878.3" y="208.3" width="29.5" height="8.0" rx="3.2" transform="rotate(-31 893.0 212.3)" fill="rgb(154,154,154)" stroke="rgb(229,229,229)" stroke-width="1.8476347234024808" opacity="0.72"/>
<rect x="881.5" y="217.8" width="14.0" height="5.0" rx="2.5" transform="rotate(-21 888.5 220.3)" fill="rgb(156,156,156)" stroke="rgb(233,233,233)" stroke-width="1.6391534486737376" opacity="0.72"/>
<rect x="749.8" y="109.8" width="23.3" height="5.6" rx="2.8" transform="rotate(35 761.5 112.6)" fill="rgb(125,125,125)" stroke="rgb(253,253,253)" stroke-width="1.2398607841836131" opacity="0.72"/>
<rect x="741.4" y="114.1" width="19.0" height="4.5" rx="2.3" transform="rotate(66 750.9 116.4)" fill="rgb(156,156,156)" stroke="rgb(252,252,252)" stroke-width="2.1507862778063527" opacity="0.72"/>
<rect x="829.4" y="142.2" width="30.2" height="9.5" rx="3.2" transform="rotate(-44 844.6 146.9)" fill="rgb(147,147,147)" stroke="rgb(255,255,255)" stroke-width="2.0142449445406037" opacity="0.72"/>
<rect x="894.3" y="143.9" width="23.4" height="5.9" rx="3.0" transform="rotate(-54 906.1 146.8)" fill="rgb(141,141,141)" stroke="rgb(241,241,241)" stroke-width="1.8936736739834326" opacity="0.72"/>
<rect x="691.9" y="241.1" width="34.8" height="7.3" rx="3.2" transform="rotate(23 709.3 244.7)" fill="rgb(136,136,136)" stroke="rgb(235,235,235)" stroke-width="1.3159216014309578" opacity="0.72"/>
<rect x="831.7" y="226.2" width="35.1" height="4.0" rx="2.0" transform="rotate(35 849.3 228.2)" fill="rgb(123,123,123)" stroke="rgb(227,227,227)" stroke-width="1.7184393924607289" opacity="0.72"/>
<rect x="793.8" y="150.5" width="24.4" height="4.3" rx="2.2" transform="rotate(-21 805.9 152.7)" fill="rgb(138,138,138)" stroke="rgb(243,243,243)" stroke-width="2.080846617357806" opacity="0.72"/>
<rect x="751.3" y="51.5" width="29.6" height="8.8" rx="3.2" transform="rotate(66 766.1 55.9)" fill="rgb(155,155,155)" stroke="rgb(215,215,215)" stroke-width="1.7522514090537331" opacity="0.72"/>
<rect x="882.2" y="140.6" width="15.3" height="9.0" rx="3.2" transform="rotate(33 889.8 145.1)" fill="rgb(138,138,138)" stroke="rgb(247,247,247)" stroke-width="1.9054116299258537" opacity="0.72"/>
<rect x="838.5" y="221.6" width="21.5" height="8.7" rx="3.2" transform="rotate(-18 849.3 226.0)" fill="rgb(138,138,138)" stroke="rgb(234,234,234)" stroke-width="2.0374759226064216" opacity="0.72"/>
<rect x="863.3" y="139.0" width="25.6" height="6.0" rx="3.0" transform="rotate(34 876.1 142.0)" fill="rgb(140,140,140)" stroke="rgb(227,227,227)" stroke-width="2.1807746313325946" opacity="0.72"/>
<rect x="862.9" y="131.2" width="20.9" height="6.8" rx="3.2" transform="rotate(4 873.4 134.6)" fill="rgb(162,162,162)" stroke="rgb(224,224,224)" stroke-width="1.6953286496164237" opacity="0.72"/>
<rect x="778.3" y="225.8" width="36.5" height="6.6" rx="3.2" transform="rotate(40 796.6 229.2)" fill="rgb(120,120,120)" stroke="rgb(224,224,224)" stroke-width="1.6099786197463644" opacity="0.72"/>
<rect x="802.7" y="76.9" width="25.1" height="9.8" rx="3.2" transform="rotate(-7 815.2 81.8)" fill="rgb(145,145,145)" stroke="rgb(220,220,220)" stroke-width="2.0517652923506917" opacity="0.72"/>
<rect x="861.0" y="224.1" width="22.6" height="5.9" rx="2.9" transform="rotate(75 872.3 227.0)" fill="rgb(151,151,151)" stroke="rgb(249,249,249)" stroke-width="1.2358990998376866" opacity="0.72"/>
<rect x="834.4" y="135.5" width="14.8" height="7.8" rx="3.2" transform="rotate(-59 841.8 139.4)" fill="rgb(164,164,164)" stroke="rgb(234,234,234)" stroke-width="2.103424062050486" opacity="0.72"/>
<rect x="781.2" y="211.0" width="16.8" height="4.5" rx="2.2" transform="rotate(6 789.6 213.3)" fill="rgb(135,135,135)" stroke="rgb(246,246,246)" stroke-width="2.112829016023555" opacity="0.72"/>
<rect x="878.2" y="186.3" width="16.4" height="6.7" rx="3.2" transform="rotate(-2 886.4 189.6)" fill="rgb(139,139,139)" stroke="rgb(255,255,255)" stroke-width="2.162029072823442" opacity="0.72"/>
<rect x="815.3" y="139.1" width="20.5" height="10.0" rx="3.2" transform="rotate(23 825.5 144.1)" fill="rgb(144,144,144)" stroke="rgb(251,251,251)" stroke-width="1.558959157577246" opacity="0.72"/>
<rect x="856.4" y="205.6" width="39.3" height="9.5" rx="3.2" transform="rotate(70 876.0 210.3)" fill="rgb(138,138,138)" stroke="rgb(229,229,229)" stroke-width="1.807064998164266" opacity="0.72"/>
<rect x="849.6" y="175.5" width="37.3" height="7.9" rx="3.2" transform="rotate(-19 868.3 179.4)" fill="rgb(122,122,122)" stroke="rgb(252,252,252)" stroke-width="1.5648612330284697" opacity="0.72"/>
<rect x="653.4" y="234.1" width="21.1" height="6.5" rx="3.2" transform="rotate(-34 664.0 237.4)" fill="rgb(154,154,154)" stroke="rgb(238,238,238)" stroke-width="1.7308523737027852" opacity="0.72"/>
<rect x="880.4" y="216.6" width="19.2" height="8.9" rx="3.2" transform="rotate(34 890.0 221.1)" fill="rgb(138,138,138)" stroke="rgb(236,236,236)" stroke-width="2.004232538604511" opacity="0.72"/>
<rect x="828.5" y="92.5" width="30.9" height="8.0" rx="3.2" transform="rotate(11 843.9 96.5)" fill="rgb(155,155,155)" stroke="rgb(238,238,238)" stroke-width="1.2903028755685833" opacity="0.72"/>
<rect x="831.1" y="100.1" width="22.7" height="7.8" rx="3.2" transform="rotate(-13 842.5 104.0)" fill="rgb(134,134,134)" stroke="rgb(245,245,245)" stroke-width="1.2250246496464823" opacity="0.72"/>
<rect x="862.7" y="163.0" width="37.6" height="5.3" rx="2.7" transform="rotate(-56 881.5 165.6)" fill="rgb(149,149,149)" stroke="rgb(234,234,234)" stroke-width="1.8492394462845911" opacity="0.72"/>
<rect x="770.2" y="125.2" width="22.4" height="9.7" rx="3.2" transform="rotate(75 781.4 130.1)" fill="rgb(146,146,146)" stroke="rgb(252,252,252)" stroke-width="1.9422690147653159" opacity="0.72"/>
<rect x="737.5" y="242.9" width="12.9" height="6.2" rx="3.1" transform="rotate(27 743.9 246.0)" fill="rgb(135,135,135)" stroke="rgb(238,238,238)" stroke-width="1.2993546246061303" opacity="0.72"/>
<rect x="804.5" y="159.1" width="39.4" height="6.2" rx="3.1" transform="rotate(2 824.2 162.2)" fill="rgb(127,127,127)" stroke="rgb(244,244,244)" stroke-width="1.291673423817521" opacity="0.72"/>
<rect x="896.0" y="55.5" width="21.3" height="9.9" rx="3.2" transform="rotate(51 906.6 60.4)" fill="rgb(155,155,155)" stroke="rgb(228,228,228)" stroke-width="1.786383083581562" opacity="0.72"/>
<rect x="844.1" y="93.6" width="33.7" height="8.7" rx="3.2" transform="rotate(49 861.0 98.0)" fill="rgb(129,129,129)" stroke="rgb(223,223,223)" stroke-width="1.7402154568631514" opacity="0.72"/>
<rect x="838.6" y="70.2" width="36.3" height="4.8" rx="2.4" transform="rotate(-5 856.8 72.6)" fill="rgb(135,135,135)" stroke="rgb(252,252,252)" stroke-width="1.5237714619620224" opacity="0.72"/>
<rect x="823.9" y="154.9" width="32.9" height="6.9" rx="3.2" transform="rotate(-8 840.4 158.4)" fill="rgb(126,126,126)" stroke="rgb(243,243,243)" stroke-width="1.7038386897858215" opacity="0.72"/>
<rect x="882.3" y="54.3" width="33.9" height="9.2" rx="3.2" transform="rotate(33 899.2 58.9)" fill="rgb(161,161,161)" stroke="rgb(216,216,216)" stroke-width="1.2608254074945058" opacity="0.72"/>
<rect x="748.8" y="129.3" width="31.2" height="6.9" rx="3.2" transform="rotate(23 764.4 132.7)" fill="rgb(125,125,125)" stroke="rgb(235,235,235)" stroke-width="1.80829742363344" opacity="0.72"/>
<rect x="764.9" y="141.2" width="29.0" height="4.6" rx="2.3" transform="rotate(65 779.3 143.5)" fill="rgb(161,161,161)" stroke="rgb(250,250,250)" stroke-width="1.9208399166575991" opacity="0.72"/>
<rect x="810.1" y="122.3" width="16.3" height="9.5" rx="3.2" transform="rotate(-63 818.2 127.1)" fill="rgb(125,125,125)" stroke="rgb(220,220,220)" stroke-width="1.6318765185517403" opacity="0.72"/>
<rect x="833.4" y="124.6" width="15.6" height="4.4" rx="2.2" transform="rotate(36 841.2 126.8)" fill="rgb(162,162,162)" stroke="rgb(222,222,222)" stroke-width="1.6108086329221583" opacity="0.72"/>
<rect x="866.6" y="239.1" width="23.8" height="9.5" rx="3.2" transform="rotate(-56 878.5 243.9)" fill="rgb(158,158,158)" stroke="rgb(234,234,234)" stroke-width="1.551646185693149" opacity="0.72"/>
<rect x="777.8" y="91.2" width="30.4" height="5.3" rx="2.7" transform="rotate(-60 793.0 93.8)" fill="rgb(155,155,155)" stroke="rgb(238,238,238)" stroke-width="1.3148853135303082" opacity="0.72"/>
<rect x="832.3" y="174.4" width="30.9" height="7.3" rx="3.2" transform="rotate(60 847.8 178.1)" fill="rgb(164,164,164)" stroke="rgb(232,232,232)" stroke-width="1.2289531810612684" opacity="0.72"/>
<rect x="883.8" y="119.9" width="17.1" height="4.9" rx="2.4" transform="rotate(61 892.3 122.3)" fill="rgb(129,129,129)" stroke="rgb(255,255,255)" stroke-width="2.1718103187580193" opacity="0.72"/>
<rect x="705.4" y="239.3" width="28.7" height="9.3" rx="3.2" transform="rotate(-54 719.7 243.9)" fill="rgb(159,159,159)" stroke="rgb(218,218,218)" stroke-width="1.873968710613113" opacity="0.72"/>
<rect x="830.6" y="82.1" width="22.6" height="8.2" rx="3.2" transform="rotate(36 841.9 86.2)" fill="rgb(162,162,162)" stroke="rgb(237,237,237)" stroke-width="1.272075496592158" opacity="0.72"/>
<rect x="868.8" y="54.0" width="12.5" height="9.5" rx="3.2" transform="rotate(-7 875.0 58.7)" fill="rgb(156,156,156)" stroke="rgb(240,240,240)" stroke-width="1.9094989615689344" opacity="0.72"/>
<rect x="839.9" y="172.6" width="35.3" height="9.5" rx="3.2" transform="rotate(-59 857.6 177.3)" fill="rgb(126,126,126)" stroke="rgb(230,230,230)" stroke-width="1.6356765269404" opacity="0.72"/>
<rect x="868.5" y="199.3" width="18.2" height="8.7" rx="3.2" transform="rotate(-58 877.6 203.6)" fill="rgb(127,127,127)" stroke="rgb(248,248,248)" stroke-width="1.709952062322972" opacity="0.72"/>
<rect x="871.6" y="117.5" width="32.4" height="8.9" rx="3.2" transform="rotate(-53 887.8 122.0)" fill="rgb(129,129,129)" stroke="rgb(231,231,231)" stroke-width="1.3972718028239832" opacity="0.72"/>
<rect x="798.6" y="83.0" width="33.6" height="7.0" rx="3.2" transform="rotate(58 815.4 86.5)" fill="rgb(148,148,148)" stroke="rgb(251,251,251)" stroke-width="1.8429918306715662" opacity="0.72"/>
<rect x="894.5" y="111.7" width="24.3" height="6.8" rx="3.2" transform="rotate(60 906.6 115.1)" fill="rgb(137,137,137)" stroke="rgb(252,252,252)" stroke-width="1.256172120213078" opacity="0.72"/>
<rect x="760.3" y="111.8" width="24.7" height="4.3" rx="2.2" transform="rotate(-27 772.6 113.9)" fill="rgb(125,125,125)" stroke="rgb(254,254,254)" stroke-width="1.7940798186292337" opacity="0.72"/>
<rect x="895.2" y="197.5" width="13.1" height="9.5" rx="3.2" transform="rotate(57 901.8 202.2)" fill="rgb(140,140,140)" stroke="rgb(253,253,253)" stroke-width="1.6756290279430694" opacity="0.72"/>
<rect x="762.3" y="82.2" width="18.9" height="6.6" rx="3.2" transform="rotate(28 771.8 85.5)" fill="rgb(159,159,159)" stroke="rgb(225,225,225)" stroke-width="1.5638979596857128" opacity="0.72"/>
<rect x="874.4" y="125.8" width="33.7" height="8.1" rx="3.2" transform="rotate(-59 891.3 129.8)" fill="rgb(161,161,161)" stroke="rgb(236,236,236)" stroke-width="1.2659118542797174" opacity="0.72"/>
<rect x="797.5" y="233.7" width="36.5" height="6.0" rx="3.0" transform="rotate(57 815.7 236.7)" fill="rgb(142,142,142)" stroke="rgb(234,234,234)" stroke-width="2.167696507692745" opacity="0.72"/>
<rect x="813.5" y="125.9" width="28.7" height="9.6" rx="3.2" transform="rotate(-21 827.9 130.7)" fill="rgb(161,161,161)" stroke="rgb(236,236,236)" stroke-width="2.0131847838148014" opacity="0.72"/>
<rect x="675.1" y="242.5" width="25.6" height="5.4" rx="2.7" transform="rotate(-54 687.9 245.2)" fill="rgb(138,138,138)" stroke="rgb(221,221,221)" stroke-width="1.7076897127246462" opacity="0.72"/>
<rect x="864.9" y="174.9" width="28.7" height="4.9" rx="2.5" transform="rotate(-46 879.3 177.3)" fill="rgb(159,159,159)" stroke="rgb(225,225,225)" stroke-width="1.9211829978054271" opacity="0.72"/>
<rect x="819.4" y="245.5" width="29.1" height="8.5" rx="3.2" transform="rotate(25 834.0 249.7)" fill="rgb(135,135,135)" stroke="rgb(234,234,234)" stroke-width="2.1655966371940365" opacity="0.72"/>
<rect x="844.0" y="232.2" width="17.4" height="8.1" rx="3.2" transform="rotate(61 852.7 236.2)" fill="rgb(149,149,149)" stroke="rgb(233,233,233)" stroke-width="1.978124037249926" opacity="0.72"/>
<rect x="763.1" y="133.6" width="16.5" height="5.2" rx="2.6" transform="rotate(51 771.3 136.2)" fill="rgb(136,136,136)" stroke="rgb(218,218,218)" stroke-width="1.8411790362044473" opacity="0.72"/>
<rect x="871.2" y="159.7" width="14.9" height="9.1" rx="3.2" transform="rotate(-61 878.6 164.2)" fill="rgb(130,130,130)" stroke="rgb(232,232,232)" stroke-width="1.6493192203738258" opacity="0.72"/>
<rect x="767.1" y="216.5" width="14.6" height="9.5" rx="3.2" transform="rotate(33 774.4 221.2)" fill="rgb(121,121,121)" stroke="rgb(241,241,241)" stroke-width="1.2532568871710745" opacity="0.72"/>
<rect x="751.2" y="95.4" width="39.8" height="6.2" rx="3.1" transform="rotate(-64 771.1 98.6)" fill="rgb(126,126,126)" stroke="rgb(236,236,236)" stroke-width="1.9913806374821763" opacity="0.72"/>
<rect x="857.9" y="189.3" width="15.9" height="8.2" rx="3.2" transform="rotate(29 865.8 193.4)" fill="rgb(125,125,125)" stroke="rgb(216,216,216)" stroke-width="1.4559239284370447" opacity="0.72"/>
<rect x="851.1" y="159.5" width="32.4" height="7.2" rx="3.2" transform="rotate(-55 867.3 163.1)" fill="rgb(135,135,135)" stroke="rgb(234,234,234)" stroke-width="1.3218483451586176" opacity="0.72"/>
<rect x="788.3" y="59.4" width="35.4" height="7.0" rx="3.2" transform="rotate(29 806.0 62.9)" fill="rgb(152,152,152)" stroke="rgb(251,251,251)" stroke-width="1.4419381344209934" opacity="0.72"/>
<rect x="791.8" y="95.6" width="23.7" height="8.0" rx="3.2" transform="rotate(-58 803.7 99.6)" fill="rgb(143,143,143)" stroke="rgb(219,219,219)" stroke-width="2.1534036779855152" opacity="0.72"/>
<rect x="754.5" y="52.1" width="36.5" height="4.3" rx="2.1" transform="rotate(11 772.7 54.2)" fill="rgb(136,136,136)" stroke="rgb(216,216,216)" stroke-width="1.5570938765147329" opacity="0.72"/>
<rect x="801.8" y="67.1" width="28.3" height="8.5" rx="3.2" transform="rotate(-55 815.9 71.4)" fill="rgb(154,154,154)" stroke="rgb(236,236,236)" stroke-width="2.0135088655560884" opacity="0.72"/>
<rect x="751.7" y="107.9" width="13.2" height="5.2" rx="2.6" transform="rotate(-64 758.3 110.4)" fill="rgb(139,139,139)" stroke="rgb(247,247,247)" stroke-width="1.5982240556860172" opacity="0.72"/>
<rect x="855.1" y="143.6" width="13.0" height="7.9" rx="3.2" transform="rotate(-24 861.7 147.5)" fill="rgb(123,123,123)" stroke="rgb(236,236,236)" stroke-width="1.4732166061138734" opacity="0.72"/>
<rect x="845.4" y="136.7" width="23.2" height="6.6" rx="3.2" transform="rotate(3 857.0 140.0)" fill="rgb(131,131,131)" stroke="rgb(246,246,246)" stroke-width="1.892068491112615" opacity="0.72"/>
<rect x="722.4" y="212.0" width="19.5" height="4.5" rx="2.2" transform="rotate(-0 732.2 214.2)" fill="rgb(158,158,158)" stroke="rgb(226,226,226)" stroke-width="1.745474397344637" opacity="0.72"/>
<rect x="802.6" y="109.9" width="28.9" height="6.6" rx="3.2" transform="rotate(69 817.0 113.1)" fill="rgb(148,148,148)" stroke="rgb(217,217,217)" stroke-width="1.9268143957111028" opacity="0.72"/>
<rect x="877.4" y="172.7" width="24.2" height="7.8" rx="3.2" transform="rotate(-67 889.5 176.7)" fill="rgb(160,160,160)" stroke="rgb(240,240,240)" stroke-width="1.5633111306509824" opacity="0.72"/>
<rect x="838.2" y="187.5" width="38.7" height="4.9" rx="2.4" transform="rotate(57 857.5 190.0)" fill="rgb(148,148,148)" stroke="rgb(217,217,217)" stroke-width="1.3262300243022542" opacity="0.72"/>
<rect x="724.2" y="243.1" width="12.9" height="4.9" rx="2.5" transform="rotate(33 730.7 245.6)" fill="rgb(143,143,143)" stroke="rgb(243,243,243)" stroke-width="1.9630844717985796" opacity="0.72"/>
<rect x="827.2" y="149.1" width="22.8" height="7.4" rx="3.2" transform="rotate(-19 838.6 152.8)" fill="rgb(165,165,165)" stroke="rgb(243,243,243)" stroke-width="1.4145704254237197" opacity="0.72"/>
<rect x="774.7" y="107.3" width="20.4" height="4.9" rx="2.5" transform="rotate(75 784.9 109.8)" fill="rgb(160,160,160)" stroke="rgb(226,226,226)" stroke-width="1.9936963838450028" opacity="0.72"/>
<rect x="764.2" y="72.6" width="17.6" height="4.8" rx="2.4" transform="rotate(22 773.0 75.0)" fill="rgb(155,155,155)" stroke="rgb(251,251,251)" stroke-width="1.5689111655012207" opacity="0.72"/>
<rect x="843.7" y="161.4" width="29.1" height="4.5" rx="2.3" transform="rotate(-23 858.3 163.6)" fill="rgb(165,165,165)" stroke="rgb(245,245,245)" stroke-width="1.7256956548303002" opacity="0.72"/>
<rect x="841.3" y="214.7" width="14.1" height="9.8" rx="3.2" transform="rotate(57 848.3 219.6)" fill="rgb(149,149,149)" stroke="rgb(248,248,248)" stroke-width="1.5445147807026998" opacity="0.72"/>
<rect x="864.8" y="208.2" width="29.9" height="5.1" rx="2.5" transform="rotate(-51 879.7 210.7)" fill="rgb(123,123,123)" stroke="rgb(222,222,222)" stroke-width="1.7181021329240163" opacity="0.72"/>
<rect x="876.9" y="92.9" width="38.5" height="7.1" rx="3.2" transform="rotate(-18 896.1 96.4)" fill="rgb(136,136,136)" stroke="rgb(227,227,227)" stroke-width="1.835057091387746" opacity="0.72"/>
<rect x="775.0" y="72.2" width="20.5" height="7.2" rx="3.2" transform="rotate(37 785.2 75.8)" fill="rgb(157,157,157)" stroke="rgb(252,252,252)" stroke-width="1.3541942668795632" opacity="0.72"/>
<rect x="787.0" y="219.1" width="27.8" height="9.0" rx="3.2" transform="rotate(-67 800.9 223.6)" fill="rgb(161,161,161)" stroke="rgb(251,251,251)" stroke-width="1.4646559078330545" opacity="0.72"/>
<rect x="786.2" y="52.6" width="36.9" height="7.3" rx="3.2" transform="rotate(67 804.6 56.2)" fill="rgb(150,150,150)" stroke="rgb(230,230,230)" stroke-width="2.0046881542157333" opacity="0.72"/>
<rect x="816.9" y="109.1" width="14.0" height="4.4" rx="2.2" transform="rotate(27 824.0 111.3)" fill="rgb(149,149,149)" stroke="rgb(228,228,228)" stroke-width="1.5401925683517774" opacity="0.72"/>
<rect x="838.3" y="153.4" width="15.0" height="5.5" rx="2.7" transform="rotate(-61 845.8 156.1)" fill="rgb(135,135,135)" stroke="rgb(224,224,224)" stroke-width="1.2968116525605715" opacity="0.72"/>
<rect x="785.7" y="98.7" width="36.2" height="5.0" rx="2.5" transform="rotate(-3 803.8 101.1)" fill="rgb(140,140,140)" stroke="rgb(227,227,227)" stroke-width="1.9631213751386287" opacity="0.72"/>
<rect x="763.8" y="108.7" width="12.6" height="9.7" rx="3.2" transform="rotate(34 770.1 113.6)" fill="rgb(135,135,135)" stroke="rgb(228,228,228)" stroke-width="1.7833441119856768" opacity="0.72"/>
<rect x="783.3" y="220.8" width="30.8" height="5.7" rx="2.9" transform="rotate(-58 798.7 223.6)" fill="rgb(147,147,147)" stroke="rgb(223,223,223)" stroke-width="2.082455730918593" opacity="0.72"/>
<rect x="825.1" y="204.2" width="22.2" height="6.4" rx="3.2" transform="rotate(56 836.2 207.4)" fill="rgb(143,143,143)" stroke="rgb(250,250,250)" stroke-width="1.4886016970390956" opacity="0.72"/>
<rect x="770.2" y="216.2" width="29.5" height="7.7" rx="3.2" transform="rotate(-44 784.9 220.0)" fill="rgb(145,145,145)" stroke="rgb(238,238,238)" stroke-width="1.994897228380946" opacity="0.72"/>
<rect x="707.4" y="240.8" width="33.1" height="5.2" rx="2.6" transform="rotate(34 724.0 243.4)" fill="rgb(122,122,122)" stroke="rgb(217,217,217)" stroke-width="1.2389139662462203" opacity="0.72"/>
<rect x="819.0" y="213.2" width="26.5" height="4.9" rx="2.4" transform="rotate(31 832.2 215.6)" fill="rgb(159,159,159)" stroke="rgb(235,235,235)" stroke-width="1.3625020458769395" opacity="0.72"/>
<rect x="849.5" y="156.8" width="31.8" height="5.8" rx="2.9" transform="rotate(-64 865.4 159.7)" fill="rgb(163,163,163)" stroke="rgb(222,222,222)" stroke-width="2.179898031179162" opacity="0.72"/>
<rect x="778.5" y="210.1" width="32.3" height="8.1" rx="3.2" transform="rotate(-61 794.7 214.1)" fill="rgb(136,136,136)" stroke="rgb(252,252,252)" stroke-width="1.777634395864183" opacity="0.72"/>
<rect x="826.1" y="166.3" width="16.8" height="7.8" rx="3.2" transform="rotate(58 834.5 170.2)" fill="rgb(144,144,144)" stroke="rgb(224,224,224)" stroke-width="2.0216612911278524" opacity="0.72"/>
<rect x="816.3" y="86.0" width="24.3" height="6.5" rx="3.2" transform="rotate(7 828.5 89.3)" fill="rgb(146,146,146)" stroke="rgb(247,247,247)" stroke-width="1.974972301807091" opacity="0.72"/>
<rect x="875.7" y="227.6" width="32.6" height="4.4" rx="2.2" transform="rotate(-50 892.0 229.8)" fill="rgb(155,155,155)" stroke="rgb(235,235,235)" stroke-width="2.1981228684054823" opacity="0.72"/>
<rect x="744.9" y="124.2" width="38.8" height="6.8" rx="3.2" transform="rotate(33 764.2 127.6)" fill="rgb(142,142,142)" stroke="rgb(231,231,231)" stroke-width="1.8100765800787517" opacity="0.72"/>
<rect x="767.7" y="93.4" width="39.2" height="5.8" rx="2.9" transform="rotate(-20 787.3 96.3)" fill="rgb(164,164,164)" stroke="rgb(246,246,246)" stroke-width="1.517040745018448" opacity="0.72"/>
<rect x="709.7" y="239.5" width="34.3" height="5.6" rx="2.8" transform="rotate(-57 726.8 242.3)" fill="rgb(154,154,154)" stroke="rgb(239,239,239)" stroke-width="2.0957604615402263" opacity="0.72"/>
</g>
<g filter="url(#fBlur06)">
<rect x="671.3" y="75.0" width="40.0" height="15.0" rx="3.2" transform="rotate(68 691.3 82.5)" fill="#a0a0a0" stroke="#f4f4f4" stroke-width="2.7" opacity="1"/>
<rect x="678.9" y="81.3" width="24.8" height="2.4" rx="1.2" transform="rotate(68 691.3 82.5)" fill="#7c7c7c" stroke="none" stroke-width="0" opacity="1"/>
<rect x="630.0" y="103.7" width="47.7" height="13.0" rx="3.2" transform="rotate(26 653.9 110.2)" fill="#a0a0a0" stroke="#f4f4f4" stroke-width="2.7" opacity="1"/>
<rect x="639.1" y="109.2" width="29.6" height="2.1" rx="1.0" transform="rotate(26 653.9 110.2)" fill="#7c7c7c" stroke="none" stroke-width="0" opacity="1"/>
<rect x="641.4" y="80.6" width="21.0" height="8.0" rx="3.2" transform="rotate(30 651.9 84.6)" fill="#a0a0a0" stroke="#f4f4f4" stroke-width="2.7" opacity="1"/>
<rect x="645.4" y="84.0" width="13.0" height="1.3" rx="0.6" transform="rotate(30 651.9 84.6)" fill="#7c7c7c" stroke="none" stroke-width="0" opacity="1"/>
<rect x="633.8" y="136.1" width="32.0" height="13.5" rx="3.2" transform="rotate(59 649.8 142.8)" fill="#a0a0a0" stroke="#f4f4f4" stroke-width="2.7" opacity="1"/>
<rect x="639.9" y="141.7" width="19.8" height="2.2" rx="1.1" transform="rotate(59 649.8 142.8)" fill="#7c7c7c" stroke="none" stroke-width="0" opacity="1"/>
<rect x="708.0" y="76.0" width="41.5" height="13.0" rx="3.2" transform="rotate(-12 728.7 82.5)" fill="#a0a0a0" stroke="#f4f4f4" stroke-width="2.7" opacity="1"/>
<rect x="715.8" y="81.5" width="25.7" height="2.1" rx="1.0" transform="rotate(-12 728.7 82.5)" fill="#7c7c7c" stroke="none" stroke-width="0" opacity="1"/>
<rect x="709.5" y="133.8" width="37.0" height="9.5" rx="3.2" transform="rotate(-22 728.0 138.6)" fill="#a0a0a0" stroke="#f4f4f4" stroke-width="2.7" opacity="1"/>
<rect x="716.5" y="137.8" width="22.9" height="1.5" rx="0.8" transform="rotate(-22 728.0 138.6)" fill="#7c7c7c" stroke="none" stroke-width="0" opacity="1"/>
<rect x="679.0" y="144.3" width="26.0" height="8.0" rx="3.2" transform="rotate(8 692.0 148.3)" fill="#a0a0a0" stroke="#f4f4f4" stroke-width="2.7" opacity="1"/>
<rect x="683.9" y="147.7" width="16.1" height="1.3" rx="0.6" transform="rotate(8 692.0 148.3)" fill="#7c7c7c" stroke="none" stroke-width="0" opacity="1"/>
<rect x="637.6" y="179.2" width="34.0" height="8.5" rx="3.2" transform="rotate(-58 654.6 183.5)" fill="#a0a0a0" stroke="#f4f4f4" stroke-width="2.7" opacity="1"/>
<rect x="644.1" y="182.8" width="21.1" height="1.4" rx="0.7" transform="rotate(-58 654.6 183.5)" fill="#7c7c7c" stroke="none" stroke-width="0" opacity="1"/>
<rect x="701.2" y="171.9" width="26.0" height="8.0" rx="3.2" transform="rotate(-65 714.2 175.9)" fill="#a0a0a0" stroke="#f4f4f4" stroke-width="2.7" opacity="1"/>
<rect x="706.1" y="175.3" width="16.1" height="1.3" rx="0.6" transform="rotate(-65 714.2 175.9)" fill="#7c7c7c" stroke="none" stroke-width="0" opacity="1"/>
<rect x="704.5" y="212.7" width="43.0" height="6.0" rx="3.0" transform="rotate(-3 726.0 215.7)" fill="#a0a0a0" stroke="#f4f4f4" stroke-width="2.7" opacity="1"/>
<rect x="712.7" y="215.1" width="26.7" height="1.2" rx="0.6" transform="rotate(-3 726.0 215.7)" fill="#7c7c7c" stroke="none" stroke-width="0" opacity="1"/>
<rect x="782.0" y="164.1" width="26.0" height="7.0" rx="3.2" transform="rotate(30 795.0 167.6)" fill="#a0a0a0" stroke="#f4f4f4" stroke-width="2.7" opacity="1"/>
<rect x="786.9" y="167.0" width="16.1" height="1.2" rx="0.6" transform="rotate(30 795.0 167.6)" fill="#7c7c7c" stroke="none" stroke-width="0" opacity="1"/>
<rect x="747.0" y="107.5" width="26.0" height="9.0" rx="3.2" transform="rotate(35 760.0 112.0)" fill="#a0a0a0" stroke="#f4f4f4" stroke-width="2.7" opacity="1"/>
<rect x="751.9" y="111.3" width="16.1" height="1.4" rx="0.7" transform="rotate(35 760.0 112.0)" fill="#7c7c7c" stroke="none" stroke-width="0" opacity="1"/>
<rect x="752.0" y="176.5" width="26.0" height="7.0" rx="3.2" transform="rotate(20 765.0 180.0)" fill="#a0a0a0" stroke="#f4f4f4" stroke-width="2.7" opacity="1"/>
<rect x="756.9" y="179.4" width="16.1" height="1.2" rx="0.6" transform="rotate(20 765.0 180.0)" fill="#7c7c7c" stroke="none" stroke-width="0" opacity="1"/>
<rect x="744.0" y="201.5" width="28.0" height="7.0" rx="3.2" transform="rotate(-15 758.0 205.0)" fill="#a0a0a0" stroke="#f4f4f4" stroke-width="2.7" opacity="1"/>
<rect x="749.3" y="204.4" width="17.4" height="1.2" rx="0.6" transform="rotate(-15 758.0 205.0)" fill="#7c7c7c" stroke="none" stroke-width="0" opacity="1"/>
<rect x="769.0" y="169.0" width="22.0" height="6.0" rx="3.0" transform="rotate(70 780.0 172.0)" fill="#a0a0a0" stroke="#f4f4f4" stroke-width="2.7" opacity="1"/>
<rect x="773.2" y="171.4" width="13.6" height="1.2" rx="0.6" transform="rotate(70 780.0 172.0)" fill="#7c7c7c" stroke="none" stroke-width="0" opacity="1"/>
<rect x="778.0" y="160.0" width="30.0" height="8.0" rx="3.2" transform="rotate(30 793.0 164.0)" fill="#a0a0a0" stroke="#f4f4f4" stroke-width="2.7" opacity="1"/>
<rect x="783.7" y="163.4" width="18.6" height="1.3" rx="0.6" transform="rotate(30 793.0 164.0)" fill="#7c7c7c" stroke="none" stroke-width="0" opacity="1"/>
<rect x="731.0" y="154.5" width="22.0" height="7.0" rx="3.2" transform="rotate(60 742.0 158.0)" fill="#a0a0a0" stroke="#f4f4f4" stroke-width="2.7" opacity="1"/>
<rect x="735.2" y="157.4" width="13.6" height="1.2" rx="0.6" transform="rotate(60 742.0 158.0)" fill="#7c7c7c" stroke="none" stroke-width="0" opacity="1"/>
<rect x="685.0" y="228.5" width="30.0" height="7.0" rx="3.2" transform="rotate(-28 700.0 232.0)" fill="#a0a0a0" stroke="#f4f4f4" stroke-width="2.7" opacity="1"/>
<rect x="690.7" y="231.4" width="18.6" height="1.2" rx="0.6" transform="rotate(-28 700.0 232.0)" fill="#7c7c7c" stroke="none" stroke-width="0" opacity="1"/>
<rect x="651.0" y="236.5" width="34.0" height="7.0" rx="3.2" transform="rotate(-26 668.0 240.0)" fill="#a0a0a0" stroke="#f4f4f4" stroke-width="2.7" opacity="1"/>
<rect x="657.5" y="239.4" width="21.1" height="1.2" rx="0.6" transform="rotate(-26 668.0 240.0)" fill="#7c7c7c" stroke="none" stroke-width="0" opacity="1"/>
<rect x="723.0" y="192.5" width="24.0" height="7.0" rx="3.2" transform="rotate(40 735.0 196.0)" fill="#a0a0a0" stroke="#f4f4f4" stroke-width="2.7" opacity="1"/>
<rect x="727.6" y="195.4" width="14.9" height="1.2" rx="0.6" transform="rotate(40 735.0 196.0)" fill="#7c7c7c" stroke="none" stroke-width="0" opacity="1"/>
<rect x="757.0" y="188.0" width="30.0" height="8.0" rx="3.2" transform="rotate(-50 772.0 192.0)" fill="#a0a0a0" stroke="#f4f4f4" stroke-width="2.7" opacity="1"/>
<rect x="762.7" y="191.4" width="18.6" height="1.3" rx="0.6" transform="rotate(-50 772.0 192.0)" fill="#7c7c7c" stroke="none" stroke-width="0" opacity="1"/>
<circle cx="757.1" cy="70.8" r="8" fill="#a0a0a0" stroke="#eeeeee" stroke-width="2.2"/>
<circle cx="744.7" cy="100.6" r="4" fill="#a0a0a0" stroke="#eeeeee" stroke-width="2.2"/>
<circle cx="732.2" cy="110.9" r="4" fill="#a0a0a0" stroke="#eeeeee" stroke-width="2.2"/>
<circle cx="685.1" cy="175.2" r="4" fill="#a0a0a0" stroke="#eeeeee" stroke-width="2.2"/>
<circle cx="640" cy="64" r="7" fill="#a0a0a0" stroke="#eeeeee" stroke-width="2.2"/>
<circle cx="665" cy="62" r="5" fill="#a0a0a0" stroke="#eeeeee" stroke-width="2.2"/>
<ellipse cx="664.3" cy="204.3" rx="9.5" ry="6" fill="#8a8a8a" stroke="#dcdcdc" stroke-width="2.4" transform="rotate(-15 664.3 204.3)"/>
<polygon points="716,168 728,158 739,166 735,180 722,184" fill="#5e5e5e" stroke="#dedede" stroke-width="3.2" stroke-linejoin="round"/>
<polygon points="781.1,240.6 803,232.5 797,252" fill="#747474" stroke="#e2e2e2" stroke-width="2.2" stroke-linejoin="round"/>
<ellipse cx="864.2" cy="180.8" rx="2" ry="5" fill="#333" transform="rotate(20 864.2 180.8)"/><circle cx="851.7" cy="193.2" r="2.6" fill="#444"/>
<path d="M838,99 h3 m3,0 h3 m3,1 h3" stroke="#222" stroke-width="1.6"/>
</g>
<rect x="626.4" y="53.8" width="5" height="198" fill="#c8c8c8" opacity="0.35" filter="url(#fBlur06)"/>
<rect x="626.4" y="53.8" width="284.4" height="197.9" filter="url(#fGrain)" opacity="0.07"/>
</g>
<rect x="626.4" y="251.7" width="284.4" height="14.3" fill="#000"/>
<text x="629.00" y="263.20" font-size="8.8" textLength="137.80" lengthAdjust="spacingAndGlyphs" fill="#e2e2e2" font-weight="bold">S-4800 5.0kV 11.3mm x3.00k SE(M)</text>
<rect x="839.3" y="233.8" width="69.9" height="27.6" fill="#fff"/>
<text x="838.40" y="256.30" font-size="24" textLength="66.50" lengthAdjust="spacingAndGlyphs" >10 µm</text>
<clipPath id="cS2"><rect x="625.8" y="298.9" width="288.1" height="202.5"/></clipPath>
<g clip-path="url(#cS2)"><rect x="625.8" y="298.9" width="288.1" height="202.5" fill="#7c7c7c" filter="url(#fSem2)"/></g>
<rect x="625.8" y="501.4" width="288.1" height="13.9" fill="#000"/>
<text x="628.60" y="512.40" font-size="8.8" textLength="134.00" lengthAdjust="spacingAndGlyphs" fill="#e2e2e2" font-weight="bold">S-4800 3.0kV 9.3mm x3.00k SE(M)</text>
<rect x="842.4" y="483.4" width="68.8" height="29.1" fill="#fff"/>
<text x="842.60" y="508.10" font-size="24" textLength="66.40" lengthAdjust="spacingAndGlyphs" >10 µm</text>
<clipPath id="cS3"><rect x="626.0" y="547.3" width="288.4" height="202.3"/></clipPath>
<g clip-path="url(#cS3)"><rect x="626.0" y="547.3" width="288.4" height="202.3" fill="#7c7c7c" filter="url(#fSem3)"/></g>
<g filter="url(#fBlur12)"><ellipse cx="768" cy="656" rx="15" ry="9" fill="#fff" opacity="0.32"/><g fill="none" stroke="#f2f2f2" stroke-width="1.8" opacity="0.9"><path d="M757,662 q10,-9 24,-3"/><path d="M760,670 q12,-7 21,3"/><path d="M760,652 q9,-6 20,-4"/><path d="M766,678 q8,-2 14,-8"/></g></g>
<rect x="626.0" y="749.6" width="288.4" height="14.3" fill="#000"/>
<text x="629.00" y="761.20" font-size="8.8" textLength="134.00" lengthAdjust="spacingAndGlyphs" fill="#e2e2e2" font-weight="bold">S-4800 3.0kV 9.1mm x3.00k SE(M)</text>
<rect x="841.9" y="733.2" width="69.1" height="27.7" fill="#fff"/>
<text x="841.50" y="755.30" font-size="24" textLength="67.30" lengthAdjust="spacingAndGlyphs" >10 µm</text>
<polyline points="970.3,120.2 972.8,122.0 975.2,123.3 977.7,124.6 980.1,125.7 982.6,126.4 985.0,127.2 987.5,128.3 989.9,128.7 992.4,129.2 994.8,130.0 997.3,130.2 999.8,130.7 1002.2,130.9 1004.7,131.2 1007.1,131.3 1009.6,131.7 1012.0,132.0 1014.5,132.0 1016.9,132.2 1018.4,131.5 1018.7,125.7 1018.9,112.6 1019.1,97.7 1019.2,84.8 1019.3,72.8 1019.4,67.7 1019.4,64.4 1019.5,61.4 1019.7,64.6 1019.8,73.1 1019.9,85.1 1020.0,97.7 1020.2,112.7 1020.4,126.0 1020.7,131.7 1021.8,132.6 1024.3,132.3 1026.7,132.4 1029.2,132.6 1031.7,133.0 1034.1,132.8 1036.6,132.9 1039.0,132.9 1041.5,133.0 1043.9,133.0 1046.4,133.0 1048.8,133.2 1049.9,133.1 1050.4,132.9 1050.7,132.0 1050.9,131.2 1051.1,130.3 1051.2,129.6 1051.3,129.3 1051.4,128.7 1051.6,128.8 1051.7,129.1 1051.9,129.6 1052.1,130.2 1052.2,131.1 1052.4,131.8 1052.8,132.9 1053.2,133.2 1053.7,133.1 1056.2,133.0 1058.7,133.4 1061.1,133.5 1063.6,133.1 1066.0,133.5 1068.5,133.3 1070.9,133.3 1073.4,133.3 1074.6,133.5 1075.1,133.0 1075.4,131.4 1075.7,130.3 1075.8,129.0 1075.8,129.2 1076.0,128.0 1076.2,127.4 1076.4,127.2 1076.6,127.3 1076.7,128.3 1076.9,129.1 1077.1,130.1 1077.3,131.7 1077.7,132.7 1078.2,133.3 1078.3,133.4 1080.7,133.6 1083.2,133.4 1085.3,133.3 1085.7,133.4 1085.9,132.9 1086.3,131.8 1086.6,130.3 1086.9,128.8 1087.1,127.7 1087.3,126.9 1087.6,126.6 1087.8,126.9 1088.0,127.8 1088.1,128.2 1088.2,129.1 1088.5,130.2 1088.8,131.6 1089.2,133.1 1089.9,133.4 1090.6,133.5 1093.0,133.8 1095.5,133.7 1096.3,133.3 1096.6,130.7 1096.9,125.0 1097.1,118.6 1097.2,112.7 1097.4,107.8 1097.5,104.0 1097.7,102.5 1097.8,104.1 1097.9,107.6 1097.9,107.9 1098.1,113.0 1098.2,118.7 1098.4,125.2 1098.7,130.7 1099.0,133.1 1100.4,133.8 1102.8,133.9 1105.3,133.6 1107.7,133.7 1110.2,133.8 1112.6,133.7 1114.8,133.6 1115.1,133.0 1115.3,132.3 1115.6,129.4 1115.8,125.9 1116.0,123.1 1116.1,120.6 1116.3,118.3 1116.5,117.9 1116.6,118.6 1116.8,120.4 1117.0,123.0 1117.1,126.2 1117.3,129.3 1117.6,131.5 1117.7,132.4 1118.1,133.8 1120.0,133.7 1122.5,133.8 1124.9,133.8 1125.4,134.0 1125.9,133.7 1126.3,133.6 1126.6,133.0 1126.8,132.8 1127.0,132.6 1127.2,132.6 1127.4,132.3 1127.6,132.3 1127.8,132.4 1128.0,132.9 1128.2,133.0 1128.4,133.6 1128.8,133.9 1129.3,133.8 1129.8,133.8 1130.9,134.1 1131.4,133.9 1131.8,133.7 1132.0,133.3 1132.2,132.9 1132.3,133.0 1132.4,133.0 1132.6,132.6 1132.8,132.6 1133.0,132.7 1133.2,132.9 1133.4,133.1 1133.6,133.5 1133.9,133.5 1134.3,133.6 1134.7,134.2 1134.8,134.1 1137.2,134.2 1139.6,134.0 1142.1,134.2 1144.6,134.3 1147.0,134.0 1147.4,134.1 1148.1,133.5 1148.5,132.0 1148.8,130.2 1149.0,128.7 1149.3,127.4 1149.5,126.5 1149.5,126.3 1149.7,126.2 1150.0,126.4 1150.2,127.6 1150.4,128.6 1150.7,130.4 1151.0,132.0 1151.4,133.6 1151.9,134.2 1152.0,134.2 1154.4,134.2 1156.8,134.0 1159.3,134.3 1161.7,134.0 1162.0,134.1 1162.5,133.7 1162.9,132.3 1163.1,130.8 1163.3,129.8 1163.5,128.4 1163.7,127.5 1163.9,127.1 1164.1,127.7 1164.2,127.8 1164.3,128.5 1164.5,129.5 1164.7,130.7 1165.0,132.3 1165.4,133.8 1165.9,134.0 1166.6,134.4 1169.1,134.5 1171.6,134.4 1174.0,134.5 1176.1,134.1 1176.5,134.2 1176.7,134.1 1177.1,132.8 1177.3,131.8 1177.5,130.9 1177.7,130.2 1177.9,129.5 1178.1,129.3 1178.3,129.7 1178.5,130.0 1178.7,130.8 1178.9,131.8 1178.9,131.9 1179.1,132.8 1179.5,134.1 1180.1,134.5 1181.4,134.2 1183.8,134.4 1186.3,134.3 1188.7,134.4 1191.2,134.4 1193.6,134.5 1196.1,134.5 1198.5,134.5 1201.0,134.4 1203.5,134.5 1205.9,134.4 1208.4,134.6 1210.8,134.7 1212.9,134.6 1213.3,134.4 1213.7,134.4 1214.2,134.2 1214.6,134.1 1214.9,133.9 1215.2,133.5 1215.5,133.6 1215.7,133.4 1216.0,133.4 1216.3,133.5 1216.6,133.8 1216.8,134.1 1217.2,134.3 1217.8,134.7 1218.2,134.6 1218.5,134.6 1220.6,134.7 1222.8,134.8 1223.1,134.4 1223.5,134.3 1224.1,133.3 1224.4,132.5 1224.7,131.6 1225.0,130.5 1225.3,130.1 1225.5,129.9 1225.8,129.9 1226.1,130.6 1226.4,131.3 1226.7,132.5 1227.0,133.4 1227.6,134.5 1228.0,134.8 1228.3,134.8 1230.5,134.9 1232.9,134.8 1235.4,134.7 1237.8,134.9 1240.3,134.7 1242.7,134.7" fill="none" stroke="#5b9bd5" stroke-width="2.4" stroke-linejoin="round" stroke-linecap="round"/>
<polyline points="970.3,173.1 972.8,174.7 975.2,176.1 975.8,176.4 976.6,176.6 977.3,176.6 977.7,176.0 977.7,176.2 978.0,176.2 978.4,175.8 978.7,175.9 979.0,175.6 979.4,175.9 979.7,176.2 980.0,176.8 980.1,177.0 980.3,177.1 980.8,177.8 981.4,178.4 982.3,179.2 982.6,179.2 984.5,179.5 985.0,179.9 985.4,179.7 986.0,179.8 986.4,179.4 986.8,179.2 987.1,179.4 987.4,179.0 987.5,179.0 987.8,179.4 988.1,179.5 988.4,179.5 988.7,180.1 989.1,180.3 989.5,180.7 989.9,180.8 990.2,181.3 991.0,181.5 991.6,181.7 992.4,181.8 992.4,181.5 993.1,181.4 993.5,181.0 993.9,180.8 994.2,180.6 994.5,180.6 994.8,180.7 995.2,180.6 995.5,181.1 995.8,181.3 996.2,181.6 996.6,182.2 997.2,182.4 997.3,182.4 998.1,182.7 999.8,183.0 1002.2,183.0 1004.7,183.7 1007.1,183.5 1007.4,183.9 1008.7,183.9 1009.6,183.4 1009.7,183.8 1010.3,183.4 1010.8,183.3 1011.3,182.9 1011.8,182.8 1012.0,182.8 1012.3,183.2 1012.8,182.9 1013.3,183.3 1013.8,183.7 1014.3,183.9 1014.5,183.8 1014.9,183.9 1015.9,184.3 1016.9,184.6 1017.2,184.3 1018.4,184.2 1018.7,180.9 1018.9,172.8 1019.1,163.4 1019.2,156.1 1019.3,148.5 1019.4,145.3 1019.4,143.5 1019.5,141.8 1019.7,143.4 1019.8,148.9 1019.9,156.0 1020.0,163.6 1020.2,172.6 1020.4,180.7 1020.7,184.0 1021.8,184.6 1024.3,184.9 1026.7,185.1 1029.2,184.9 1031.7,184.9 1034.1,185.4 1036.6,185.2 1039.0,185.2 1041.5,185.2 1043.9,185.4 1046.4,185.6 1048.8,185.5 1049.9,185.4 1050.4,184.8 1050.7,184.0 1050.9,182.3 1051.1,181.4 1051.2,180.5 1051.3,179.9 1051.4,179.7 1051.6,179.5 1051.7,179.7 1051.9,180.5 1052.1,181.2 1052.2,182.5 1052.4,183.7 1052.8,185.1 1053.2,185.4 1053.7,185.5 1056.2,185.8 1058.7,185.8 1061.1,185.9 1063.6,185.7 1066.0,185.7 1068.5,185.9 1070.9,185.8 1073.4,185.7 1074.6,185.7 1075.1,184.8 1075.4,183.0 1075.7,181.2 1075.8,179.4 1075.8,179.2 1076.0,177.5 1076.2,176.2 1076.4,175.7 1076.6,176.2 1076.7,177.6 1076.9,179.4 1077.1,180.9 1077.3,183.2 1077.7,185.1 1078.2,185.9 1078.3,185.9 1080.7,186.0 1083.2,185.9 1085.3,186.0 1085.7,185.5 1085.9,185.3 1086.3,183.9 1086.6,182.2 1086.9,180.6 1087.1,179.5 1087.3,178.4 1087.6,178.0 1087.8,178.1 1088.0,179.3 1088.1,179.7 1088.2,180.7 1088.5,182.1 1088.8,183.9 1089.2,185.4 1089.9,186.1 1090.6,186.0 1093.0,186.1 1095.5,186.2 1096.3,186.1 1096.6,184.8 1096.9,182.5 1097.1,179.7 1097.2,177.1 1097.4,175.0 1097.5,173.4 1097.7,172.6 1097.8,173.2 1097.9,174.6 1097.9,175.0 1098.1,177.3 1098.2,179.5 1098.4,182.4 1098.7,185.0 1099.0,186.1 1100.4,186.0 1102.8,186.3 1105.3,186.2 1107.7,186.3 1110.2,186.2 1112.6,186.3 1114.8,186.3 1115.1,186.1 1115.3,185.8 1115.6,184.3 1115.8,183.0 1116.0,181.9 1116.1,180.9 1116.3,180.0 1116.5,179.9 1116.6,180.1 1116.8,180.7 1117.0,182.0 1117.1,183.0 1117.3,184.3 1117.6,185.3 1117.7,185.7 1118.1,186.1 1120.0,186.2 1122.5,186.2 1124.9,186.4 1125.4,186.3 1125.9,186.3 1126.3,186.0 1126.6,185.5 1126.8,185.5 1127.0,184.9 1127.2,184.8 1127.4,184.7 1127.6,184.8 1127.8,184.9 1128.0,185.5 1128.2,185.6 1128.4,185.8 1128.8,186.3 1129.3,186.2 1129.8,186.5 1130.9,186.4 1131.4,186.4 1131.8,186.3 1132.0,186.0 1132.2,185.6 1132.3,185.7 1132.4,185.4 1132.6,185.2 1132.8,185.0 1133.0,185.3 1133.2,185.4 1133.4,185.8 1133.6,186.0 1133.9,186.2 1134.3,186.3 1134.7,186.6 1134.8,186.3 1137.2,186.3 1139.6,186.6 1142.1,186.6 1144.6,186.4 1147.0,186.7 1147.4,186.7 1148.1,185.9 1148.5,184.4 1148.8,182.6 1149.0,181.2 1149.3,180.2 1149.5,179.1 1149.5,179.2 1149.7,178.8 1150.0,179.0 1150.2,179.9 1150.4,181.5 1150.7,182.8 1151.0,184.4 1151.4,185.9 1151.9,186.7 1152.0,186.6 1154.4,186.6 1156.8,186.7 1159.3,186.6 1161.7,186.8 1162.0,186.6 1162.5,185.8 1162.9,184.3 1163.1,182.3 1163.3,180.2 1163.5,178.9 1163.7,177.6 1163.9,177.5 1164.1,177.8 1164.2,178.0 1164.3,178.8 1164.5,180.3 1164.7,182.4 1165.0,184.1 1165.4,186.0 1165.9,186.7 1166.6,186.9 1167.5,186.7 1168.2,186.4 1168.6,185.7 1168.9,185.6 1169.1,185.2 1169.3,185.2 1169.6,184.9 1169.9,184.8 1170.2,185.0 1170.6,185.2 1170.9,185.5 1171.2,186.0 1171.6,186.3 1171.7,186.1 1172.3,186.6 1173.2,186.8 1174.0,187.1 1176.1,187.1 1176.5,186.8 1176.7,186.4 1177.1,186.2 1177.3,185.4 1177.5,185.0 1177.7,184.5 1177.9,184.1 1178.1,183.9 1178.3,184.2 1178.5,184.4 1178.7,184.9 1178.9,185.6 1178.9,185.4 1179.1,186.0 1179.5,186.8 1180.1,186.7 1181.4,187.1 1183.8,187.1 1186.3,187.0 1188.7,186.9 1191.2,187.2 1193.6,187.3 1196.1,187.0 1198.5,187.1 1201.0,187.2 1203.5,187.2 1205.9,187.1 1208.4,187.1 1210.8,187.3 1212.9,187.4 1213.3,187.1 1213.7,187.1 1214.2,187.1 1214.6,186.8 1214.9,186.5 1215.2,186.0 1215.5,186.2 1215.7,186.2 1216.0,186.3 1216.3,186.3 1216.6,186.3 1216.8,186.8 1217.2,186.9 1217.8,187.3 1218.2,187.5 1218.5,187.4 1220.6,187.2 1222.8,187.2 1223.1,187.4 1223.5,186.8 1224.1,186.1 1224.4,184.9 1224.7,183.9 1225.0,183.3 1225.3,182.4 1225.5,182.2 1225.8,182.6 1226.1,183.1 1226.4,183.9 1226.7,185.0 1227.0,186.2 1227.6,187.2 1228.0,187.1 1228.3,187.4 1230.5,187.4 1232.9,187.5 1235.4,187.5 1237.8,187.7 1240.3,187.5 1242.7,187.4" fill="none" stroke="#ff6a13" stroke-width="2.4" stroke-linejoin="round" stroke-linecap="round"/>
<polyline points="970.3,226.9 972.8,228.4 975.2,230.0 977.7,230.9 980.1,232.1 982.6,232.9 985.0,233.5 987.5,234.4 989.9,234.8 992.4,235.5 994.8,235.8 997.3,236.2 999.8,236.7 1002.2,237.1 1004.7,237.1 1006.1,237.2 1006.4,236.6 1006.7,234.7 1006.9,232.4 1007.0,230.4 1007.1,229.1 1007.1,228.5 1007.3,227.6 1007.4,226.9 1007.5,227.3 1007.6,228.6 1007.8,230.5 1007.9,232.6 1008.1,234.5 1008.3,236.7 1008.7,237.6 1009.6,237.7 1012.0,237.9 1014.5,237.9 1016.9,238.0 1018.4,237.6 1018.7,234.4 1018.9,225.9 1019.1,216.6 1019.2,208.7 1019.3,201.1 1019.4,197.6 1019.4,195.9 1019.5,193.9 1019.7,195.7 1019.8,201.2 1019.9,208.7 1020.0,216.9 1020.2,226.1 1020.4,234.3 1020.7,238.1 1021.8,238.3 1024.3,238.5 1026.5,238.7 1026.7,238.3 1026.9,238.3 1027.2,237.3 1027.5,236.8 1027.6,236.1 1027.8,235.3 1027.9,235.0 1028.1,234.6 1028.3,234.9 1028.4,235.4 1028.6,236.0 1028.8,236.7 1029.0,237.7 1029.2,238.4 1029.3,238.3 1029.7,238.7 1031.7,238.6 1034.1,238.9 1036.6,239.0 1039.0,239.2 1041.5,239.1 1043.9,239.0 1046.4,239.0 1048.8,239.2 1049.9,238.9 1050.4,238.6 1050.7,237.3 1050.9,236.1 1051.1,235.0 1051.2,234.3 1051.3,233.7 1051.4,233.3 1051.6,233.1 1051.7,233.6 1051.9,234.0 1052.1,235.2 1052.2,236.3 1052.4,237.7 1052.8,238.8 1053.2,239.3 1053.7,239.1 1056.2,239.2 1058.7,239.2 1061.1,239.5 1063.6,239.5 1066.0,239.2 1068.5,239.2 1070.9,239.3 1073.4,239.3 1074.6,239.4 1075.1,239.0 1075.4,238.0 1075.7,236.8 1075.8,236.1 1075.8,236.1 1076.0,235.3 1076.2,234.9 1076.4,234.6 1076.6,234.7 1076.7,235.3 1076.9,236.2 1077.1,236.8 1077.3,238.3 1077.7,239.2 1078.2,239.6 1078.3,239.6 1080.7,239.5 1083.2,239.5 1085.3,239.3 1085.7,239.3 1085.9,238.7 1086.3,237.1 1086.6,235.5 1086.9,234.1 1087.1,232.8 1087.3,231.7 1087.6,231.4 1087.8,231.8 1088.0,232.7 1088.1,233.3 1088.2,234.0 1088.5,235.9 1088.8,237.4 1089.2,238.7 1089.9,239.4 1090.6,239.5 1093.0,239.6 1095.5,239.5 1096.3,239.6 1096.6,238.4 1096.9,234.9 1097.1,231.4 1097.2,228.1 1097.4,225.3 1097.5,223.3 1097.7,222.6 1097.8,223.6 1097.9,225.2 1097.9,225.3 1098.1,228.6 1098.2,231.4 1098.4,234.8 1098.7,238.2 1099.0,239.3 1100.4,239.7 1102.8,239.9 1105.3,239.9 1107.7,239.8 1110.2,239.7 1112.6,239.7 1114.8,239.6 1115.1,239.8 1115.3,239.6 1115.6,239.1 1115.8,238.3 1116.0,237.7 1116.1,237.5 1116.3,237.2 1116.5,237.0 1116.6,237.1 1116.8,237.5 1117.0,237.9 1117.1,238.3 1117.3,239.0 1117.6,239.4 1117.7,239.4 1118.1,239.6 1120.0,239.8 1120.6,239.7 1121.2,239.8 1121.7,239.7 1122.0,239.1 1122.3,239.1 1122.5,238.9 1122.5,238.8 1122.8,238.4 1123.0,238.3 1123.3,238.3 1123.5,238.5 1123.7,238.8 1124.0,239.2 1124.3,239.7 1124.8,239.9 1124.9,239.8 1125.4,239.9 1125.5,240.0 1125.9,239.6 1126.3,239.5 1126.6,239.3 1126.8,239.0 1127.0,238.7 1127.2,238.4 1127.4,238.2 1127.6,238.5 1127.8,238.5 1128.0,239.0 1128.2,239.4 1128.4,239.4 1128.8,239.7 1129.3,240.1 1129.8,240.0 1130.9,239.8 1131.4,239.7 1131.8,239.4 1132.0,239.5 1132.2,239.2 1132.3,238.9 1132.4,239.0 1132.6,238.9 1132.8,238.7 1133.0,238.7 1133.2,238.9 1133.4,238.9 1133.6,239.1 1133.9,239.8 1134.3,239.9 1134.7,240.0 1134.8,240.2 1137.2,240.0 1139.6,240.2 1142.1,240.2 1144.6,239.9 1147.0,240.0 1147.4,239.9 1148.1,239.3 1148.5,237.9 1148.8,236.1 1149.0,234.7 1149.3,233.3 1149.5,232.8 1149.5,232.4 1149.7,232.1 1150.0,232.5 1150.2,233.6 1150.4,234.7 1150.7,236.4 1151.0,237.9 1151.4,239.4 1151.9,240.0 1152.0,239.8 1154.4,240.1 1156.8,240.0 1159.3,240.0 1161.7,240.3 1162.0,240.0 1162.5,239.5 1162.9,238.2 1163.1,236.6 1163.3,235.1 1163.5,234.0 1163.7,233.1 1163.9,232.9 1164.1,232.9 1164.2,233.4 1164.3,233.9 1164.5,235.1 1164.7,236.7 1165.0,238.2 1165.4,239.6 1165.9,240.3 1166.6,240.4 1169.1,240.3 1171.6,240.3 1174.0,240.3 1176.1,240.3 1176.5,240.3 1176.7,240.1 1177.1,239.7 1177.3,239.1 1177.5,238.9 1177.7,238.3 1177.9,238.1 1178.1,238.0 1178.3,237.9 1178.5,238.3 1178.7,238.9 1178.9,239.3 1178.9,239.1 1179.1,239.5 1179.5,240.1 1180.1,240.2 1181.4,240.3 1183.8,240.2 1186.3,240.5 1188.7,240.6 1191.2,240.6 1193.6,240.3 1196.1,240.6 1198.5,240.6 1201.0,240.4 1203.5,240.7 1205.9,240.8 1208.4,240.5 1210.8,240.8 1212.9,240.6 1213.3,240.6 1213.7,240.8 1214.2,240.4 1214.6,239.9 1214.9,239.8 1215.2,239.6 1215.5,239.4 1215.7,239.2 1216.0,239.3 1216.3,239.7 1216.6,239.6 1216.8,240.1 1217.2,240.3 1217.8,240.4 1218.2,240.6 1218.5,240.7 1220.6,240.7 1222.8,240.5 1223.1,240.8 1223.5,240.5 1224.1,239.7 1224.4,238.4 1224.7,237.6 1225.0,236.8 1225.3,236.6 1225.5,236.2 1225.8,236.3 1226.1,237.0 1226.4,237.9 1226.7,238.7 1227.0,239.4 1227.6,240.2 1228.0,240.8 1228.3,240.8 1230.5,240.9 1232.9,240.6 1235.4,240.6 1237.8,240.9 1240.3,240.8 1242.7,240.7" fill="none" stroke="#4a4a4a" stroke-width="2.4" stroke-linejoin="round" stroke-linecap="round"/>
<line x1="1007.8" y1="119" x2="1007.8" y2="229" stroke="#404040" stroke-width="1.0" stroke-dasharray="4 2.8"/>
<polygon points="1003.5,119.0 1012.1,119.0 1007.8,111.2" fill="#ff0000"/>
<path d="M970.3,48.0 H1243.0" stroke="#1a1a1a" stroke-width="1.7" fill="none"/>
<path d="M970.3,47.1 V246.9 H1243.0 V47.1" stroke="#000" stroke-width="2.8" fill="none" stroke-linejoin="miter"/>
<line x1="997.6" y1="246.9" x2="997.6" y2="244.1" stroke="#000" stroke-width="1.4"/>
<line x1="1024.8" y1="246.9" x2="1024.8" y2="242.70000000000002" stroke="#000" stroke-width="1.4"/>
<line x1="1052.1" y1="246.9" x2="1052.1" y2="244.1" stroke="#000" stroke-width="1.4"/>
<line x1="1079.4" y1="246.9" x2="1079.4" y2="242.70000000000002" stroke="#000" stroke-width="1.4"/>
<line x1="1106.7" y1="246.9" x2="1106.7" y2="244.1" stroke="#000" stroke-width="1.4"/>
<line x1="1133.9" y1="246.9" x2="1133.9" y2="242.70000000000002" stroke="#000" stroke-width="1.4"/>
<line x1="1161.2" y1="246.9" x2="1161.2" y2="244.1" stroke="#000" stroke-width="1.4"/>
<line x1="1188.5" y1="246.9" x2="1188.5" y2="242.70000000000002" stroke="#000" stroke-width="1.4"/>
<line x1="1215.7" y1="246.9" x2="1215.7" y2="244.1" stroke="#000" stroke-width="1.4"/>
<text x="970.30" y="265.00" font-size="17" text-anchor="middle" >5</text>
<text x="1024.84" y="265.00" font-size="17" text-anchor="middle" >15</text>
<text x="1079.38" y="265.00" font-size="17" text-anchor="middle" >25</text>
<text x="1133.92" y="265.00" font-size="17" text-anchor="middle" >35</text>
<text x="1188.46" y="265.00" font-size="17" text-anchor="middle" >45</text>
<text x="1243.00" y="265.00" font-size="17" text-anchor="middle" >55</text>
<line x1="1110.4" y1="59.9" x2="1134.6" y2="59.9" stroke="#5b9bd5" stroke-width="2.1"/>
<line x1="1110.4" y1="77.4" x2="1134.6" y2="77.4" stroke="#ff6a13" stroke-width="2.1"/>
<line x1="1110.4" y1="95.9" x2="1134.6" y2="95.9" stroke="#4a4a4a" stroke-width="2.1"/>
<text x="1142.20" y="62.80" font-size="14" textLength="62.30" lengthAdjust="spacingAndGlyphs" >@ 150<tspan font-family="'Liberation Serif', serif" font-size="13.5" dy="-1.3"> °</tspan><tspan font-family="'Liberation Serif', serif" font-size="15.5" dy="1.3">C</tspan></text>
<text x="1142.20" y="81.30" font-size="14" >@</text>
<text x="1169.40" y="81.30" font-size="14" textLength="35.10" lengthAdjust="spacingAndGlyphs" >70<tspan font-family="'Liberation Serif', serif" font-size="13.5" dy="-1.3"> °</tspan><tspan font-family="'Liberation Serif', serif" font-size="15.5" dy="1.3">C</tspan></text>
<text x="1142.20" y="98.40" font-size="13.6" textLength="89.40" lengthAdjust="spacingAndGlyphs" >w/o annealing</text>
<text x="956.50" y="199.20" font-size="16" transform="rotate(-90 956.50 199.20)" textLength="105.00" lengthAdjust="spacingAndGlyphs" >Intensity (a.u.)</text>
<text x="1043.90" y="280.10" font-size="16.5" textLength="124.20" lengthAdjust="spacingAndGlyphs" >2 Theta (degree)</text>
<polyline points="970.0,370.6 972.5,371.5 974.9,372.1 977.4,372.7 979.8,372.9 982.3,373.3 984.7,373.7 987.2,374.0 989.6,374.5 992.1,374.5 994.5,374.9 997.0,374.9 999.4,375.1 1001.9,375.3 1004.3,375.6 1006.8,375.6 1009.3,375.5 1011.7,375.7 1014.2,375.7 1016.6,376.1 1018.1,375.3 1018.4,370.0 1018.6,357.2 1018.8,343.0 1018.9,330.8 1019.0,319.3 1019.1,313.8 1019.1,311.1 1019.2,308.0 1019.3,311.1 1019.5,319.2 1019.6,330.6 1019.7,342.8 1019.8,357.1 1020.1,369.9 1020.4,375.1 1021.5,376.2 1024.0,376.2 1026.4,376.3 1028.9,376.2 1031.3,376.2 1033.8,376.3 1036.2,376.1 1038.7,376.4 1041.1,376.3 1043.6,376.2 1046.1,376.2 1048.5,376.4 1049.6,376.3 1050.0,376.3 1050.4,376.0 1050.6,375.6 1050.7,375.3 1050.9,375.2 1051.0,375.0 1051.1,374.9 1051.2,374.8 1051.4,374.9 1051.6,375.0 1051.7,375.5 1051.9,375.9 1052.1,376.0 1052.4,376.4 1052.9,376.6 1053.4,376.2 1055.9,376.3 1058.3,376.6 1060.8,376.7 1063.2,376.6 1065.7,376.4 1068.1,376.5 1070.6,376.7 1073.0,376.8 1074.2,376.7 1074.7,376.2 1075.1,376.1 1075.3,375.3 1075.5,375.0 1075.5,374.8 1075.7,374.7 1075.9,374.3 1076.0,374.2 1076.2,374.1 1076.4,374.6 1076.6,375.0 1076.8,375.4 1077.0,375.9 1077.4,376.5 1077.8,376.5 1077.9,376.5 1080.4,376.5 1082.9,376.7 1084.9,376.5 1085.3,376.4 1085.5,376.1 1086.0,375.6 1086.3,374.8 1086.5,374.0 1086.8,373.1 1087.0,372.8 1087.2,372.6 1087.4,372.7 1087.7,373.1 1087.8,373.8 1087.9,373.9 1088.1,374.7 1088.4,375.5 1088.9,376.4 1089.5,376.5 1090.2,376.7 1092.7,376.7 1095.1,376.9 1095.9,376.0 1096.3,372.5 1096.6,363.8 1096.7,354.3 1096.9,345.6 1097.0,337.9 1097.2,332.3 1097.3,330.2 1097.4,332.2 1097.6,337.6 1097.6,338.1 1097.7,346.0 1097.9,354.0 1098.0,363.9 1098.3,372.8 1098.7,376.1 1100.0,376.8 1102.5,376.7 1104.9,376.7 1107.4,376.7 1109.8,376.7 1112.3,376.8 1114.5,376.6 1114.8,376.6 1114.9,376.2 1115.2,375.4 1115.5,374.1 1115.6,372.8 1115.8,372.2 1116.0,371.3 1116.1,371.1 1116.3,371.4 1116.4,372.0 1116.6,373.0 1116.8,374.1 1117.0,375.1 1117.2,376.3 1117.3,376.2 1117.7,376.9 1119.7,376.8 1122.1,376.8 1124.6,376.9 1125.1,376.7 1125.6,376.6 1126.0,376.4 1126.2,376.1 1126.4,376.0 1126.6,375.8 1126.8,375.2 1127.0,375.3 1127.2,375.2 1127.4,375.7 1127.6,375.8 1127.8,376.3 1128.1,376.5 1128.5,376.6 1129.0,376.7 1129.5,376.8 1130.5,377.1 1131.0,376.7 1131.4,376.6 1131.7,376.3 1131.9,376.0 1131.9,376.2 1132.1,375.7 1132.3,375.8 1132.5,375.7 1132.7,375.9 1132.9,375.9 1133.1,376.3 1133.3,376.3 1133.5,376.6 1133.9,376.9 1134.4,377.1 1134.4,377.1 1136.8,376.8 1139.3,376.8 1141.7,377.0 1144.2,377.2 1146.6,377.0 1147.1,376.9 1147.7,376.9 1148.1,375.8 1148.5,374.9 1148.7,374.2 1148.9,373.5 1149.1,373.4 1149.1,373.1 1149.4,373.1 1149.6,373.4 1149.8,373.9 1150.1,374.5 1150.3,375.1 1150.6,376.0 1151.1,376.9 1151.6,377.1 1151.7,376.9 1154.0,377.2 1156.5,376.9 1158.9,377.0 1161.4,377.3 1161.6,377.1 1162.1,376.8 1162.5,376.4 1162.8,375.6 1163.0,374.9 1163.2,374.4 1163.3,374.2 1163.5,374.1 1163.7,374.5 1163.8,374.3 1163.9,374.8 1164.1,375.3 1164.3,375.6 1164.6,376.5 1165.0,377.0 1165.5,377.1 1166.3,377.0 1168.7,377.1 1171.2,377.4 1173.6,377.2 1175.8,377.0 1176.1,377.0 1176.3,377.0 1176.7,376.4 1176.9,376.0 1177.1,375.3 1177.3,375.3 1177.5,374.7 1177.7,374.5 1177.9,374.9 1178.1,375.0 1178.3,375.7 1178.5,376.0 1178.5,376.1 1178.8,376.7 1179.2,376.9 1179.7,377.3 1181.0,377.3 1183.4,377.2 1185.9,377.5 1188.4,377.1 1190.8,377.5 1193.3,377.2 1195.7,377.5 1198.2,377.2 1200.6,377.2 1203.1,377.4 1205.5,377.6 1208.0,377.3 1210.4,377.4 1212.6,377.5 1212.9,377.3 1213.3,377.3 1213.9,376.9 1214.2,376.8 1214.5,376.7 1214.8,376.3 1215.1,376.1 1215.3,375.9 1215.6,376.3 1215.9,376.3 1216.2,376.8 1216.5,376.9 1216.8,376.9 1217.4,377.5 1217.8,377.6 1218.1,377.6 1220.2,377.6 1222.4,377.5 1222.7,377.5 1223.1,377.3 1223.7,376.7 1224.0,375.9 1224.3,375.3 1224.6,375.1 1224.9,374.7 1225.2,374.3 1225.4,374.7 1225.7,375.0 1226.0,375.5 1226.3,376.2 1226.6,376.8 1227.2,377.2 1227.6,377.6 1227.9,377.5 1230.1,377.6 1232.5,377.5 1235.0,377.7 1237.4,377.5 1239.9,377.8 1242.3,377.5" fill="none" stroke="#5b9bd5" stroke-width="2.4" stroke-linejoin="round" stroke-linecap="round"/>
<polyline points="970.0,430.7 972.5,431.3 974.9,432.5 977.4,433.0 979.8,434.0 982.3,434.2 984.7,435.0 987.2,435.4 989.6,435.9 992.1,436.3 994.5,436.2 997.0,436.5 999.4,436.9 1001.9,436.9 1004.3,437.1 1006.8,437.2 1009.3,437.6 1011.7,437.8 1014.2,437.8 1016.6,437.7 1018.1,437.4 1018.4,433.1 1018.6,422.7 1018.8,411.6 1018.9,401.8 1019.0,392.6 1019.1,388.7 1019.1,386.2 1019.2,383.9 1019.3,386.5 1019.5,392.9 1019.6,401.8 1019.7,411.8 1019.8,423.1 1020.1,433.1 1020.4,437.5 1021.5,437.8 1024.0,437.9 1026.4,438.0 1028.9,438.3 1031.3,438.3 1033.8,438.3 1036.2,438.2 1038.7,438.3 1041.1,438.5 1043.6,438.2 1046.1,438.3 1048.5,438.3 1049.6,438.4 1050.0,438.4 1050.4,437.7 1050.6,437.0 1050.7,436.5 1050.9,435.8 1051.0,436.0 1051.1,435.6 1051.2,435.4 1051.4,435.5 1051.6,436.1 1051.7,436.4 1051.9,437.2 1052.1,437.6 1052.4,438.2 1052.9,438.3 1053.4,438.7 1055.9,438.7 1058.3,438.6 1060.8,438.4 1063.2,438.6 1065.7,438.6 1068.1,438.8 1070.6,438.9 1073.0,438.8 1074.2,438.6 1074.7,438.2 1075.1,437.8 1075.3,437.0 1075.5,435.9 1075.5,436.0 1075.7,435.4 1075.9,435.1 1076.0,434.5 1076.2,434.7 1076.4,435.5 1076.6,436.1 1076.8,436.8 1077.0,437.7 1077.4,438.4 1077.8,438.8 1077.9,438.6 1080.4,438.6 1082.9,438.6 1084.9,438.7 1085.3,438.6 1085.5,438.3 1086.0,437.3 1086.3,436.4 1086.5,435.6 1086.8,434.7 1087.0,433.9 1087.2,433.9 1087.4,434.2 1087.7,434.8 1087.8,435.1 1087.9,435.3 1088.1,436.5 1088.4,437.4 1088.9,438.3 1089.5,438.8 1090.2,438.7 1092.7,438.7 1095.1,439.1 1095.9,438.5 1096.3,436.4 1096.6,430.8 1096.7,424.4 1096.9,419.0 1097.0,414.3 1097.2,410.7 1097.3,409.3 1097.4,410.5 1097.6,413.9 1097.6,414.4 1097.7,419.4 1097.9,424.4 1098.0,430.8 1098.3,436.3 1098.7,438.5 1100.0,439.1 1102.5,438.8 1104.9,438.8 1107.4,438.9 1109.8,439.1 1112.3,439.0 1114.5,438.9 1114.8,438.8 1114.9,438.1 1115.2,436.5 1115.5,434.2 1115.6,432.9 1115.8,431.0 1116.0,430.1 1116.1,429.8 1116.3,430.1 1116.4,431.2 1116.6,432.8 1116.8,434.6 1117.0,436.4 1117.2,437.6 1117.3,438.2 1117.7,438.9 1119.7,438.9 1122.1,439.1 1124.6,439.1 1125.1,438.9 1125.6,439.0 1126.0,438.8 1126.2,438.2 1126.4,438.2 1126.6,438.0 1126.8,437.6 1127.0,437.5 1127.2,437.5 1127.4,437.6 1127.6,437.9 1127.8,438.5 1128.1,438.5 1128.5,439.1 1129.0,439.2 1129.5,439.2 1130.5,438.9 1131.0,439.1 1131.4,438.6 1131.7,438.6 1131.9,438.4 1131.9,438.3 1132.1,438.1 1132.3,438.1 1132.5,437.7 1132.7,437.7 1132.9,438.2 1133.1,438.1 1133.3,438.5 1133.5,438.7 1133.9,439.2 1134.4,439.1 1134.4,439.2 1136.8,439.2 1139.3,439.2 1141.7,439.2 1144.2,439.2 1146.6,439.3 1147.1,439.2 1147.7,438.8 1148.1,438.2 1148.5,437.3 1148.7,436.1 1148.9,435.7 1149.1,434.8 1149.1,434.9 1149.4,434.9 1149.6,434.8 1149.8,435.6 1150.1,436.5 1150.3,437.1 1150.6,438.0 1151.1,438.7 1151.6,439.2 1151.7,439.2 1154.0,439.4 1156.5,439.3 1158.9,439.5 1161.4,439.3 1161.6,439.4 1162.1,439.1 1162.5,438.2 1162.8,437.8 1163.0,437.0 1163.2,436.4 1163.3,436.2 1163.5,435.9 1163.7,436.0 1163.8,436.0 1163.9,436.3 1164.1,437.1 1164.3,437.7 1164.6,438.5 1165.0,439.1 1165.5,439.4 1166.3,439.3 1168.7,439.5 1171.2,439.4 1173.6,439.3 1175.8,439.6 1176.1,439.5 1176.3,439.0 1176.7,438.9 1176.9,438.3 1177.1,437.7 1177.3,437.4 1177.5,437.2 1177.7,436.8 1177.9,437.1 1178.1,437.2 1178.3,437.6 1178.5,438.4 1178.5,438.5 1178.8,438.8 1179.2,439.4 1179.7,439.4 1181.0,439.4 1183.4,439.5 1185.9,439.6 1188.4,439.6 1190.8,439.5 1193.3,439.6 1195.7,439.5 1198.2,439.7 1200.6,439.8 1203.1,439.7 1205.5,439.6 1208.0,439.6 1210.4,439.9 1212.6,439.6 1212.9,439.7 1213.3,439.4 1213.9,439.2 1214.2,438.9 1214.5,438.9 1214.8,438.5 1215.1,438.5 1215.3,438.2 1215.6,438.6 1215.9,438.7 1216.2,438.7 1216.5,439.0 1216.8,439.2 1217.4,439.6 1217.8,439.5 1218.1,439.6 1220.2,439.9 1222.4,439.9 1222.7,439.5 1223.1,439.5 1223.7,438.9 1224.0,438.3 1224.3,437.5 1224.6,436.9 1224.9,436.5 1225.2,436.4 1225.4,436.5 1225.7,436.9 1226.0,437.6 1226.3,437.9 1226.6,438.9 1227.2,439.4 1227.6,439.6 1227.9,439.7 1230.1,439.8 1232.5,439.9 1235.0,439.9 1237.4,439.8 1239.9,439.8 1242.3,440.0" fill="none" stroke="#ff6a13" stroke-width="2.4" stroke-linejoin="round" stroke-linecap="round"/>
<polyline points="970.0,485.2 972.5,486.1 974.9,486.8 977.4,487.1 979.8,487.8 982.3,488.2 984.7,488.6 987.2,488.7 989.6,489.0 992.1,489.4 994.5,489.8 997.0,489.7 999.4,490.0 1001.9,490.1 1004.3,490.5 1006.8,490.6 1009.3,490.5 1011.7,490.8 1014.2,490.5 1016.6,490.9 1018.1,490.5 1018.4,486.7 1018.6,478.6 1018.8,469.2 1018.9,461.4 1019.0,453.5 1019.1,450.3 1019.1,448.5 1019.2,446.4 1019.3,448.2 1019.5,453.5 1019.6,461.4 1019.7,469.2 1019.8,478.7 1020.1,486.8 1020.4,490.5 1021.5,491.0 1024.0,491.1 1026.4,490.8 1028.9,491.0 1031.3,490.9 1033.8,491.2 1036.2,491.1 1038.7,491.4 1041.1,491.2 1043.6,491.4 1046.1,491.4 1048.5,491.2 1049.6,491.3 1050.0,491.4 1050.4,491.0 1050.6,490.7 1050.7,490.4 1050.9,490.4 1051.0,490.1 1051.1,490.2 1051.2,490.1 1051.4,490.2 1051.6,490.2 1051.7,490.6 1051.9,490.9 1052.1,490.9 1052.4,491.2 1052.9,491.5 1053.4,491.4 1055.9,491.3 1058.3,491.2 1060.8,491.5 1063.2,491.4 1065.7,491.4 1068.1,491.4 1070.6,491.5 1073.0,491.6 1074.2,491.4 1074.7,491.1 1075.1,491.0 1075.3,490.5 1075.5,489.6 1075.5,489.9 1075.7,489.5 1075.9,489.1 1076.0,489.1 1076.2,489.3 1076.4,489.5 1076.6,489.8 1076.8,490.2 1077.0,490.7 1077.4,491.1 1077.8,491.3 1077.9,491.4 1080.4,491.7 1082.9,491.6 1084.9,491.7 1085.3,491.6 1085.5,491.4 1086.0,490.4 1086.3,490.1 1086.5,489.1 1086.8,488.8 1087.0,488.4 1087.2,488.2 1087.4,488.2 1087.7,488.5 1087.8,488.7 1087.9,489.3 1088.1,489.8 1088.4,490.6 1088.9,491.2 1089.5,491.4 1090.2,491.5 1092.7,491.7 1095.1,491.6 1095.9,491.3 1096.3,489.6 1096.6,485.3 1096.7,480.5 1096.9,476.2 1097.0,472.6 1097.2,469.7 1097.3,468.5 1097.4,469.6 1097.6,472.2 1097.6,472.4 1097.7,476.2 1097.9,480.6 1098.0,485.3 1098.3,489.6 1098.7,491.6 1100.0,491.6 1102.5,491.7 1104.9,491.9 1107.4,491.7 1109.8,491.8 1112.3,491.7 1114.5,491.9 1114.8,491.6 1114.9,491.2 1115.2,490.3 1115.5,489.4 1115.6,488.4 1115.8,487.6 1116.0,486.8 1116.1,486.8 1116.3,487.1 1116.4,487.7 1116.6,488.4 1116.8,489.3 1117.0,490.4 1117.2,491.1 1117.3,491.3 1117.7,491.5 1119.7,491.7 1122.1,492.0 1124.6,491.9 1125.1,491.8 1125.6,491.8 1126.0,491.2 1126.2,490.9 1126.4,490.8 1126.6,490.6 1126.8,490.1 1127.0,490.2 1127.2,490.5 1127.4,490.5 1127.6,491.0 1127.8,490.9 1128.1,491.6 1128.5,491.8 1129.0,491.6 1129.5,491.9 1130.5,491.9 1131.0,491.6 1131.4,491.6 1131.7,491.4 1131.9,491.1 1131.9,490.9 1132.1,490.6 1132.3,490.6 1132.5,490.4 1132.7,490.6 1132.9,490.7 1133.1,490.9 1133.3,491.2 1133.5,491.6 1133.9,492.0 1134.4,491.8 1134.4,491.6 1136.8,492.0 1139.3,491.8 1141.7,492.0 1144.2,492.1 1146.6,491.7 1147.1,492.0 1147.7,491.5 1148.1,490.9 1148.5,490.2 1148.7,489.6 1148.9,488.9 1149.1,488.7 1149.1,488.5 1149.4,488.3 1149.6,488.5 1149.8,489.1 1150.1,489.5 1150.3,490.1 1150.6,490.9 1151.1,491.5 1151.6,492.1 1151.7,492.1 1154.0,491.8 1156.5,491.9 1158.9,492.0 1161.4,492.0 1161.6,492.0 1162.1,491.9 1162.5,491.6 1162.8,490.9 1163.0,490.7 1163.2,490.2 1163.3,490.1 1163.5,490.0 1163.7,490.3 1163.8,490.4 1163.9,490.6 1164.1,490.7 1164.3,491.1 1164.6,491.3 1165.0,492.0 1165.5,492.1 1166.3,492.0 1168.7,492.0 1171.2,492.2 1173.6,492.2 1175.8,492.2 1176.1,492.0 1176.3,491.9 1176.7,491.6 1176.9,491.2 1177.1,490.9 1177.3,490.7 1177.5,490.7 1177.7,490.6 1177.9,490.9 1178.1,490.8 1178.3,491.0 1178.5,491.6 1178.5,491.2 1178.8,491.6 1179.2,492.1 1179.7,492.0 1181.0,492.3 1183.4,492.3 1185.9,492.1 1188.4,492.3 1190.8,492.4 1193.3,492.2 1195.7,492.1 1198.2,492.1 1200.6,492.4 1203.1,492.4 1205.5,492.4 1208.0,492.4 1210.4,492.4 1212.6,492.2 1212.9,492.2 1213.3,492.4 1213.9,492.1 1214.2,491.7 1214.5,491.4 1214.8,491.1 1215.1,491.1 1215.3,491.2 1215.6,491.0 1215.9,491.2 1216.2,491.3 1216.5,491.7 1216.8,491.8 1217.4,492.3 1217.8,492.3 1218.1,492.3 1220.2,492.3 1222.4,492.3 1222.7,492.5 1223.1,492.3 1223.7,491.7 1224.0,490.8 1224.3,490.3 1224.6,489.8 1224.9,489.7 1225.2,489.6 1225.4,489.4 1225.7,490.0 1226.0,490.3 1226.3,490.9 1226.6,491.4 1227.2,492.2 1227.6,492.4 1227.9,492.6 1230.1,492.4 1232.5,492.4 1235.0,492.5 1237.4,492.3 1239.9,492.7 1242.3,492.6" fill="none" stroke="#4a4a4a" stroke-width="2.4" stroke-linejoin="round" stroke-linecap="round"/>
<path d="M970.0,299.8 H1242.6" stroke="#1a1a1a" stroke-width="1.7" fill="none"/>
<path d="M970.0,298.90000000000003 V497.8 H1242.6 V298.90000000000003" stroke="#000" stroke-width="2.8" fill="none" stroke-linejoin="miter"/>
<line x1="997.3" y1="497.8" x2="997.3" y2="495.0" stroke="#000" stroke-width="1.4"/>
<line x1="1024.5" y1="497.8" x2="1024.5" y2="493.6" stroke="#000" stroke-width="1.4"/>
<line x1="1051.8" y1="497.8" x2="1051.8" y2="495.0" stroke="#000" stroke-width="1.4"/>
<line x1="1079.0" y1="497.8" x2="1079.0" y2="493.6" stroke="#000" stroke-width="1.4"/>
<line x1="1106.3" y1="497.8" x2="1106.3" y2="495.0" stroke="#000" stroke-width="1.4"/>
<line x1="1133.6" y1="497.8" x2="1133.6" y2="493.6" stroke="#000" stroke-width="1.4"/>
<line x1="1160.8" y1="497.8" x2="1160.8" y2="495.0" stroke="#000" stroke-width="1.4"/>
<line x1="1188.1" y1="497.8" x2="1188.1" y2="493.6" stroke="#000" stroke-width="1.4"/>
<line x1="1215.3" y1="497.8" x2="1215.3" y2="495.0" stroke="#000" stroke-width="1.4"/>
<text x="970.00" y="516.00" font-size="17" text-anchor="middle" >5</text>
<text x="1024.52" y="516.00" font-size="17" text-anchor="middle" >15</text>
<text x="1079.04" y="516.00" font-size="17" text-anchor="middle" >25</text>
<text x="1133.56" y="516.00" font-size="17" text-anchor="middle" >35</text>
<text x="1188.08" y="516.00" font-size="17" text-anchor="middle" >45</text>
<text x="1242.60" y="516.00" font-size="17" text-anchor="middle" >55</text>
<line x1="1111" y1="310.5" x2="1134.6" y2="310.5" stroke="#5b9bd5" stroke-width="2.1"/>
<line x1="1111" y1="328.2" x2="1134.6" y2="328.2" stroke="#ff6a13" stroke-width="2.1"/>
<line x1="1111" y1="346.1" x2="1134.6" y2="346.1" stroke="#4a4a4a" stroke-width="2.1"/>
<text x="1142.50" y="314.10" font-size="14" textLength="62.30" lengthAdjust="spacingAndGlyphs" >@ 150<tspan font-family="'Liberation Serif', serif" font-size="13.5" dy="-1.3"> °</tspan><tspan font-family="'Liberation Serif', serif" font-size="15.5" dy="1.3">C</tspan></text>
<text x="1142.50" y="331.70" font-size="14" >@</text>
<text x="1169.70" y="331.70" font-size="14" textLength="35.10" lengthAdjust="spacingAndGlyphs" >70<tspan font-family="'Liberation Serif', serif" font-size="13.5" dy="-1.3"> °</tspan><tspan font-family="'Liberation Serif', serif" font-size="15.5" dy="1.3">C</tspan></text>
<text x="1142.50" y="348.60" font-size="13.6" textLength="89.40" lengthAdjust="spacingAndGlyphs" >w/o annealing</text>
<text x="956.50" y="452.00" font-size="16" transform="rotate(-90 956.50 452.00)" textLength="105.00" lengthAdjust="spacingAndGlyphs" >Intensity (a.u.)</text>
<text x="1043.90" y="531.50" font-size="16.5" textLength="124.20" lengthAdjust="spacingAndGlyphs" >2 Theta (degree)</text>
<polyline points="972.2,623.2 974.7,624.6 977.1,625.8 979.6,626.6 982.0,627.7 984.5,628.5 986.9,629.2 989.4,629.7 991.8,630.2 994.3,630.8 996.8,631.1 999.2,631.6 1001.7,631.7 1004.1,632.0 1006.6,632.6 1009.0,632.6 1011.5,632.9 1013.9,633.1 1016.4,633.1 1018.8,633.1 1020.3,632.7 1020.6,626.8 1020.9,612.9 1021.0,597.4 1021.1,584.3 1021.2,571.5 1021.3,566.0 1021.4,562.6 1021.5,559.5 1021.6,562.8 1021.7,571.5 1021.8,583.9 1021.9,597.4 1022.1,613.0 1022.3,626.9 1022.6,632.6 1023.8,633.6 1026.2,633.5 1028.7,633.6 1031.1,633.7 1033.6,634.0 1036.0,633.8 1038.5,633.8 1040.9,633.8 1043.4,633.8 1045.9,634.0 1048.3,634.2 1050.8,634.3 1051.9,634.1 1052.3,633.9 1052.6,633.3 1052.8,632.6 1053.0,632.3 1053.2,631.7 1053.2,631.4 1053.3,631.2 1053.5,631.3 1053.7,631.4 1053.8,631.8 1054.0,632.1 1054.1,632.8 1054.4,633.6 1054.7,634.0 1055.1,634.4 1055.7,634.1 1058.1,634.5 1060.6,634.1 1063.0,634.3 1065.5,634.1 1068.0,634.5 1070.4,634.5 1072.9,634.6 1075.3,634.6 1076.5,634.6 1077.0,634.1 1077.4,633.5 1077.6,632.6 1077.8,631.7 1077.8,632.0 1078.0,631.1 1078.1,630.5 1078.3,630.3 1078.5,630.6 1078.7,631.0 1078.9,632.0 1079.0,632.7 1079.3,633.2 1079.6,633.9 1080.1,634.4 1080.2,634.3 1082.7,634.5 1085.1,634.6 1087.2,634.4 1087.6,634.3 1087.8,634.3 1088.3,633.1 1088.6,632.0 1088.8,631.4 1089.0,630.5 1089.3,629.9 1089.5,629.6 1089.7,629.7 1090.0,630.5 1090.0,630.8 1090.2,631.3 1090.4,632.0 1090.7,633.1 1091.2,634.1 1091.8,634.6 1092.5,634.6 1095.0,634.6 1097.4,634.8 1098.2,634.0 1098.6,631.1 1098.9,623.4 1099.0,615.2 1099.2,608.0 1099.3,601.1 1099.5,596.5 1099.6,594.4 1099.7,596.5 1099.9,601.0 1099.9,601.1 1100.0,608.1 1100.2,615.1 1100.3,623.5 1100.6,631.2 1101.0,634.0 1102.3,634.6 1104.8,634.8 1107.2,634.5 1109.7,634.9 1112.1,634.6 1114.6,634.8 1116.8,634.5 1117.1,634.2 1117.2,633.7 1117.5,631.4 1117.8,629.2 1117.9,627.0 1118.1,625.2 1118.3,623.7 1118.4,623.2 1118.6,623.7 1118.7,625.0 1118.9,627.2 1119.1,628.9 1119.3,631.7 1119.5,633.4 1119.6,633.7 1120.1,634.8 1122.0,634.9 1124.4,634.9 1126.9,634.7 1127.4,634.7 1127.9,634.6 1128.3,634.3 1128.5,634.3 1128.7,633.7 1128.9,633.5 1129.1,633.3 1129.3,633.4 1129.5,633.3 1129.7,633.5 1129.9,633.7 1130.1,634.0 1130.4,634.2 1130.8,634.6 1131.3,634.7 1131.8,635.0 1132.8,634.9 1133.3,634.6 1133.7,634.5 1134.0,634.1 1134.2,634.0 1134.2,633.9 1134.4,634.0 1134.6,633.5 1134.8,633.7 1135.0,633.5 1135.2,634.0 1135.4,634.1 1135.6,634.1 1135.8,634.7 1136.2,634.7 1136.7,634.8 1136.8,634.7 1139.2,635.1 1141.6,634.8 1144.1,635.1 1146.5,634.9 1149.0,635.1 1149.4,634.8 1150.0,634.2 1150.5,633.4 1150.8,631.9 1151.0,630.5 1151.2,629.8 1151.4,629.1 1151.5,628.7 1151.7,628.3 1151.9,628.9 1152.2,629.4 1152.4,630.8 1152.6,631.8 1152.9,633.3 1153.4,634.5 1153.9,635.0 1154.0,635.1 1156.3,635.1 1158.8,635.1 1161.3,635.0 1163.7,634.9 1163.9,634.9 1164.4,634.9 1164.8,633.9 1165.1,633.1 1165.3,632.4 1165.5,631.8 1165.7,631.3 1165.9,631.3 1166.1,631.3 1166.2,631.4 1166.3,631.8 1166.5,632.6 1166.7,633.4 1166.9,633.9 1167.3,634.9 1167.9,635.3 1168.6,635.4 1171.1,635.0 1173.5,635.1 1176.0,635.3 1178.1,635.3 1178.4,634.9 1178.6,635.0 1179.0,634.8 1179.3,634.4 1179.5,633.9 1179.7,633.4 1179.9,633.3 1180.1,633.0 1180.3,633.2 1180.5,633.5 1180.7,634.0 1180.9,634.3 1180.9,634.3 1181.1,634.6 1181.5,635.0 1182.0,635.3 1183.3,635.2 1185.8,635.1 1188.3,635.4 1190.7,635.3 1193.2,635.5 1195.6,635.4 1198.1,635.4 1200.5,635.3 1203.0,635.4 1205.4,635.6 1207.9,635.6 1210.4,635.5 1212.8,635.4 1214.9,635.3 1215.3,635.6 1215.7,635.3 1216.2,635.1 1216.6,634.7 1216.9,634.4 1217.2,634.4 1217.4,634.5 1217.7,634.3 1218.0,634.4 1218.3,634.5 1218.6,634.5 1218.8,634.7 1219.2,635.2 1219.8,635.2 1220.2,635.5 1220.5,635.5 1222.6,635.6 1224.8,635.3 1225.1,635.3 1225.5,635.2 1226.1,634.4 1226.4,633.9 1226.7,633.1 1227.0,632.7 1227.3,632.3 1227.5,632.1 1227.8,632.2 1228.1,632.5 1228.4,633.2 1228.7,634.1 1229.0,634.5 1229.6,635.2 1230.0,635.5 1230.3,635.6 1232.5,635.7 1234.9,635.5 1237.4,635.8 1239.8,635.5 1242.3,635.8 1244.7,635.7" fill="none" stroke="#5b9bd5" stroke-width="2.4" stroke-linejoin="round" stroke-linecap="round"/>
<polyline points="972.2,682.1 974.7,683.6 977.1,684.6 979.6,685.2 982.0,686.3 984.5,686.9 986.9,687.2 989.4,688.1 991.8,688.3 994.3,688.7 996.8,689.1 999.2,689.5 1001.7,689.5 1004.1,690.0 1006.6,690.3 1009.0,690.3 1011.5,690.6 1013.9,690.7 1016.4,690.9 1018.8,690.7 1020.3,690.3 1020.6,686.6 1020.9,677.3 1021.0,667.5 1021.1,658.7 1021.2,650.3 1021.3,646.7 1021.4,644.5 1021.5,642.3 1021.6,644.4 1021.7,650.4 1021.8,658.4 1021.9,667.4 1022.1,677.5 1022.3,686.5 1022.6,690.6 1023.8,690.8 1026.2,691.0 1028.7,691.3 1031.1,691.1 1033.6,691.3 1036.0,691.4 1038.5,691.4 1040.9,691.4 1043.4,691.5 1045.9,691.5 1048.3,691.3 1050.8,691.7 1051.9,691.4 1052.3,691.0 1052.6,690.4 1052.8,689.8 1053.0,689.0 1053.2,688.2 1053.2,688.0 1053.3,687.6 1053.5,687.6 1053.7,687.7 1053.8,688.1 1054.0,688.8 1054.1,689.5 1054.4,690.6 1054.7,691.4 1055.1,691.7 1055.7,691.5 1058.1,691.5 1060.6,691.9 1063.0,691.6 1065.5,691.6 1068.0,691.8 1070.4,691.8 1072.9,691.8 1075.3,691.8 1076.5,691.6 1077.0,691.3 1077.4,690.2 1077.6,689.2 1077.8,688.1 1077.8,688.1 1078.0,687.4 1078.1,686.4 1078.3,686.4 1078.5,686.5 1078.7,687.3 1078.9,688.2 1079.0,689.2 1079.3,690.3 1079.6,691.2 1080.1,691.5 1080.2,691.9 1082.7,691.7 1085.1,691.7 1087.2,691.9 1087.6,691.7 1087.8,691.2 1088.3,690.5 1088.6,689.3 1088.8,688.7 1089.0,687.6 1089.3,687.3 1089.5,686.9 1089.7,686.9 1090.0,687.7 1090.0,688.2 1090.2,688.6 1090.4,689.3 1090.7,690.4 1091.2,691.3 1091.8,691.7 1092.5,691.9 1095.0,692.0 1097.4,691.8 1098.2,691.7 1098.6,690.0 1098.9,685.7 1099.0,680.6 1099.2,676.3 1099.3,672.9 1099.5,669.8 1099.6,668.8 1099.7,670.1 1099.9,672.5 1099.9,672.8 1100.0,676.8 1100.2,680.7 1100.3,685.5 1100.6,689.8 1101.0,691.8 1102.3,691.9 1104.8,691.9 1107.2,692.1 1109.7,691.9 1112.1,692.0 1114.6,692.0 1116.8,691.7 1117.1,691.4 1117.2,691.1 1117.5,689.0 1117.8,686.3 1117.9,684.3 1118.1,682.2 1118.3,681.0 1118.4,680.4 1118.6,681.0 1118.7,682.3 1118.9,684.2 1119.1,686.6 1119.3,689.0 1119.5,690.4 1119.6,690.8 1120.1,691.7 1122.0,691.9 1124.4,691.9 1126.9,692.1 1127.4,692.1 1127.9,691.8 1128.3,691.8 1128.5,691.4 1128.7,691.1 1128.9,691.0 1129.1,690.5 1129.3,690.7 1129.5,690.8 1129.7,691.0 1129.9,690.9 1130.1,691.5 1130.4,691.9 1130.8,691.8 1131.3,692.3 1131.8,692.3 1132.8,691.9 1133.3,692.1 1133.7,691.9 1134.0,691.6 1134.2,691.1 1134.2,691.4 1134.4,690.9 1134.6,690.7 1134.8,691.0 1135.0,690.9 1135.2,690.9 1135.4,691.2 1135.6,691.6 1135.8,691.7 1136.2,692.2 1136.7,692.2 1136.8,692.1 1139.2,692.1 1141.6,692.0 1144.1,692.4 1146.5,692.1 1149.0,692.4 1149.4,692.2 1150.0,691.9 1150.5,690.9 1150.8,690.1 1151.0,689.1 1151.2,688.5 1151.4,688.1 1151.5,688.1 1151.7,687.6 1151.9,687.8 1152.2,688.6 1152.4,689.1 1152.6,689.9 1152.9,691.0 1153.4,691.8 1153.9,692.4 1154.0,692.0 1156.3,692.4 1158.8,692.3 1161.3,692.1 1163.7,692.2 1163.9,692.4 1164.4,691.7 1164.8,690.9 1165.1,689.7 1165.3,689.0 1165.5,688.2 1165.7,687.7 1165.9,687.3 1166.1,687.5 1166.2,687.9 1166.3,688.3 1166.5,689.0 1166.7,689.7 1166.9,691.1 1167.3,691.8 1167.9,692.3 1168.6,692.2 1171.1,692.2 1173.5,692.2 1176.0,692.4 1178.1,692.3 1178.4,692.4 1178.6,691.9 1179.0,691.5 1179.3,690.5 1179.5,690.0 1179.7,689.7 1179.9,689.0 1180.1,688.8 1180.3,688.9 1180.5,689.7 1180.7,690.1 1180.9,690.6 1180.9,690.8 1181.1,691.3 1181.5,692.3 1182.0,692.4 1183.3,692.2 1185.8,692.3 1188.3,692.3 1190.7,692.6 1193.2,692.3 1195.6,692.5 1198.1,692.6 1200.5,692.4 1203.0,692.6 1205.4,692.6 1207.9,692.8 1210.4,692.8 1212.8,692.8 1214.9,692.6 1215.3,692.6 1215.7,692.5 1216.2,692.1 1216.6,692.0 1216.9,692.0 1217.2,691.6 1217.4,691.6 1217.7,691.2 1218.0,691.3 1218.3,691.5 1218.6,692.0 1218.8,692.0 1219.2,692.4 1219.8,692.4 1220.2,692.7 1220.5,692.6 1222.6,692.9 1224.8,692.4 1225.1,692.5 1225.5,692.5 1226.1,691.7 1226.4,690.9 1226.7,690.5 1227.0,689.7 1227.3,689.5 1227.5,689.2 1227.8,689.2 1228.1,689.6 1228.4,690.5 1228.7,691.2 1229.0,691.6 1229.6,692.6 1230.0,692.8 1230.3,692.7 1232.5,692.8 1234.9,692.8 1237.4,692.6 1239.8,692.7 1242.3,692.7 1244.7,693.0" fill="none" stroke="#ff6a13" stroke-width="2.4" stroke-linejoin="round" stroke-linecap="round"/>
<polyline points="972.2,726.2 974.7,727.6 977.1,728.9 979.6,729.7 982.0,730.5 984.5,731.7 986.9,732.2 989.4,732.8 991.8,733.5 994.3,733.7 996.8,734.5 999.2,734.6 1001.7,734.8 1004.1,735.4 1006.6,735.5 1009.0,735.5 1011.5,736.0 1013.9,736.2 1016.4,736.3 1018.8,736.4 1020.3,736.2 1020.6,732.9 1020.9,726.5 1021.0,718.7 1021.1,712.0 1021.2,706.0 1021.3,703.1 1021.4,701.6 1021.5,700.0 1021.6,701.6 1021.7,705.8 1021.8,712.1 1021.9,718.6 1022.1,726.4 1022.3,733.4 1022.6,736.2 1023.8,736.5 1026.2,736.5 1028.7,736.8 1031.1,736.7 1033.6,737.1 1036.0,736.8 1038.5,737.2 1040.9,736.8 1043.4,737.2 1045.9,737.0 1048.3,737.2 1050.8,737.1 1051.9,737.1 1052.3,736.9 1052.6,736.6 1052.8,735.9 1053.0,735.5 1053.2,735.2 1053.2,734.8 1053.3,734.7 1053.5,734.7 1053.7,734.8 1053.8,735.0 1054.0,735.7 1054.1,736.0 1054.4,736.3 1054.7,736.9 1055.1,737.0 1055.7,737.2 1058.1,737.1 1060.6,737.2 1063.0,737.3 1065.5,737.4 1068.0,737.3 1070.4,737.4 1072.9,737.4 1075.3,737.5 1076.5,737.6 1077.0,737.0 1077.4,736.5 1077.6,735.5 1077.8,735.0 1077.8,734.9 1078.0,733.9 1078.1,733.4 1078.3,733.6 1078.5,733.5 1078.7,734.2 1078.9,734.6 1079.0,735.5 1079.3,736.3 1079.6,737.1 1080.1,737.2 1080.2,737.6 1082.7,737.6 1085.1,737.6 1087.2,737.5 1087.6,737.1 1087.8,736.9 1088.3,736.0 1088.6,734.5 1088.8,733.5 1089.0,732.7 1089.3,731.7 1089.5,731.8 1089.7,731.7 1090.0,732.7 1090.0,732.8 1090.2,733.4 1090.4,734.6 1090.7,736.0 1091.2,736.9 1091.8,737.5 1092.5,737.7 1095.0,737.4 1097.4,737.6 1098.2,737.3 1098.6,735.3 1098.9,730.7 1099.0,725.2 1099.2,720.4 1099.3,716.2 1099.5,713.3 1099.6,712.0 1099.7,713.4 1099.9,716.4 1099.9,716.4 1100.0,720.9 1100.2,725.1 1100.3,730.6 1100.6,735.4 1101.0,737.2 1102.3,737.6 1104.8,737.6 1107.2,737.5 1109.7,737.7 1112.1,737.5 1114.6,737.9 1116.8,737.5 1117.1,737.3 1117.2,736.8 1117.5,734.4 1117.8,732.5 1117.9,730.4 1118.1,728.4 1118.3,727.0 1118.4,726.6 1118.6,727.0 1118.7,728.2 1118.9,730.4 1119.1,732.1 1119.3,734.7 1119.5,736.3 1119.6,736.9 1120.1,737.6 1122.0,737.9 1124.4,737.7 1126.9,737.9 1127.4,737.7 1127.9,737.6 1128.3,737.4 1128.5,737.2 1128.7,737.0 1128.9,736.7 1129.1,736.3 1129.3,736.1 1129.5,736.4 1129.7,736.6 1129.9,736.9 1130.1,736.9 1130.4,737.5 1130.8,737.6 1131.3,738.0 1131.8,738.1 1132.8,737.9 1133.3,737.7 1133.7,737.6 1134.0,737.1 1134.2,737.1 1134.2,737.1 1134.4,737.0 1134.6,736.7 1134.8,736.7 1135.0,736.9 1135.2,736.8 1135.4,737.0 1135.6,737.5 1135.8,737.3 1136.2,737.7 1136.7,738.0 1136.8,738.1 1139.2,738.1 1141.6,737.8 1144.1,738.1 1146.5,737.9 1149.0,738.0 1149.4,738.0 1150.0,737.7 1150.5,736.2 1150.8,735.0 1151.0,733.9 1151.2,732.9 1151.4,732.2 1151.5,732.2 1151.7,731.9 1151.9,732.2 1152.2,733.2 1152.4,733.8 1152.6,735.1 1152.9,736.2 1153.4,737.3 1153.9,738.1 1154.0,738.1 1156.3,738.2 1158.8,737.9 1161.3,738.2 1163.7,738.0 1163.9,738.2 1164.4,737.8 1164.8,737.0 1165.1,736.2 1165.3,735.3 1165.5,734.8 1165.7,734.4 1165.9,734.2 1166.1,734.4 1166.2,734.7 1166.3,734.6 1166.5,735.6 1166.7,736.4 1166.9,737.0 1167.3,737.7 1167.9,738.2 1168.6,738.0 1171.1,738.3 1173.5,738.3 1176.0,738.0 1178.1,738.2 1178.4,738.1 1178.6,738.1 1179.0,737.5 1179.3,736.8 1179.5,736.3 1179.7,736.0 1179.9,735.7 1180.1,735.6 1180.3,735.9 1180.5,736.3 1180.7,736.4 1180.9,737.0 1180.9,737.1 1181.1,737.6 1181.5,738.2 1182.0,738.2 1183.3,738.3 1185.8,738.3 1188.3,738.1 1190.7,738.3 1193.2,738.5 1195.6,738.4 1198.1,738.2 1200.5,738.3 1203.0,738.3 1205.4,738.4 1207.9,738.4 1210.4,738.3 1212.8,738.4 1214.9,738.7 1215.3,738.4 1215.7,738.4 1216.2,738.3 1216.6,737.8 1216.9,737.6 1217.2,737.4 1217.4,737.1 1217.7,737.0 1218.0,737.1 1218.3,737.5 1218.6,737.8 1218.8,738.0 1219.2,738.0 1219.8,738.3 1220.2,738.7 1220.5,738.6 1222.6,738.5 1224.8,738.6 1225.1,738.3 1225.5,738.1 1226.1,737.8 1226.4,737.0 1226.7,736.2 1227.0,735.6 1227.3,735.4 1227.5,735.1 1227.8,735.4 1228.1,735.4 1228.4,736.3 1228.7,736.8 1229.0,737.7 1229.6,738.5 1230.0,738.3 1230.3,738.6 1232.5,738.7 1234.9,738.6 1237.4,738.5 1239.8,738.7 1242.3,738.8 1244.7,738.7" fill="none" stroke="#4a4a4a" stroke-width="2.4" stroke-linejoin="round" stroke-linecap="round"/>
<path d="M972.2,550.6 H1245.0" stroke="#1a1a1a" stroke-width="1.7" fill="none"/>
<path d="M972.2,549.7 V749.3 H1245.0 V549.7" stroke="#000" stroke-width="2.8" fill="none" stroke-linejoin="miter"/>
<line x1="999.5" y1="749.3" x2="999.5" y2="746.5" stroke="#000" stroke-width="1.4"/>
<line x1="1026.8" y1="749.3" x2="1026.8" y2="745.0999999999999" stroke="#000" stroke-width="1.4"/>
<line x1="1054.0" y1="749.3" x2="1054.0" y2="746.5" stroke="#000" stroke-width="1.4"/>
<line x1="1081.3" y1="749.3" x2="1081.3" y2="745.0999999999999" stroke="#000" stroke-width="1.4"/>
<line x1="1108.6" y1="749.3" x2="1108.6" y2="746.5" stroke="#000" stroke-width="1.4"/>
<line x1="1135.9" y1="749.3" x2="1135.9" y2="745.0999999999999" stroke="#000" stroke-width="1.4"/>
<line x1="1163.2" y1="749.3" x2="1163.2" y2="746.5" stroke="#000" stroke-width="1.4"/>
<line x1="1190.4" y1="749.3" x2="1190.4" y2="745.0999999999999" stroke="#000" stroke-width="1.4"/>
<line x1="1217.7" y1="749.3" x2="1217.7" y2="746.5" stroke="#000" stroke-width="1.4"/>
<text x="972.20" y="766.60" font-size="17" text-anchor="middle" >5</text>
<text x="1026.76" y="766.60" font-size="17" text-anchor="middle" >15</text>
<text x="1081.32" y="766.60" font-size="17" text-anchor="middle" >25</text>
<text x="1135.88" y="766.60" font-size="17" text-anchor="middle" >35</text>
<text x="1190.44" y="766.60" font-size="17" text-anchor="middle" >45</text>
<text x="1245.00" y="766.60" font-size="17" text-anchor="middle" >55</text>
<line x1="1112.8" y1="561.6" x2="1137.7" y2="561.6" stroke="#5b9bd5" stroke-width="2.1"/>
<line x1="1112.8" y1="579.2" x2="1137.7" y2="579.2" stroke="#ff6a13" stroke-width="2.1"/>
<line x1="1112.8" y1="597.5" x2="1137.7" y2="597.5" stroke="#4a4a4a" stroke-width="2.1"/>
<text x="1144.40" y="565.30" font-size="14" textLength="62.30" lengthAdjust="spacingAndGlyphs" >@ 150<tspan font-family="'Liberation Serif', serif" font-size="13.5" dy="-1.3"> °</tspan><tspan font-family="'Liberation Serif', serif" font-size="15.5" dy="1.3">C</tspan></text>
<text x="1144.40" y="582.90" font-size="14" >@</text>
<text x="1171.60" y="582.90" font-size="14" textLength="35.10" lengthAdjust="spacingAndGlyphs" >70<tspan font-family="'Liberation Serif', serif" font-size="13.5" dy="-1.3"> °</tspan><tspan font-family="'Liberation Serif', serif" font-size="15.5" dy="1.3">C</tspan></text>
<text x="1144.40" y="600.50" font-size="13.6" textLength="89.40" lengthAdjust="spacingAndGlyphs" >w/o annealing</text>
<text x="959.20" y="701.20" font-size="16" transform="rotate(-90 959.20 701.20)" textLength="105.00" lengthAdjust="spacingAndGlyphs" >Intensity (a.u.)</text>
<text x="1046.30" y="782.60" font-size="16.5" textLength="123.70" lengthAdjust="spacingAndGlyphs" >2 Theta (degree)</text>
</svg>
</body></html>
